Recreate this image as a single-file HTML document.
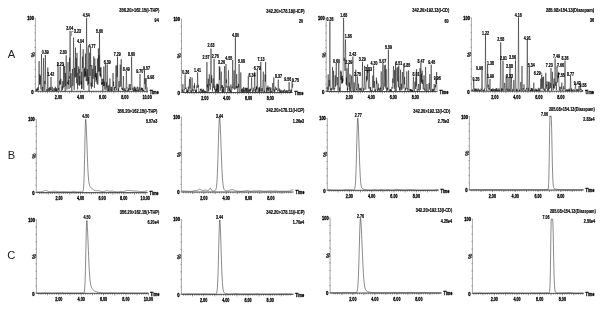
<!DOCTYPE html>
<html><head><meta charset="utf-8"><style>
html,body{margin:0;padding:0;background:#fff;}
body{width:604px;height:310px;overflow:hidden;position:relative;font-family:"Liberation Sans", sans-serif;}
</style></head><body>
<svg width="604" height="310" viewBox="0 0 604 310" style="position:absolute;left:0;top:0;will-change:transform" font-family='"Liberation Sans", sans-serif'>
<rect width="604" height="310" fill="#fff"/>
<line x1="35.40" y1="18.30" x2="35.40" y2="91.30" stroke="#888" stroke-width="0.75"/>
<line x1="34.40" y1="91.30" x2="35.70" y2="91.30" stroke="#777" stroke-width="0.6"/>
<line x1="34.40" y1="84.00" x2="35.70" y2="84.00" stroke="#777" stroke-width="0.6"/>
<line x1="34.40" y1="76.70" x2="35.70" y2="76.70" stroke="#777" stroke-width="0.6"/>
<line x1="34.40" y1="69.40" x2="35.70" y2="69.40" stroke="#777" stroke-width="0.6"/>
<line x1="34.40" y1="62.10" x2="35.70" y2="62.10" stroke="#777" stroke-width="0.6"/>
<line x1="34.40" y1="54.80" x2="35.70" y2="54.80" stroke="#777" stroke-width="0.6"/>
<line x1="34.40" y1="47.50" x2="35.70" y2="47.50" stroke="#777" stroke-width="0.6"/>
<line x1="34.40" y1="40.20" x2="35.70" y2="40.20" stroke="#777" stroke-width="0.6"/>
<line x1="34.40" y1="32.90" x2="35.70" y2="32.90" stroke="#777" stroke-width="0.6"/>
<line x1="34.40" y1="25.60" x2="35.70" y2="25.60" stroke="#777" stroke-width="0.6"/>
<line x1="34.40" y1="18.30" x2="35.70" y2="18.30" stroke="#777" stroke-width="0.6"/>
<line x1="35.40" y1="91.30" x2="147.90" y2="91.30" stroke="#111" stroke-width="0.75"/>
<line x1="38.47" y1="91.30" x2="38.47" y2="92.70" stroke="#333" stroke-width="0.55"/>
<line x1="40.68" y1="91.30" x2="40.68" y2="92.70" stroke="#333" stroke-width="0.55"/>
<line x1="42.90" y1="91.30" x2="42.90" y2="92.70" stroke="#333" stroke-width="0.55"/>
<line x1="45.11" y1="91.30" x2="45.11" y2="92.70" stroke="#333" stroke-width="0.55"/>
<line x1="47.33" y1="91.30" x2="47.33" y2="93.30" stroke="#333" stroke-width="0.6"/>
<line x1="49.55" y1="91.30" x2="49.55" y2="92.70" stroke="#333" stroke-width="0.55"/>
<line x1="51.76" y1="91.30" x2="51.76" y2="92.70" stroke="#333" stroke-width="0.55"/>
<line x1="53.98" y1="91.30" x2="53.98" y2="92.70" stroke="#333" stroke-width="0.55"/>
<line x1="56.19" y1="91.30" x2="56.19" y2="92.70" stroke="#333" stroke-width="0.55"/>
<line x1="58.41" y1="91.30" x2="58.41" y2="93.30" stroke="#333" stroke-width="0.6"/>
<line x1="60.63" y1="91.30" x2="60.63" y2="92.70" stroke="#333" stroke-width="0.55"/>
<line x1="62.84" y1="91.30" x2="62.84" y2="92.70" stroke="#333" stroke-width="0.55"/>
<line x1="65.06" y1="91.30" x2="65.06" y2="92.70" stroke="#333" stroke-width="0.55"/>
<line x1="67.27" y1="91.30" x2="67.27" y2="92.70" stroke="#333" stroke-width="0.55"/>
<line x1="69.49" y1="91.30" x2="69.49" y2="93.30" stroke="#333" stroke-width="0.6"/>
<line x1="71.71" y1="91.30" x2="71.71" y2="92.70" stroke="#333" stroke-width="0.55"/>
<line x1="73.92" y1="91.30" x2="73.92" y2="92.70" stroke="#333" stroke-width="0.55"/>
<line x1="76.14" y1="91.30" x2="76.14" y2="92.70" stroke="#333" stroke-width="0.55"/>
<line x1="78.35" y1="91.30" x2="78.35" y2="92.70" stroke="#333" stroke-width="0.55"/>
<line x1="80.57" y1="91.30" x2="80.57" y2="93.30" stroke="#333" stroke-width="0.6"/>
<line x1="82.79" y1="91.30" x2="82.79" y2="92.70" stroke="#333" stroke-width="0.55"/>
<line x1="85.00" y1="91.30" x2="85.00" y2="92.70" stroke="#333" stroke-width="0.55"/>
<line x1="87.22" y1="91.30" x2="87.22" y2="92.70" stroke="#333" stroke-width="0.55"/>
<line x1="89.43" y1="91.30" x2="89.43" y2="92.70" stroke="#333" stroke-width="0.55"/>
<line x1="91.65" y1="91.30" x2="91.65" y2="93.30" stroke="#333" stroke-width="0.6"/>
<line x1="93.87" y1="91.30" x2="93.87" y2="92.70" stroke="#333" stroke-width="0.55"/>
<line x1="96.08" y1="91.30" x2="96.08" y2="92.70" stroke="#333" stroke-width="0.55"/>
<line x1="98.30" y1="91.30" x2="98.30" y2="92.70" stroke="#333" stroke-width="0.55"/>
<line x1="100.51" y1="91.30" x2="100.51" y2="92.70" stroke="#333" stroke-width="0.55"/>
<line x1="102.73" y1="91.30" x2="102.73" y2="93.30" stroke="#333" stroke-width="0.6"/>
<line x1="104.95" y1="91.30" x2="104.95" y2="92.70" stroke="#333" stroke-width="0.55"/>
<line x1="107.16" y1="91.30" x2="107.16" y2="92.70" stroke="#333" stroke-width="0.55"/>
<line x1="109.38" y1="91.30" x2="109.38" y2="92.70" stroke="#333" stroke-width="0.55"/>
<line x1="111.59" y1="91.30" x2="111.59" y2="92.70" stroke="#333" stroke-width="0.55"/>
<line x1="113.81" y1="91.30" x2="113.81" y2="93.30" stroke="#333" stroke-width="0.6"/>
<line x1="116.03" y1="91.30" x2="116.03" y2="92.70" stroke="#333" stroke-width="0.55"/>
<line x1="118.24" y1="91.30" x2="118.24" y2="92.70" stroke="#333" stroke-width="0.55"/>
<line x1="120.46" y1="91.30" x2="120.46" y2="92.70" stroke="#333" stroke-width="0.55"/>
<line x1="122.67" y1="91.30" x2="122.67" y2="92.70" stroke="#333" stroke-width="0.55"/>
<line x1="124.89" y1="91.30" x2="124.89" y2="93.30" stroke="#333" stroke-width="0.6"/>
<line x1="127.11" y1="91.30" x2="127.11" y2="92.70" stroke="#333" stroke-width="0.55"/>
<line x1="129.32" y1="91.30" x2="129.32" y2="92.70" stroke="#333" stroke-width="0.55"/>
<line x1="131.54" y1="91.30" x2="131.54" y2="92.70" stroke="#333" stroke-width="0.55"/>
<line x1="133.75" y1="91.30" x2="133.75" y2="92.70" stroke="#333" stroke-width="0.55"/>
<line x1="135.97" y1="91.30" x2="135.97" y2="93.30" stroke="#333" stroke-width="0.6"/>
<line x1="138.19" y1="91.30" x2="138.19" y2="92.70" stroke="#333" stroke-width="0.55"/>
<line x1="140.40" y1="91.30" x2="140.40" y2="92.70" stroke="#333" stroke-width="0.55"/>
<line x1="142.62" y1="91.30" x2="142.62" y2="92.70" stroke="#333" stroke-width="0.55"/>
<line x1="144.83" y1="91.30" x2="144.83" y2="92.70" stroke="#333" stroke-width="0.55"/>
<line x1="147.05" y1="91.30" x2="147.05" y2="93.30" stroke="#333" stroke-width="0.6"/>
<text x="58.41" y="98.86" font-size="6.0" text-anchor="middle" font-weight="bold" fill="#000" stroke="#000" stroke-width="0.32" textLength="7.25" lengthAdjust="spacingAndGlyphs">2.00</text>
<text x="80.57" y="98.86" font-size="6.0" text-anchor="middle" font-weight="bold" fill="#000" stroke="#000" stroke-width="0.32" textLength="7.25" lengthAdjust="spacingAndGlyphs">4.00</text>
<text x="102.73" y="98.86" font-size="6.0" text-anchor="middle" font-weight="bold" fill="#000" stroke="#000" stroke-width="0.32" textLength="7.25" lengthAdjust="spacingAndGlyphs">6.00</text>
<text x="124.89" y="98.86" font-size="6.0" text-anchor="middle" font-weight="bold" fill="#000" stroke="#000" stroke-width="0.32" textLength="7.25" lengthAdjust="spacingAndGlyphs">8.00</text>
<text x="147.05" y="98.86" font-size="6.0" text-anchor="middle" font-weight="bold" fill="#000" stroke="#000" stroke-width="0.32" textLength="9.35" lengthAdjust="spacingAndGlyphs">10.00</text>
<text x="149.70" y="93.73" font-size="6.2" text-anchor="start" font-weight="bold" fill="#000" stroke="#000" stroke-width="0.3" textLength="9.00" lengthAdjust="spacingAndGlyphs">Time</text>
<text x="30.60" y="20.33" font-size="6.2" text-anchor="middle" font-weight="bold" fill="#000" stroke="#000" stroke-width="0.4" textLength="6.60" lengthAdjust="spacingAndGlyphs">100</text>
<text x="32.50" y="93.63" font-size="6.2" text-anchor="middle" font-weight="bold" fill="#000" stroke="#000" stroke-width="0.4" textLength="2.40" lengthAdjust="spacingAndGlyphs">0</text>
<text x="0" y="0" font-size="5.6" font-weight="bold" fill="#111" stroke="#111" stroke-width="0.2" text-anchor="middle" transform="translate(34.80,54.80) rotate(-90)">%</text>
<text x="119.30" y="12.16" font-size="6.0" text-anchor="start" font-weight="bold" fill="#000" stroke="#000" stroke-width="0.2" textLength="40.00" lengthAdjust="spacingAndGlyphs">356.20&gt;162.15(I-THP)</text>
<text x="158.80" y="22.06" font-size="6.0" text-anchor="end" font-weight="bold" fill="#000" stroke="#000" stroke-width="0.22" textLength="4.20" lengthAdjust="spacingAndGlyphs">94</text>
<line x1="181.50" y1="19.00" x2="181.50" y2="92.50" stroke="#888" stroke-width="0.75"/>
<line x1="180.50" y1="92.50" x2="181.80" y2="92.50" stroke="#777" stroke-width="0.6"/>
<line x1="180.50" y1="85.15" x2="181.80" y2="85.15" stroke="#777" stroke-width="0.6"/>
<line x1="180.50" y1="77.80" x2="181.80" y2="77.80" stroke="#777" stroke-width="0.6"/>
<line x1="180.50" y1="70.45" x2="181.80" y2="70.45" stroke="#777" stroke-width="0.6"/>
<line x1="180.50" y1="63.10" x2="181.80" y2="63.10" stroke="#777" stroke-width="0.6"/>
<line x1="180.50" y1="55.75" x2="181.80" y2="55.75" stroke="#777" stroke-width="0.6"/>
<line x1="180.50" y1="48.40" x2="181.80" y2="48.40" stroke="#777" stroke-width="0.6"/>
<line x1="180.50" y1="41.05" x2="181.80" y2="41.05" stroke="#777" stroke-width="0.6"/>
<line x1="180.50" y1="33.70" x2="181.80" y2="33.70" stroke="#777" stroke-width="0.6"/>
<line x1="180.50" y1="26.35" x2="181.80" y2="26.35" stroke="#777" stroke-width="0.6"/>
<line x1="180.50" y1="19.00" x2="181.80" y2="19.00" stroke="#777" stroke-width="0.6"/>
<line x1="181.50" y1="92.50" x2="292.60" y2="92.50" stroke="#111" stroke-width="0.75"/>
<line x1="185.28" y1="92.50" x2="185.28" y2="93.90" stroke="#333" stroke-width="0.55"/>
<line x1="187.46" y1="92.50" x2="187.46" y2="93.90" stroke="#333" stroke-width="0.55"/>
<line x1="189.64" y1="92.50" x2="189.64" y2="93.90" stroke="#333" stroke-width="0.55"/>
<line x1="191.82" y1="92.50" x2="191.82" y2="93.90" stroke="#333" stroke-width="0.55"/>
<line x1="194.00" y1="92.50" x2="194.00" y2="94.50" stroke="#333" stroke-width="0.6"/>
<line x1="196.18" y1="92.50" x2="196.18" y2="93.90" stroke="#333" stroke-width="0.55"/>
<line x1="198.36" y1="92.50" x2="198.36" y2="93.90" stroke="#333" stroke-width="0.55"/>
<line x1="200.54" y1="92.50" x2="200.54" y2="93.90" stroke="#333" stroke-width="0.55"/>
<line x1="202.72" y1="92.50" x2="202.72" y2="93.90" stroke="#333" stroke-width="0.55"/>
<line x1="204.90" y1="92.50" x2="204.90" y2="94.50" stroke="#333" stroke-width="0.6"/>
<line x1="207.08" y1="92.50" x2="207.08" y2="93.90" stroke="#333" stroke-width="0.55"/>
<line x1="209.26" y1="92.50" x2="209.26" y2="93.90" stroke="#333" stroke-width="0.55"/>
<line x1="211.44" y1="92.50" x2="211.44" y2="93.90" stroke="#333" stroke-width="0.55"/>
<line x1="213.62" y1="92.50" x2="213.62" y2="93.90" stroke="#333" stroke-width="0.55"/>
<line x1="215.80" y1="92.50" x2="215.80" y2="94.50" stroke="#333" stroke-width="0.6"/>
<line x1="217.98" y1="92.50" x2="217.98" y2="93.90" stroke="#333" stroke-width="0.55"/>
<line x1="220.16" y1="92.50" x2="220.16" y2="93.90" stroke="#333" stroke-width="0.55"/>
<line x1="222.34" y1="92.50" x2="222.34" y2="93.90" stroke="#333" stroke-width="0.55"/>
<line x1="224.52" y1="92.50" x2="224.52" y2="93.90" stroke="#333" stroke-width="0.55"/>
<line x1="226.70" y1="92.50" x2="226.70" y2="94.50" stroke="#333" stroke-width="0.6"/>
<line x1="228.88" y1="92.50" x2="228.88" y2="93.90" stroke="#333" stroke-width="0.55"/>
<line x1="231.06" y1="92.50" x2="231.06" y2="93.90" stroke="#333" stroke-width="0.55"/>
<line x1="233.24" y1="92.50" x2="233.24" y2="93.90" stroke="#333" stroke-width="0.55"/>
<line x1="235.42" y1="92.50" x2="235.42" y2="93.90" stroke="#333" stroke-width="0.55"/>
<line x1="237.60" y1="92.50" x2="237.60" y2="94.50" stroke="#333" stroke-width="0.6"/>
<line x1="239.78" y1="92.50" x2="239.78" y2="93.90" stroke="#333" stroke-width="0.55"/>
<line x1="241.96" y1="92.50" x2="241.96" y2="93.90" stroke="#333" stroke-width="0.55"/>
<line x1="244.14" y1="92.50" x2="244.14" y2="93.90" stroke="#333" stroke-width="0.55"/>
<line x1="246.32" y1="92.50" x2="246.32" y2="93.90" stroke="#333" stroke-width="0.55"/>
<line x1="248.50" y1="92.50" x2="248.50" y2="94.50" stroke="#333" stroke-width="0.6"/>
<line x1="250.68" y1="92.50" x2="250.68" y2="93.90" stroke="#333" stroke-width="0.55"/>
<line x1="252.86" y1="92.50" x2="252.86" y2="93.90" stroke="#333" stroke-width="0.55"/>
<line x1="255.04" y1="92.50" x2="255.04" y2="93.90" stroke="#333" stroke-width="0.55"/>
<line x1="257.22" y1="92.50" x2="257.22" y2="93.90" stroke="#333" stroke-width="0.55"/>
<line x1="259.40" y1="92.50" x2="259.40" y2="94.50" stroke="#333" stroke-width="0.6"/>
<line x1="261.58" y1="92.50" x2="261.58" y2="93.90" stroke="#333" stroke-width="0.55"/>
<line x1="263.76" y1="92.50" x2="263.76" y2="93.90" stroke="#333" stroke-width="0.55"/>
<line x1="265.94" y1="92.50" x2="265.94" y2="93.90" stroke="#333" stroke-width="0.55"/>
<line x1="268.12" y1="92.50" x2="268.12" y2="93.90" stroke="#333" stroke-width="0.55"/>
<line x1="270.30" y1="92.50" x2="270.30" y2="94.50" stroke="#333" stroke-width="0.6"/>
<line x1="272.48" y1="92.50" x2="272.48" y2="93.90" stroke="#333" stroke-width="0.55"/>
<line x1="274.66" y1="92.50" x2="274.66" y2="93.90" stroke="#333" stroke-width="0.55"/>
<line x1="276.84" y1="92.50" x2="276.84" y2="93.90" stroke="#333" stroke-width="0.55"/>
<line x1="279.02" y1="92.50" x2="279.02" y2="93.90" stroke="#333" stroke-width="0.55"/>
<line x1="281.20" y1="92.50" x2="281.20" y2="94.50" stroke="#333" stroke-width="0.6"/>
<line x1="283.38" y1="92.50" x2="283.38" y2="93.90" stroke="#333" stroke-width="0.55"/>
<line x1="285.56" y1="92.50" x2="285.56" y2="93.90" stroke="#333" stroke-width="0.55"/>
<line x1="287.74" y1="92.50" x2="287.74" y2="93.90" stroke="#333" stroke-width="0.55"/>
<line x1="289.92" y1="92.50" x2="289.92" y2="93.90" stroke="#333" stroke-width="0.55"/>
<text x="204.90" y="100.06" font-size="6.0" text-anchor="middle" font-weight="bold" fill="#000" stroke="#000" stroke-width="0.32" textLength="7.25" lengthAdjust="spacingAndGlyphs">2.00</text>
<text x="226.70" y="100.06" font-size="6.0" text-anchor="middle" font-weight="bold" fill="#000" stroke="#000" stroke-width="0.32" textLength="7.25" lengthAdjust="spacingAndGlyphs">4.00</text>
<text x="248.50" y="100.06" font-size="6.0" text-anchor="middle" font-weight="bold" fill="#000" stroke="#000" stroke-width="0.32" textLength="7.25" lengthAdjust="spacingAndGlyphs">6.00</text>
<text x="270.30" y="100.06" font-size="6.0" text-anchor="middle" font-weight="bold" fill="#000" stroke="#000" stroke-width="0.32" textLength="7.25" lengthAdjust="spacingAndGlyphs">8.00</text>
<text x="294.40" y="94.93" font-size="6.2" text-anchor="start" font-weight="bold" fill="#000" stroke="#000" stroke-width="0.3" textLength="9.00" lengthAdjust="spacingAndGlyphs">Time</text>
<text x="176.70" y="21.03" font-size="6.2" text-anchor="middle" font-weight="bold" fill="#000" stroke="#000" stroke-width="0.4" textLength="6.60" lengthAdjust="spacingAndGlyphs">100</text>
<text x="178.60" y="94.83" font-size="6.2" text-anchor="middle" font-weight="bold" fill="#000" stroke="#000" stroke-width="0.4" textLength="2.40" lengthAdjust="spacingAndGlyphs">0</text>
<text x="0" y="0" font-size="5.6" font-weight="bold" fill="#111" stroke="#111" stroke-width="0.2" text-anchor="middle" transform="translate(180.90,55.75) rotate(-90)">%</text>
<text x="266.30" y="13.16" font-size="6.0" text-anchor="start" font-weight="bold" fill="#000" stroke="#000" stroke-width="0.2" textLength="38.40" lengthAdjust="spacingAndGlyphs">342.20&gt;178.18(I-ICP)</text>
<text x="303.20" y="23.06" font-size="6.0" text-anchor="end" font-weight="bold" fill="#000" stroke="#000" stroke-width="0.22" textLength="4.20" lengthAdjust="spacingAndGlyphs">20</text>
<line x1="326.20" y1="18.40" x2="326.20" y2="91.50" stroke="#888" stroke-width="0.75"/>
<line x1="325.20" y1="91.50" x2="326.50" y2="91.50" stroke="#777" stroke-width="0.6"/>
<line x1="325.20" y1="84.19" x2="326.50" y2="84.19" stroke="#777" stroke-width="0.6"/>
<line x1="325.20" y1="76.88" x2="326.50" y2="76.88" stroke="#777" stroke-width="0.6"/>
<line x1="325.20" y1="69.57" x2="326.50" y2="69.57" stroke="#777" stroke-width="0.6"/>
<line x1="325.20" y1="62.26" x2="326.50" y2="62.26" stroke="#777" stroke-width="0.6"/>
<line x1="325.20" y1="54.95" x2="326.50" y2="54.95" stroke="#777" stroke-width="0.6"/>
<line x1="325.20" y1="47.64" x2="326.50" y2="47.64" stroke="#777" stroke-width="0.6"/>
<line x1="325.20" y1="40.33" x2="326.50" y2="40.33" stroke="#777" stroke-width="0.6"/>
<line x1="325.20" y1="33.02" x2="326.50" y2="33.02" stroke="#777" stroke-width="0.6"/>
<line x1="325.20" y1="25.71" x2="326.50" y2="25.71" stroke="#777" stroke-width="0.6"/>
<line x1="325.20" y1="18.40" x2="326.50" y2="18.40" stroke="#777" stroke-width="0.6"/>
<line x1="326.20" y1="91.50" x2="437.60" y2="91.50" stroke="#111" stroke-width="0.75"/>
<line x1="329.50" y1="91.50" x2="329.50" y2="92.90" stroke="#333" stroke-width="0.55"/>
<line x1="331.70" y1="91.50" x2="331.70" y2="92.90" stroke="#333" stroke-width="0.55"/>
<line x1="333.90" y1="91.50" x2="333.90" y2="92.90" stroke="#333" stroke-width="0.55"/>
<line x1="336.10" y1="91.50" x2="336.10" y2="92.90" stroke="#333" stroke-width="0.55"/>
<line x1="338.30" y1="91.50" x2="338.30" y2="93.50" stroke="#333" stroke-width="0.6"/>
<line x1="340.50" y1="91.50" x2="340.50" y2="92.90" stroke="#333" stroke-width="0.55"/>
<line x1="342.70" y1="91.50" x2="342.70" y2="92.90" stroke="#333" stroke-width="0.55"/>
<line x1="344.90" y1="91.50" x2="344.90" y2="92.90" stroke="#333" stroke-width="0.55"/>
<line x1="347.10" y1="91.50" x2="347.10" y2="92.90" stroke="#333" stroke-width="0.55"/>
<line x1="349.30" y1="91.50" x2="349.30" y2="93.50" stroke="#333" stroke-width="0.6"/>
<line x1="351.50" y1="91.50" x2="351.50" y2="92.90" stroke="#333" stroke-width="0.55"/>
<line x1="353.70" y1="91.50" x2="353.70" y2="92.90" stroke="#333" stroke-width="0.55"/>
<line x1="355.90" y1="91.50" x2="355.90" y2="92.90" stroke="#333" stroke-width="0.55"/>
<line x1="358.10" y1="91.50" x2="358.10" y2="92.90" stroke="#333" stroke-width="0.55"/>
<line x1="360.30" y1="91.50" x2="360.30" y2="93.50" stroke="#333" stroke-width="0.6"/>
<line x1="362.50" y1="91.50" x2="362.50" y2="92.90" stroke="#333" stroke-width="0.55"/>
<line x1="364.70" y1="91.50" x2="364.70" y2="92.90" stroke="#333" stroke-width="0.55"/>
<line x1="366.90" y1="91.50" x2="366.90" y2="92.90" stroke="#333" stroke-width="0.55"/>
<line x1="369.10" y1="91.50" x2="369.10" y2="92.90" stroke="#333" stroke-width="0.55"/>
<line x1="371.30" y1="91.50" x2="371.30" y2="93.50" stroke="#333" stroke-width="0.6"/>
<line x1="373.50" y1="91.50" x2="373.50" y2="92.90" stroke="#333" stroke-width="0.55"/>
<line x1="375.70" y1="91.50" x2="375.70" y2="92.90" stroke="#333" stroke-width="0.55"/>
<line x1="377.90" y1="91.50" x2="377.90" y2="92.90" stroke="#333" stroke-width="0.55"/>
<line x1="380.10" y1="91.50" x2="380.10" y2="92.90" stroke="#333" stroke-width="0.55"/>
<line x1="382.30" y1="91.50" x2="382.30" y2="93.50" stroke="#333" stroke-width="0.6"/>
<line x1="384.50" y1="91.50" x2="384.50" y2="92.90" stroke="#333" stroke-width="0.55"/>
<line x1="386.70" y1="91.50" x2="386.70" y2="92.90" stroke="#333" stroke-width="0.55"/>
<line x1="388.90" y1="91.50" x2="388.90" y2="92.90" stroke="#333" stroke-width="0.55"/>
<line x1="391.10" y1="91.50" x2="391.10" y2="92.90" stroke="#333" stroke-width="0.55"/>
<line x1="393.30" y1="91.50" x2="393.30" y2="93.50" stroke="#333" stroke-width="0.6"/>
<line x1="395.50" y1="91.50" x2="395.50" y2="92.90" stroke="#333" stroke-width="0.55"/>
<line x1="397.70" y1="91.50" x2="397.70" y2="92.90" stroke="#333" stroke-width="0.55"/>
<line x1="399.90" y1="91.50" x2="399.90" y2="92.90" stroke="#333" stroke-width="0.55"/>
<line x1="402.10" y1="91.50" x2="402.10" y2="92.90" stroke="#333" stroke-width="0.55"/>
<line x1="404.30" y1="91.50" x2="404.30" y2="93.50" stroke="#333" stroke-width="0.6"/>
<line x1="406.50" y1="91.50" x2="406.50" y2="92.90" stroke="#333" stroke-width="0.55"/>
<line x1="408.70" y1="91.50" x2="408.70" y2="92.90" stroke="#333" stroke-width="0.55"/>
<line x1="410.90" y1="91.50" x2="410.90" y2="92.90" stroke="#333" stroke-width="0.55"/>
<line x1="413.10" y1="91.50" x2="413.10" y2="92.90" stroke="#333" stroke-width="0.55"/>
<line x1="415.30" y1="91.50" x2="415.30" y2="93.50" stroke="#333" stroke-width="0.6"/>
<line x1="417.50" y1="91.50" x2="417.50" y2="92.90" stroke="#333" stroke-width="0.55"/>
<line x1="419.70" y1="91.50" x2="419.70" y2="92.90" stroke="#333" stroke-width="0.55"/>
<line x1="421.90" y1="91.50" x2="421.90" y2="92.90" stroke="#333" stroke-width="0.55"/>
<line x1="424.10" y1="91.50" x2="424.10" y2="92.90" stroke="#333" stroke-width="0.55"/>
<line x1="426.30" y1="91.50" x2="426.30" y2="93.50" stroke="#333" stroke-width="0.6"/>
<line x1="428.50" y1="91.50" x2="428.50" y2="92.90" stroke="#333" stroke-width="0.55"/>
<line x1="430.70" y1="91.50" x2="430.70" y2="92.90" stroke="#333" stroke-width="0.55"/>
<line x1="432.90" y1="91.50" x2="432.90" y2="92.90" stroke="#333" stroke-width="0.55"/>
<line x1="435.10" y1="91.50" x2="435.10" y2="92.90" stroke="#333" stroke-width="0.55"/>
<text x="349.30" y="99.06" font-size="6.0" text-anchor="middle" font-weight="bold" fill="#000" stroke="#000" stroke-width="0.32" textLength="7.25" lengthAdjust="spacingAndGlyphs">2.00</text>
<text x="371.30" y="99.06" font-size="6.0" text-anchor="middle" font-weight="bold" fill="#000" stroke="#000" stroke-width="0.32" textLength="7.25" lengthAdjust="spacingAndGlyphs">4.00</text>
<text x="393.30" y="99.06" font-size="6.0" text-anchor="middle" font-weight="bold" fill="#000" stroke="#000" stroke-width="0.32" textLength="7.25" lengthAdjust="spacingAndGlyphs">6.00</text>
<text x="415.30" y="99.06" font-size="6.0" text-anchor="middle" font-weight="bold" fill="#000" stroke="#000" stroke-width="0.32" textLength="7.25" lengthAdjust="spacingAndGlyphs">8.00</text>
<text x="439.40" y="93.93" font-size="6.2" text-anchor="start" font-weight="bold" fill="#000" stroke="#000" stroke-width="0.3" textLength="9.00" lengthAdjust="spacingAndGlyphs">Time</text>
<text x="321.40" y="20.43" font-size="6.2" text-anchor="middle" font-weight="bold" fill="#000" stroke="#000" stroke-width="0.4" textLength="6.60" lengthAdjust="spacingAndGlyphs">100</text>
<text x="323.30" y="93.83" font-size="6.2" text-anchor="middle" font-weight="bold" fill="#000" stroke="#000" stroke-width="0.4" textLength="2.40" lengthAdjust="spacingAndGlyphs">0</text>
<text x="0" y="0" font-size="5.6" font-weight="bold" fill="#111" stroke="#111" stroke-width="0.2" text-anchor="middle" transform="translate(325.60,54.95) rotate(-90)">%</text>
<text x="412.30" y="12.16" font-size="6.0" text-anchor="start" font-weight="bold" fill="#000" stroke="#000" stroke-width="0.2" textLength="36.90" lengthAdjust="spacingAndGlyphs">342.20&gt;192.13(I-CD)</text>
<text x="448.70" y="22.56" font-size="6.0" text-anchor="end" font-weight="bold" fill="#000" stroke="#000" stroke-width="0.22" textLength="4.20" lengthAdjust="spacingAndGlyphs">60</text>
<line x1="471.40" y1="17.70" x2="471.40" y2="91.20" stroke="#888" stroke-width="0.75"/>
<line x1="470.40" y1="91.20" x2="471.70" y2="91.20" stroke="#777" stroke-width="0.6"/>
<line x1="470.40" y1="83.85" x2="471.70" y2="83.85" stroke="#777" stroke-width="0.6"/>
<line x1="470.40" y1="76.50" x2="471.70" y2="76.50" stroke="#777" stroke-width="0.6"/>
<line x1="470.40" y1="69.15" x2="471.70" y2="69.15" stroke="#777" stroke-width="0.6"/>
<line x1="470.40" y1="61.80" x2="471.70" y2="61.80" stroke="#777" stroke-width="0.6"/>
<line x1="470.40" y1="54.45" x2="471.70" y2="54.45" stroke="#777" stroke-width="0.6"/>
<line x1="470.40" y1="47.10" x2="471.70" y2="47.10" stroke="#777" stroke-width="0.6"/>
<line x1="470.40" y1="39.75" x2="471.70" y2="39.75" stroke="#777" stroke-width="0.6"/>
<line x1="470.40" y1="32.40" x2="471.70" y2="32.40" stroke="#777" stroke-width="0.6"/>
<line x1="470.40" y1="25.05" x2="471.70" y2="25.05" stroke="#777" stroke-width="0.6"/>
<line x1="470.40" y1="17.70" x2="471.70" y2="17.70" stroke="#777" stroke-width="0.6"/>
<line x1="471.40" y1="91.20" x2="583.20" y2="91.20" stroke="#111" stroke-width="0.75"/>
<line x1="475.10" y1="91.20" x2="475.10" y2="92.60" stroke="#333" stroke-width="0.55"/>
<line x1="477.30" y1="91.20" x2="477.30" y2="92.60" stroke="#333" stroke-width="0.55"/>
<line x1="479.50" y1="91.20" x2="479.50" y2="92.60" stroke="#333" stroke-width="0.55"/>
<line x1="481.70" y1="91.20" x2="481.70" y2="92.60" stroke="#333" stroke-width="0.55"/>
<line x1="483.90" y1="91.20" x2="483.90" y2="93.20" stroke="#333" stroke-width="0.6"/>
<line x1="486.10" y1="91.20" x2="486.10" y2="92.60" stroke="#333" stroke-width="0.55"/>
<line x1="488.30" y1="91.20" x2="488.30" y2="92.60" stroke="#333" stroke-width="0.55"/>
<line x1="490.50" y1="91.20" x2="490.50" y2="92.60" stroke="#333" stroke-width="0.55"/>
<line x1="492.70" y1="91.20" x2="492.70" y2="92.60" stroke="#333" stroke-width="0.55"/>
<line x1="494.90" y1="91.20" x2="494.90" y2="93.20" stroke="#333" stroke-width="0.6"/>
<line x1="497.10" y1="91.20" x2="497.10" y2="92.60" stroke="#333" stroke-width="0.55"/>
<line x1="499.30" y1="91.20" x2="499.30" y2="92.60" stroke="#333" stroke-width="0.55"/>
<line x1="501.50" y1="91.20" x2="501.50" y2="92.60" stroke="#333" stroke-width="0.55"/>
<line x1="503.70" y1="91.20" x2="503.70" y2="92.60" stroke="#333" stroke-width="0.55"/>
<line x1="505.90" y1="91.20" x2="505.90" y2="93.20" stroke="#333" stroke-width="0.6"/>
<line x1="508.10" y1="91.20" x2="508.10" y2="92.60" stroke="#333" stroke-width="0.55"/>
<line x1="510.30" y1="91.20" x2="510.30" y2="92.60" stroke="#333" stroke-width="0.55"/>
<line x1="512.50" y1="91.20" x2="512.50" y2="92.60" stroke="#333" stroke-width="0.55"/>
<line x1="514.70" y1="91.20" x2="514.70" y2="92.60" stroke="#333" stroke-width="0.55"/>
<line x1="516.90" y1="91.20" x2="516.90" y2="93.20" stroke="#333" stroke-width="0.6"/>
<line x1="519.10" y1="91.20" x2="519.10" y2="92.60" stroke="#333" stroke-width="0.55"/>
<line x1="521.30" y1="91.20" x2="521.30" y2="92.60" stroke="#333" stroke-width="0.55"/>
<line x1="523.50" y1="91.20" x2="523.50" y2="92.60" stroke="#333" stroke-width="0.55"/>
<line x1="525.70" y1="91.20" x2="525.70" y2="92.60" stroke="#333" stroke-width="0.55"/>
<line x1="527.90" y1="91.20" x2="527.90" y2="93.20" stroke="#333" stroke-width="0.6"/>
<line x1="530.10" y1="91.20" x2="530.10" y2="92.60" stroke="#333" stroke-width="0.55"/>
<line x1="532.30" y1="91.20" x2="532.30" y2="92.60" stroke="#333" stroke-width="0.55"/>
<line x1="534.50" y1="91.20" x2="534.50" y2="92.60" stroke="#333" stroke-width="0.55"/>
<line x1="536.70" y1="91.20" x2="536.70" y2="92.60" stroke="#333" stroke-width="0.55"/>
<line x1="538.90" y1="91.20" x2="538.90" y2="93.20" stroke="#333" stroke-width="0.6"/>
<line x1="541.10" y1="91.20" x2="541.10" y2="92.60" stroke="#333" stroke-width="0.55"/>
<line x1="543.30" y1="91.20" x2="543.30" y2="92.60" stroke="#333" stroke-width="0.55"/>
<line x1="545.50" y1="91.20" x2="545.50" y2="92.60" stroke="#333" stroke-width="0.55"/>
<line x1="547.70" y1="91.20" x2="547.70" y2="92.60" stroke="#333" stroke-width="0.55"/>
<line x1="549.90" y1="91.20" x2="549.90" y2="93.20" stroke="#333" stroke-width="0.6"/>
<line x1="552.10" y1="91.20" x2="552.10" y2="92.60" stroke="#333" stroke-width="0.55"/>
<line x1="554.30" y1="91.20" x2="554.30" y2="92.60" stroke="#333" stroke-width="0.55"/>
<line x1="556.50" y1="91.20" x2="556.50" y2="92.60" stroke="#333" stroke-width="0.55"/>
<line x1="558.70" y1="91.20" x2="558.70" y2="92.60" stroke="#333" stroke-width="0.55"/>
<line x1="560.90" y1="91.20" x2="560.90" y2="93.20" stroke="#333" stroke-width="0.6"/>
<line x1="563.10" y1="91.20" x2="563.10" y2="92.60" stroke="#333" stroke-width="0.55"/>
<line x1="565.30" y1="91.20" x2="565.30" y2="92.60" stroke="#333" stroke-width="0.55"/>
<line x1="567.50" y1="91.20" x2="567.50" y2="92.60" stroke="#333" stroke-width="0.55"/>
<line x1="569.70" y1="91.20" x2="569.70" y2="92.60" stroke="#333" stroke-width="0.55"/>
<line x1="571.90" y1="91.20" x2="571.90" y2="93.20" stroke="#333" stroke-width="0.6"/>
<line x1="574.10" y1="91.20" x2="574.10" y2="92.60" stroke="#333" stroke-width="0.55"/>
<line x1="576.30" y1="91.20" x2="576.30" y2="92.60" stroke="#333" stroke-width="0.55"/>
<line x1="578.50" y1="91.20" x2="578.50" y2="92.60" stroke="#333" stroke-width="0.55"/>
<line x1="580.70" y1="91.20" x2="580.70" y2="92.60" stroke="#333" stroke-width="0.55"/>
<text x="494.90" y="98.76" font-size="6.0" text-anchor="middle" font-weight="bold" fill="#000" stroke="#000" stroke-width="0.32" textLength="7.25" lengthAdjust="spacingAndGlyphs">2.00</text>
<text x="516.90" y="98.76" font-size="6.0" text-anchor="middle" font-weight="bold" fill="#000" stroke="#000" stroke-width="0.32" textLength="7.25" lengthAdjust="spacingAndGlyphs">4.00</text>
<text x="538.90" y="98.76" font-size="6.0" text-anchor="middle" font-weight="bold" fill="#000" stroke="#000" stroke-width="0.32" textLength="7.25" lengthAdjust="spacingAndGlyphs">6.00</text>
<text x="560.90" y="98.76" font-size="6.0" text-anchor="middle" font-weight="bold" fill="#000" stroke="#000" stroke-width="0.32" textLength="7.25" lengthAdjust="spacingAndGlyphs">8.00</text>
<text x="585.00" y="93.63" font-size="6.2" text-anchor="start" font-weight="bold" fill="#000" stroke="#000" stroke-width="0.3" textLength="9.00" lengthAdjust="spacingAndGlyphs">Time</text>
<text x="466.60" y="19.73" font-size="6.2" text-anchor="middle" font-weight="bold" fill="#000" stroke="#000" stroke-width="0.4" textLength="6.60" lengthAdjust="spacingAndGlyphs">100</text>
<text x="468.50" y="93.53" font-size="6.2" text-anchor="middle" font-weight="bold" fill="#000" stroke="#000" stroke-width="0.4" textLength="2.40" lengthAdjust="spacingAndGlyphs">0</text>
<text x="0" y="0" font-size="5.6" font-weight="bold" fill="#111" stroke="#111" stroke-width="0.2" text-anchor="middle" transform="translate(470.80,54.45) rotate(-90)">%</text>
<text x="545.90" y="11.66" font-size="6.0" text-anchor="start" font-weight="bold" fill="#000" stroke="#000" stroke-width="0.2" textLength="48.30" lengthAdjust="spacingAndGlyphs">285.08&gt;154.13(Diazepam)</text>
<text x="594.20" y="21.56" font-size="6.0" text-anchor="end" font-weight="bold" fill="#000" stroke="#000" stroke-width="0.22" textLength="4.20" lengthAdjust="spacingAndGlyphs">36</text>
<line x1="36.30" y1="119.30" x2="36.30" y2="192.60" stroke="#888" stroke-width="0.75"/>
<line x1="35.30" y1="192.60" x2="36.60" y2="192.60" stroke="#777" stroke-width="0.6"/>
<line x1="35.30" y1="185.27" x2="36.60" y2="185.27" stroke="#777" stroke-width="0.6"/>
<line x1="35.30" y1="177.94" x2="36.60" y2="177.94" stroke="#777" stroke-width="0.6"/>
<line x1="35.30" y1="170.61" x2="36.60" y2="170.61" stroke="#777" stroke-width="0.6"/>
<line x1="35.30" y1="163.28" x2="36.60" y2="163.28" stroke="#777" stroke-width="0.6"/>
<line x1="35.30" y1="155.95" x2="36.60" y2="155.95" stroke="#777" stroke-width="0.6"/>
<line x1="35.30" y1="148.62" x2="36.60" y2="148.62" stroke="#777" stroke-width="0.6"/>
<line x1="35.30" y1="141.29" x2="36.60" y2="141.29" stroke="#777" stroke-width="0.6"/>
<line x1="35.30" y1="133.96" x2="36.60" y2="133.96" stroke="#777" stroke-width="0.6"/>
<line x1="35.30" y1="126.63" x2="36.60" y2="126.63" stroke="#777" stroke-width="0.6"/>
<line x1="35.30" y1="119.30" x2="36.60" y2="119.30" stroke="#777" stroke-width="0.6"/>
<line x1="36.30" y1="192.60" x2="147.70" y2="192.60" stroke="#111" stroke-width="0.75"/>
<line x1="39.61" y1="192.60" x2="39.61" y2="194.00" stroke="#333" stroke-width="0.55"/>
<line x1="41.76" y1="192.60" x2="41.76" y2="194.00" stroke="#333" stroke-width="0.55"/>
<line x1="43.92" y1="192.60" x2="43.92" y2="194.00" stroke="#333" stroke-width="0.55"/>
<line x1="46.07" y1="192.60" x2="46.07" y2="194.00" stroke="#333" stroke-width="0.55"/>
<line x1="48.23" y1="192.60" x2="48.23" y2="194.60" stroke="#333" stroke-width="0.6"/>
<line x1="50.39" y1="192.60" x2="50.39" y2="194.00" stroke="#333" stroke-width="0.55"/>
<line x1="52.54" y1="192.60" x2="52.54" y2="194.00" stroke="#333" stroke-width="0.55"/>
<line x1="54.70" y1="192.60" x2="54.70" y2="194.00" stroke="#333" stroke-width="0.55"/>
<line x1="56.85" y1="192.60" x2="56.85" y2="194.00" stroke="#333" stroke-width="0.55"/>
<line x1="59.01" y1="192.60" x2="59.01" y2="194.60" stroke="#333" stroke-width="0.6"/>
<line x1="61.17" y1="192.60" x2="61.17" y2="194.00" stroke="#333" stroke-width="0.55"/>
<line x1="63.32" y1="192.60" x2="63.32" y2="194.00" stroke="#333" stroke-width="0.55"/>
<line x1="65.48" y1="192.60" x2="65.48" y2="194.00" stroke="#333" stroke-width="0.55"/>
<line x1="67.63" y1="192.60" x2="67.63" y2="194.00" stroke="#333" stroke-width="0.55"/>
<line x1="69.79" y1="192.60" x2="69.79" y2="194.60" stroke="#333" stroke-width="0.6"/>
<line x1="71.95" y1="192.60" x2="71.95" y2="194.00" stroke="#333" stroke-width="0.55"/>
<line x1="74.10" y1="192.60" x2="74.10" y2="194.00" stroke="#333" stroke-width="0.55"/>
<line x1="76.26" y1="192.60" x2="76.26" y2="194.00" stroke="#333" stroke-width="0.55"/>
<line x1="78.41" y1="192.60" x2="78.41" y2="194.00" stroke="#333" stroke-width="0.55"/>
<line x1="80.57" y1="192.60" x2="80.57" y2="194.60" stroke="#333" stroke-width="0.6"/>
<line x1="82.73" y1="192.60" x2="82.73" y2="194.00" stroke="#333" stroke-width="0.55"/>
<line x1="84.88" y1="192.60" x2="84.88" y2="194.00" stroke="#333" stroke-width="0.55"/>
<line x1="87.04" y1="192.60" x2="87.04" y2="194.00" stroke="#333" stroke-width="0.55"/>
<line x1="89.19" y1="192.60" x2="89.19" y2="194.00" stroke="#333" stroke-width="0.55"/>
<line x1="91.35" y1="192.60" x2="91.35" y2="194.60" stroke="#333" stroke-width="0.6"/>
<line x1="93.51" y1="192.60" x2="93.51" y2="194.00" stroke="#333" stroke-width="0.55"/>
<line x1="95.66" y1="192.60" x2="95.66" y2="194.00" stroke="#333" stroke-width="0.55"/>
<line x1="97.82" y1="192.60" x2="97.82" y2="194.00" stroke="#333" stroke-width="0.55"/>
<line x1="99.97" y1="192.60" x2="99.97" y2="194.00" stroke="#333" stroke-width="0.55"/>
<line x1="102.13" y1="192.60" x2="102.13" y2="194.60" stroke="#333" stroke-width="0.6"/>
<line x1="104.29" y1="192.60" x2="104.29" y2="194.00" stroke="#333" stroke-width="0.55"/>
<line x1="106.44" y1="192.60" x2="106.44" y2="194.00" stroke="#333" stroke-width="0.55"/>
<line x1="108.60" y1="192.60" x2="108.60" y2="194.00" stroke="#333" stroke-width="0.55"/>
<line x1="110.75" y1="192.60" x2="110.75" y2="194.00" stroke="#333" stroke-width="0.55"/>
<line x1="112.91" y1="192.60" x2="112.91" y2="194.60" stroke="#333" stroke-width="0.6"/>
<line x1="115.07" y1="192.60" x2="115.07" y2="194.00" stroke="#333" stroke-width="0.55"/>
<line x1="117.22" y1="192.60" x2="117.22" y2="194.00" stroke="#333" stroke-width="0.55"/>
<line x1="119.38" y1="192.60" x2="119.38" y2="194.00" stroke="#333" stroke-width="0.55"/>
<line x1="121.53" y1="192.60" x2="121.53" y2="194.00" stroke="#333" stroke-width="0.55"/>
<line x1="123.69" y1="192.60" x2="123.69" y2="194.60" stroke="#333" stroke-width="0.6"/>
<line x1="125.85" y1="192.60" x2="125.85" y2="194.00" stroke="#333" stroke-width="0.55"/>
<line x1="128.00" y1="192.60" x2="128.00" y2="194.00" stroke="#333" stroke-width="0.55"/>
<line x1="130.16" y1="192.60" x2="130.16" y2="194.00" stroke="#333" stroke-width="0.55"/>
<line x1="132.31" y1="192.60" x2="132.31" y2="194.00" stroke="#333" stroke-width="0.55"/>
<line x1="134.47" y1="192.60" x2="134.47" y2="194.60" stroke="#333" stroke-width="0.6"/>
<line x1="136.63" y1="192.60" x2="136.63" y2="194.00" stroke="#333" stroke-width="0.55"/>
<line x1="138.78" y1="192.60" x2="138.78" y2="194.00" stroke="#333" stroke-width="0.55"/>
<line x1="140.94" y1="192.60" x2="140.94" y2="194.00" stroke="#333" stroke-width="0.55"/>
<line x1="143.09" y1="192.60" x2="143.09" y2="194.00" stroke="#333" stroke-width="0.55"/>
<line x1="145.25" y1="192.60" x2="145.25" y2="194.60" stroke="#333" stroke-width="0.6"/>
<text x="59.01" y="200.16" font-size="6.0" text-anchor="middle" font-weight="bold" fill="#000" stroke="#000" stroke-width="0.32" textLength="7.25" lengthAdjust="spacingAndGlyphs">2.00</text>
<text x="80.57" y="200.16" font-size="6.0" text-anchor="middle" font-weight="bold" fill="#000" stroke="#000" stroke-width="0.32" textLength="7.25" lengthAdjust="spacingAndGlyphs">4.00</text>
<text x="102.13" y="200.16" font-size="6.0" text-anchor="middle" font-weight="bold" fill="#000" stroke="#000" stroke-width="0.32" textLength="7.25" lengthAdjust="spacingAndGlyphs">6.00</text>
<text x="123.69" y="200.16" font-size="6.0" text-anchor="middle" font-weight="bold" fill="#000" stroke="#000" stroke-width="0.32" textLength="7.25" lengthAdjust="spacingAndGlyphs">8.00</text>
<text x="145.25" y="200.16" font-size="6.0" text-anchor="middle" font-weight="bold" fill="#000" stroke="#000" stroke-width="0.32" textLength="9.35" lengthAdjust="spacingAndGlyphs">10.00</text>
<text x="149.50" y="195.03" font-size="6.2" text-anchor="start" font-weight="bold" fill="#000" stroke="#000" stroke-width="0.3" textLength="9.00" lengthAdjust="spacingAndGlyphs">Time</text>
<text x="31.50" y="121.33" font-size="6.2" text-anchor="middle" font-weight="bold" fill="#000" stroke="#000" stroke-width="0.4" textLength="6.60" lengthAdjust="spacingAndGlyphs">100</text>
<text x="33.40" y="194.93" font-size="6.2" text-anchor="middle" font-weight="bold" fill="#000" stroke="#000" stroke-width="0.4" textLength="2.40" lengthAdjust="spacingAndGlyphs">0</text>
<text x="0" y="0" font-size="5.6" font-weight="bold" fill="#111" stroke="#111" stroke-width="0.2" text-anchor="middle" transform="translate(35.70,155.95) rotate(-90)">%</text>
<text x="117.40" y="113.16" font-size="6.0" text-anchor="start" font-weight="bold" fill="#000" stroke="#000" stroke-width="0.2" textLength="39.90" lengthAdjust="spacingAndGlyphs">356.20&gt;162.15(I-THP)</text>
<text x="157.30" y="123.06" font-size="6.0" text-anchor="end" font-weight="bold" fill="#000" stroke="#000" stroke-width="0.22" textLength="11.40" lengthAdjust="spacingAndGlyphs">5.57e3</text>
<line x1="181.40" y1="117.20" x2="181.40" y2="192.00" stroke="#888" stroke-width="0.75"/>
<line x1="180.40" y1="192.00" x2="181.70" y2="192.00" stroke="#777" stroke-width="0.6"/>
<line x1="180.40" y1="184.52" x2="181.70" y2="184.52" stroke="#777" stroke-width="0.6"/>
<line x1="180.40" y1="177.04" x2="181.70" y2="177.04" stroke="#777" stroke-width="0.6"/>
<line x1="180.40" y1="169.56" x2="181.70" y2="169.56" stroke="#777" stroke-width="0.6"/>
<line x1="180.40" y1="162.08" x2="181.70" y2="162.08" stroke="#777" stroke-width="0.6"/>
<line x1="180.40" y1="154.60" x2="181.70" y2="154.60" stroke="#777" stroke-width="0.6"/>
<line x1="180.40" y1="147.12" x2="181.70" y2="147.12" stroke="#777" stroke-width="0.6"/>
<line x1="180.40" y1="139.64" x2="181.70" y2="139.64" stroke="#777" stroke-width="0.6"/>
<line x1="180.40" y1="132.16" x2="181.70" y2="132.16" stroke="#777" stroke-width="0.6"/>
<line x1="180.40" y1="124.68" x2="181.70" y2="124.68" stroke="#777" stroke-width="0.6"/>
<line x1="180.40" y1="117.20" x2="181.70" y2="117.20" stroke="#777" stroke-width="0.6"/>
<line x1="181.40" y1="192.00" x2="293.60" y2="192.00" stroke="#111" stroke-width="0.75"/>
<line x1="183.73" y1="192.00" x2="183.73" y2="193.40" stroke="#333" stroke-width="0.55"/>
<line x1="185.97" y1="192.00" x2="185.97" y2="193.40" stroke="#333" stroke-width="0.55"/>
<line x1="188.20" y1="192.00" x2="188.20" y2="193.40" stroke="#333" stroke-width="0.55"/>
<line x1="190.44" y1="192.00" x2="190.44" y2="193.40" stroke="#333" stroke-width="0.55"/>
<line x1="192.67" y1="192.00" x2="192.67" y2="194.00" stroke="#333" stroke-width="0.6"/>
<line x1="194.90" y1="192.00" x2="194.90" y2="193.40" stroke="#333" stroke-width="0.55"/>
<line x1="197.14" y1="192.00" x2="197.14" y2="193.40" stroke="#333" stroke-width="0.55"/>
<line x1="199.37" y1="192.00" x2="199.37" y2="193.40" stroke="#333" stroke-width="0.55"/>
<line x1="201.61" y1="192.00" x2="201.61" y2="193.40" stroke="#333" stroke-width="0.55"/>
<line x1="203.84" y1="192.00" x2="203.84" y2="194.00" stroke="#333" stroke-width="0.6"/>
<line x1="206.07" y1="192.00" x2="206.07" y2="193.40" stroke="#333" stroke-width="0.55"/>
<line x1="208.31" y1="192.00" x2="208.31" y2="193.40" stroke="#333" stroke-width="0.55"/>
<line x1="210.54" y1="192.00" x2="210.54" y2="193.40" stroke="#333" stroke-width="0.55"/>
<line x1="212.78" y1="192.00" x2="212.78" y2="193.40" stroke="#333" stroke-width="0.55"/>
<line x1="215.01" y1="192.00" x2="215.01" y2="194.00" stroke="#333" stroke-width="0.6"/>
<line x1="217.24" y1="192.00" x2="217.24" y2="193.40" stroke="#333" stroke-width="0.55"/>
<line x1="219.48" y1="192.00" x2="219.48" y2="193.40" stroke="#333" stroke-width="0.55"/>
<line x1="221.71" y1="192.00" x2="221.71" y2="193.40" stroke="#333" stroke-width="0.55"/>
<line x1="223.95" y1="192.00" x2="223.95" y2="193.40" stroke="#333" stroke-width="0.55"/>
<line x1="226.18" y1="192.00" x2="226.18" y2="194.00" stroke="#333" stroke-width="0.6"/>
<line x1="228.41" y1="192.00" x2="228.41" y2="193.40" stroke="#333" stroke-width="0.55"/>
<line x1="230.65" y1="192.00" x2="230.65" y2="193.40" stroke="#333" stroke-width="0.55"/>
<line x1="232.88" y1="192.00" x2="232.88" y2="193.40" stroke="#333" stroke-width="0.55"/>
<line x1="235.12" y1="192.00" x2="235.12" y2="193.40" stroke="#333" stroke-width="0.55"/>
<line x1="237.35" y1="192.00" x2="237.35" y2="194.00" stroke="#333" stroke-width="0.6"/>
<line x1="239.58" y1="192.00" x2="239.58" y2="193.40" stroke="#333" stroke-width="0.55"/>
<line x1="241.82" y1="192.00" x2="241.82" y2="193.40" stroke="#333" stroke-width="0.55"/>
<line x1="244.05" y1="192.00" x2="244.05" y2="193.40" stroke="#333" stroke-width="0.55"/>
<line x1="246.29" y1="192.00" x2="246.29" y2="193.40" stroke="#333" stroke-width="0.55"/>
<line x1="248.52" y1="192.00" x2="248.52" y2="194.00" stroke="#333" stroke-width="0.6"/>
<line x1="250.75" y1="192.00" x2="250.75" y2="193.40" stroke="#333" stroke-width="0.55"/>
<line x1="252.99" y1="192.00" x2="252.99" y2="193.40" stroke="#333" stroke-width="0.55"/>
<line x1="255.22" y1="192.00" x2="255.22" y2="193.40" stroke="#333" stroke-width="0.55"/>
<line x1="257.46" y1="192.00" x2="257.46" y2="193.40" stroke="#333" stroke-width="0.55"/>
<line x1="259.69" y1="192.00" x2="259.69" y2="194.00" stroke="#333" stroke-width="0.6"/>
<line x1="261.92" y1="192.00" x2="261.92" y2="193.40" stroke="#333" stroke-width="0.55"/>
<line x1="264.16" y1="192.00" x2="264.16" y2="193.40" stroke="#333" stroke-width="0.55"/>
<line x1="266.39" y1="192.00" x2="266.39" y2="193.40" stroke="#333" stroke-width="0.55"/>
<line x1="268.63" y1="192.00" x2="268.63" y2="193.40" stroke="#333" stroke-width="0.55"/>
<line x1="270.86" y1="192.00" x2="270.86" y2="194.00" stroke="#333" stroke-width="0.6"/>
<line x1="273.09" y1="192.00" x2="273.09" y2="193.40" stroke="#333" stroke-width="0.55"/>
<line x1="275.33" y1="192.00" x2="275.33" y2="193.40" stroke="#333" stroke-width="0.55"/>
<line x1="277.56" y1="192.00" x2="277.56" y2="193.40" stroke="#333" stroke-width="0.55"/>
<line x1="279.80" y1="192.00" x2="279.80" y2="193.40" stroke="#333" stroke-width="0.55"/>
<line x1="282.03" y1="192.00" x2="282.03" y2="194.00" stroke="#333" stroke-width="0.6"/>
<line x1="284.26" y1="192.00" x2="284.26" y2="193.40" stroke="#333" stroke-width="0.55"/>
<line x1="286.50" y1="192.00" x2="286.50" y2="193.40" stroke="#333" stroke-width="0.55"/>
<line x1="288.73" y1="192.00" x2="288.73" y2="193.40" stroke="#333" stroke-width="0.55"/>
<line x1="290.97" y1="192.00" x2="290.97" y2="193.40" stroke="#333" stroke-width="0.55"/>
<text x="203.84" y="199.56" font-size="6.0" text-anchor="middle" font-weight="bold" fill="#000" stroke="#000" stroke-width="0.32" textLength="7.25" lengthAdjust="spacingAndGlyphs">2.00</text>
<text x="226.18" y="199.56" font-size="6.0" text-anchor="middle" font-weight="bold" fill="#000" stroke="#000" stroke-width="0.32" textLength="7.25" lengthAdjust="spacingAndGlyphs">4.00</text>
<text x="248.52" y="199.56" font-size="6.0" text-anchor="middle" font-weight="bold" fill="#000" stroke="#000" stroke-width="0.32" textLength="7.25" lengthAdjust="spacingAndGlyphs">6.00</text>
<text x="270.86" y="199.56" font-size="6.0" text-anchor="middle" font-weight="bold" fill="#000" stroke="#000" stroke-width="0.32" textLength="7.25" lengthAdjust="spacingAndGlyphs">8.00</text>
<text x="295.40" y="194.43" font-size="6.2" text-anchor="start" font-weight="bold" fill="#000" stroke="#000" stroke-width="0.3" textLength="9.00" lengthAdjust="spacingAndGlyphs">Time</text>
<text x="176.60" y="119.23" font-size="6.2" text-anchor="middle" font-weight="bold" fill="#000" stroke="#000" stroke-width="0.4" textLength="6.60" lengthAdjust="spacingAndGlyphs">100</text>
<text x="178.50" y="194.33" font-size="6.2" text-anchor="middle" font-weight="bold" fill="#000" stroke="#000" stroke-width="0.4" textLength="2.40" lengthAdjust="spacingAndGlyphs">0</text>
<text x="0" y="0" font-size="5.6" font-weight="bold" fill="#111" stroke="#111" stroke-width="0.2" text-anchor="middle" transform="translate(180.80,154.60) rotate(-90)">%</text>
<text x="266.30" y="112.16" font-size="6.0" text-anchor="start" font-weight="bold" fill="#000" stroke="#000" stroke-width="0.2" textLength="37.90" lengthAdjust="spacingAndGlyphs">342.20&gt;178.11(I-ICP)</text>
<text x="304.20" y="122.56" font-size="6.0" text-anchor="end" font-weight="bold" fill="#000" stroke="#000" stroke-width="0.22" textLength="11.40" lengthAdjust="spacingAndGlyphs">1.26e3</text>
<line x1="327.30" y1="118.30" x2="327.30" y2="190.30" stroke="#888" stroke-width="0.75"/>
<line x1="326.30" y1="190.30" x2="327.60" y2="190.30" stroke="#777" stroke-width="0.6"/>
<line x1="326.30" y1="183.10" x2="327.60" y2="183.10" stroke="#777" stroke-width="0.6"/>
<line x1="326.30" y1="175.90" x2="327.60" y2="175.90" stroke="#777" stroke-width="0.6"/>
<line x1="326.30" y1="168.70" x2="327.60" y2="168.70" stroke="#777" stroke-width="0.6"/>
<line x1="326.30" y1="161.50" x2="327.60" y2="161.50" stroke="#777" stroke-width="0.6"/>
<line x1="326.30" y1="154.30" x2="327.60" y2="154.30" stroke="#777" stroke-width="0.6"/>
<line x1="326.30" y1="147.10" x2="327.60" y2="147.10" stroke="#777" stroke-width="0.6"/>
<line x1="326.30" y1="139.90" x2="327.60" y2="139.90" stroke="#777" stroke-width="0.6"/>
<line x1="326.30" y1="132.70" x2="327.60" y2="132.70" stroke="#777" stroke-width="0.6"/>
<line x1="326.30" y1="125.50" x2="327.60" y2="125.50" stroke="#777" stroke-width="0.6"/>
<line x1="326.30" y1="118.30" x2="327.60" y2="118.30" stroke="#777" stroke-width="0.6"/>
<line x1="327.30" y1="190.30" x2="438.60" y2="190.30" stroke="#111" stroke-width="0.75"/>
<line x1="329.14" y1="190.30" x2="329.14" y2="191.70" stroke="#333" stroke-width="0.55"/>
<line x1="331.37" y1="190.30" x2="331.37" y2="191.70" stroke="#333" stroke-width="0.55"/>
<line x1="333.61" y1="190.30" x2="333.61" y2="191.70" stroke="#333" stroke-width="0.55"/>
<line x1="335.84" y1="190.30" x2="335.84" y2="191.70" stroke="#333" stroke-width="0.55"/>
<line x1="338.08" y1="190.30" x2="338.08" y2="192.30" stroke="#333" stroke-width="0.6"/>
<line x1="340.32" y1="190.30" x2="340.32" y2="191.70" stroke="#333" stroke-width="0.55"/>
<line x1="342.55" y1="190.30" x2="342.55" y2="191.70" stroke="#333" stroke-width="0.55"/>
<line x1="344.79" y1="190.30" x2="344.79" y2="191.70" stroke="#333" stroke-width="0.55"/>
<line x1="347.02" y1="190.30" x2="347.02" y2="191.70" stroke="#333" stroke-width="0.55"/>
<line x1="349.26" y1="190.30" x2="349.26" y2="192.30" stroke="#333" stroke-width="0.6"/>
<line x1="351.50" y1="190.30" x2="351.50" y2="191.70" stroke="#333" stroke-width="0.55"/>
<line x1="353.73" y1="190.30" x2="353.73" y2="191.70" stroke="#333" stroke-width="0.55"/>
<line x1="355.97" y1="190.30" x2="355.97" y2="191.70" stroke="#333" stroke-width="0.55"/>
<line x1="358.20" y1="190.30" x2="358.20" y2="191.70" stroke="#333" stroke-width="0.55"/>
<line x1="360.44" y1="190.30" x2="360.44" y2="192.30" stroke="#333" stroke-width="0.6"/>
<line x1="362.68" y1="190.30" x2="362.68" y2="191.70" stroke="#333" stroke-width="0.55"/>
<line x1="364.91" y1="190.30" x2="364.91" y2="191.70" stroke="#333" stroke-width="0.55"/>
<line x1="367.15" y1="190.30" x2="367.15" y2="191.70" stroke="#333" stroke-width="0.55"/>
<line x1="369.38" y1="190.30" x2="369.38" y2="191.70" stroke="#333" stroke-width="0.55"/>
<line x1="371.62" y1="190.30" x2="371.62" y2="192.30" stroke="#333" stroke-width="0.6"/>
<line x1="373.86" y1="190.30" x2="373.86" y2="191.70" stroke="#333" stroke-width="0.55"/>
<line x1="376.09" y1="190.30" x2="376.09" y2="191.70" stroke="#333" stroke-width="0.55"/>
<line x1="378.33" y1="190.30" x2="378.33" y2="191.70" stroke="#333" stroke-width="0.55"/>
<line x1="380.56" y1="190.30" x2="380.56" y2="191.70" stroke="#333" stroke-width="0.55"/>
<line x1="382.80" y1="190.30" x2="382.80" y2="192.30" stroke="#333" stroke-width="0.6"/>
<line x1="385.04" y1="190.30" x2="385.04" y2="191.70" stroke="#333" stroke-width="0.55"/>
<line x1="387.27" y1="190.30" x2="387.27" y2="191.70" stroke="#333" stroke-width="0.55"/>
<line x1="389.51" y1="190.30" x2="389.51" y2="191.70" stroke="#333" stroke-width="0.55"/>
<line x1="391.74" y1="190.30" x2="391.74" y2="191.70" stroke="#333" stroke-width="0.55"/>
<line x1="393.98" y1="190.30" x2="393.98" y2="192.30" stroke="#333" stroke-width="0.6"/>
<line x1="396.22" y1="190.30" x2="396.22" y2="191.70" stroke="#333" stroke-width="0.55"/>
<line x1="398.45" y1="190.30" x2="398.45" y2="191.70" stroke="#333" stroke-width="0.55"/>
<line x1="400.69" y1="190.30" x2="400.69" y2="191.70" stroke="#333" stroke-width="0.55"/>
<line x1="402.92" y1="190.30" x2="402.92" y2="191.70" stroke="#333" stroke-width="0.55"/>
<line x1="405.16" y1="190.30" x2="405.16" y2="192.30" stroke="#333" stroke-width="0.6"/>
<line x1="407.40" y1="190.30" x2="407.40" y2="191.70" stroke="#333" stroke-width="0.55"/>
<line x1="409.63" y1="190.30" x2="409.63" y2="191.70" stroke="#333" stroke-width="0.55"/>
<line x1="411.87" y1="190.30" x2="411.87" y2="191.70" stroke="#333" stroke-width="0.55"/>
<line x1="414.10" y1="190.30" x2="414.10" y2="191.70" stroke="#333" stroke-width="0.55"/>
<line x1="416.34" y1="190.30" x2="416.34" y2="192.30" stroke="#333" stroke-width="0.6"/>
<line x1="418.58" y1="190.30" x2="418.58" y2="191.70" stroke="#333" stroke-width="0.55"/>
<line x1="420.81" y1="190.30" x2="420.81" y2="191.70" stroke="#333" stroke-width="0.55"/>
<line x1="423.05" y1="190.30" x2="423.05" y2="191.70" stroke="#333" stroke-width="0.55"/>
<line x1="425.28" y1="190.30" x2="425.28" y2="191.70" stroke="#333" stroke-width="0.55"/>
<line x1="427.52" y1="190.30" x2="427.52" y2="192.30" stroke="#333" stroke-width="0.6"/>
<line x1="429.76" y1="190.30" x2="429.76" y2="191.70" stroke="#333" stroke-width="0.55"/>
<line x1="431.99" y1="190.30" x2="431.99" y2="191.70" stroke="#333" stroke-width="0.55"/>
<line x1="434.23" y1="190.30" x2="434.23" y2="191.70" stroke="#333" stroke-width="0.55"/>
<line x1="436.46" y1="190.30" x2="436.46" y2="191.70" stroke="#333" stroke-width="0.55"/>
<text x="349.26" y="197.86" font-size="6.0" text-anchor="middle" font-weight="bold" fill="#000" stroke="#000" stroke-width="0.32" textLength="7.25" lengthAdjust="spacingAndGlyphs">2.00</text>
<text x="371.62" y="197.86" font-size="6.0" text-anchor="middle" font-weight="bold" fill="#000" stroke="#000" stroke-width="0.32" textLength="7.25" lengthAdjust="spacingAndGlyphs">4.00</text>
<text x="393.98" y="197.86" font-size="6.0" text-anchor="middle" font-weight="bold" fill="#000" stroke="#000" stroke-width="0.32" textLength="7.25" lengthAdjust="spacingAndGlyphs">6.00</text>
<text x="416.34" y="197.86" font-size="6.0" text-anchor="middle" font-weight="bold" fill="#000" stroke="#000" stroke-width="0.32" textLength="7.25" lengthAdjust="spacingAndGlyphs">8.00</text>
<text x="440.40" y="192.73" font-size="6.2" text-anchor="start" font-weight="bold" fill="#000" stroke="#000" stroke-width="0.3" textLength="9.00" lengthAdjust="spacingAndGlyphs">Time</text>
<text x="322.50" y="120.33" font-size="6.2" text-anchor="middle" font-weight="bold" fill="#000" stroke="#000" stroke-width="0.4" textLength="6.60" lengthAdjust="spacingAndGlyphs">100</text>
<text x="324.40" y="192.63" font-size="6.2" text-anchor="middle" font-weight="bold" fill="#000" stroke="#000" stroke-width="0.4" textLength="2.40" lengthAdjust="spacingAndGlyphs">0</text>
<text x="0" y="0" font-size="5.6" font-weight="bold" fill="#111" stroke="#111" stroke-width="0.2" text-anchor="middle" transform="translate(326.70,154.30) rotate(-90)">%</text>
<text x="413.30" y="112.66" font-size="6.0" text-anchor="start" font-weight="bold" fill="#000" stroke="#000" stroke-width="0.2" textLength="36.90" lengthAdjust="spacingAndGlyphs">342.20&gt;192.13(I-CD)</text>
<text x="449.20" y="122.56" font-size="6.0" text-anchor="end" font-weight="bold" fill="#000" stroke="#000" stroke-width="0.22" textLength="11.40" lengthAdjust="spacingAndGlyphs">2.75e3</text>
<line x1="469.40" y1="116.50" x2="469.40" y2="190.00" stroke="#888" stroke-width="0.75"/>
<line x1="468.40" y1="190.00" x2="469.70" y2="190.00" stroke="#777" stroke-width="0.6"/>
<line x1="468.40" y1="182.65" x2="469.70" y2="182.65" stroke="#777" stroke-width="0.6"/>
<line x1="468.40" y1="175.30" x2="469.70" y2="175.30" stroke="#777" stroke-width="0.6"/>
<line x1="468.40" y1="167.95" x2="469.70" y2="167.95" stroke="#777" stroke-width="0.6"/>
<line x1="468.40" y1="160.60" x2="469.70" y2="160.60" stroke="#777" stroke-width="0.6"/>
<line x1="468.40" y1="153.25" x2="469.70" y2="153.25" stroke="#777" stroke-width="0.6"/>
<line x1="468.40" y1="145.90" x2="469.70" y2="145.90" stroke="#777" stroke-width="0.6"/>
<line x1="468.40" y1="138.55" x2="469.70" y2="138.55" stroke="#777" stroke-width="0.6"/>
<line x1="468.40" y1="131.20" x2="469.70" y2="131.20" stroke="#777" stroke-width="0.6"/>
<line x1="468.40" y1="123.85" x2="469.70" y2="123.85" stroke="#777" stroke-width="0.6"/>
<line x1="468.40" y1="116.50" x2="469.70" y2="116.50" stroke="#777" stroke-width="0.6"/>
<line x1="469.40" y1="190.00" x2="583.60" y2="190.00" stroke="#111" stroke-width="0.75"/>
<line x1="471.88" y1="190.00" x2="471.88" y2="191.40" stroke="#333" stroke-width="0.55"/>
<line x1="474.16" y1="190.00" x2="474.16" y2="191.40" stroke="#333" stroke-width="0.55"/>
<line x1="476.44" y1="190.00" x2="476.44" y2="191.40" stroke="#333" stroke-width="0.55"/>
<line x1="478.72" y1="190.00" x2="478.72" y2="191.40" stroke="#333" stroke-width="0.55"/>
<line x1="481.00" y1="190.00" x2="481.00" y2="192.00" stroke="#333" stroke-width="0.6"/>
<line x1="483.28" y1="190.00" x2="483.28" y2="191.40" stroke="#333" stroke-width="0.55"/>
<line x1="485.56" y1="190.00" x2="485.56" y2="191.40" stroke="#333" stroke-width="0.55"/>
<line x1="487.84" y1="190.00" x2="487.84" y2="191.40" stroke="#333" stroke-width="0.55"/>
<line x1="490.12" y1="190.00" x2="490.12" y2="191.40" stroke="#333" stroke-width="0.55"/>
<line x1="492.40" y1="190.00" x2="492.40" y2="192.00" stroke="#333" stroke-width="0.6"/>
<line x1="494.68" y1="190.00" x2="494.68" y2="191.40" stroke="#333" stroke-width="0.55"/>
<line x1="496.96" y1="190.00" x2="496.96" y2="191.40" stroke="#333" stroke-width="0.55"/>
<line x1="499.24" y1="190.00" x2="499.24" y2="191.40" stroke="#333" stroke-width="0.55"/>
<line x1="501.52" y1="190.00" x2="501.52" y2="191.40" stroke="#333" stroke-width="0.55"/>
<line x1="503.80" y1="190.00" x2="503.80" y2="192.00" stroke="#333" stroke-width="0.6"/>
<line x1="506.08" y1="190.00" x2="506.08" y2="191.40" stroke="#333" stroke-width="0.55"/>
<line x1="508.36" y1="190.00" x2="508.36" y2="191.40" stroke="#333" stroke-width="0.55"/>
<line x1="510.64" y1="190.00" x2="510.64" y2="191.40" stroke="#333" stroke-width="0.55"/>
<line x1="512.92" y1="190.00" x2="512.92" y2="191.40" stroke="#333" stroke-width="0.55"/>
<line x1="515.20" y1="190.00" x2="515.20" y2="192.00" stroke="#333" stroke-width="0.6"/>
<line x1="517.48" y1="190.00" x2="517.48" y2="191.40" stroke="#333" stroke-width="0.55"/>
<line x1="519.76" y1="190.00" x2="519.76" y2="191.40" stroke="#333" stroke-width="0.55"/>
<line x1="522.04" y1="190.00" x2="522.04" y2="191.40" stroke="#333" stroke-width="0.55"/>
<line x1="524.32" y1="190.00" x2="524.32" y2="191.40" stroke="#333" stroke-width="0.55"/>
<line x1="526.60" y1="190.00" x2="526.60" y2="192.00" stroke="#333" stroke-width="0.6"/>
<line x1="528.88" y1="190.00" x2="528.88" y2="191.40" stroke="#333" stroke-width="0.55"/>
<line x1="531.16" y1="190.00" x2="531.16" y2="191.40" stroke="#333" stroke-width="0.55"/>
<line x1="533.44" y1="190.00" x2="533.44" y2="191.40" stroke="#333" stroke-width="0.55"/>
<line x1="535.72" y1="190.00" x2="535.72" y2="191.40" stroke="#333" stroke-width="0.55"/>
<line x1="538.00" y1="190.00" x2="538.00" y2="192.00" stroke="#333" stroke-width="0.6"/>
<line x1="540.28" y1="190.00" x2="540.28" y2="191.40" stroke="#333" stroke-width="0.55"/>
<line x1="542.56" y1="190.00" x2="542.56" y2="191.40" stroke="#333" stroke-width="0.55"/>
<line x1="544.84" y1="190.00" x2="544.84" y2="191.40" stroke="#333" stroke-width="0.55"/>
<line x1="547.12" y1="190.00" x2="547.12" y2="191.40" stroke="#333" stroke-width="0.55"/>
<line x1="549.40" y1="190.00" x2="549.40" y2="192.00" stroke="#333" stroke-width="0.6"/>
<line x1="551.68" y1="190.00" x2="551.68" y2="191.40" stroke="#333" stroke-width="0.55"/>
<line x1="553.96" y1="190.00" x2="553.96" y2="191.40" stroke="#333" stroke-width="0.55"/>
<line x1="556.24" y1="190.00" x2="556.24" y2="191.40" stroke="#333" stroke-width="0.55"/>
<line x1="558.52" y1="190.00" x2="558.52" y2="191.40" stroke="#333" stroke-width="0.55"/>
<line x1="560.80" y1="190.00" x2="560.80" y2="192.00" stroke="#333" stroke-width="0.6"/>
<line x1="563.08" y1="190.00" x2="563.08" y2="191.40" stroke="#333" stroke-width="0.55"/>
<line x1="565.36" y1="190.00" x2="565.36" y2="191.40" stroke="#333" stroke-width="0.55"/>
<line x1="567.64" y1="190.00" x2="567.64" y2="191.40" stroke="#333" stroke-width="0.55"/>
<line x1="569.92" y1="190.00" x2="569.92" y2="191.40" stroke="#333" stroke-width="0.55"/>
<line x1="572.20" y1="190.00" x2="572.20" y2="192.00" stroke="#333" stroke-width="0.6"/>
<line x1="574.48" y1="190.00" x2="574.48" y2="191.40" stroke="#333" stroke-width="0.55"/>
<line x1="576.76" y1="190.00" x2="576.76" y2="191.40" stroke="#333" stroke-width="0.55"/>
<line x1="579.04" y1="190.00" x2="579.04" y2="191.40" stroke="#333" stroke-width="0.55"/>
<line x1="581.32" y1="190.00" x2="581.32" y2="191.40" stroke="#333" stroke-width="0.55"/>
<text x="492.40" y="197.56" font-size="6.0" text-anchor="middle" font-weight="bold" fill="#000" stroke="#000" stroke-width="0.32" textLength="7.25" lengthAdjust="spacingAndGlyphs">2.00</text>
<text x="515.20" y="197.56" font-size="6.0" text-anchor="middle" font-weight="bold" fill="#000" stroke="#000" stroke-width="0.32" textLength="7.25" lengthAdjust="spacingAndGlyphs">4.00</text>
<text x="538.00" y="197.56" font-size="6.0" text-anchor="middle" font-weight="bold" fill="#000" stroke="#000" stroke-width="0.32" textLength="7.25" lengthAdjust="spacingAndGlyphs">6.00</text>
<text x="560.80" y="197.56" font-size="6.0" text-anchor="middle" font-weight="bold" fill="#000" stroke="#000" stroke-width="0.32" textLength="7.25" lengthAdjust="spacingAndGlyphs">8.00</text>
<text x="585.40" y="192.43" font-size="6.2" text-anchor="start" font-weight="bold" fill="#000" stroke="#000" stroke-width="0.3" textLength="9.00" lengthAdjust="spacingAndGlyphs">Time</text>
<text x="464.60" y="118.53" font-size="6.2" text-anchor="middle" font-weight="bold" fill="#000" stroke="#000" stroke-width="0.4" textLength="6.60" lengthAdjust="spacingAndGlyphs">100</text>
<text x="466.50" y="192.33" font-size="6.2" text-anchor="middle" font-weight="bold" fill="#000" stroke="#000" stroke-width="0.4" textLength="2.40" lengthAdjust="spacingAndGlyphs">0</text>
<text x="0" y="0" font-size="5.6" font-weight="bold" fill="#111" stroke="#111" stroke-width="0.2" text-anchor="middle" transform="translate(468.80,153.25) rotate(-90)">%</text>
<text x="548.90" y="110.96" font-size="6.0" text-anchor="start" font-weight="bold" fill="#000" stroke="#000" stroke-width="0.2" textLength="45.80" lengthAdjust="spacingAndGlyphs">285.08&gt;154.13(Diazepam)</text>
<text x="594.70" y="120.56" font-size="6.0" text-anchor="end" font-weight="bold" fill="#000" stroke="#000" stroke-width="0.22" textLength="11.40" lengthAdjust="spacingAndGlyphs">2.83e4</text>
<line x1="36.40" y1="219.70" x2="36.40" y2="293.30" stroke="#888" stroke-width="0.75"/>
<line x1="35.40" y1="293.30" x2="36.70" y2="293.30" stroke="#777" stroke-width="0.6"/>
<line x1="35.40" y1="285.94" x2="36.70" y2="285.94" stroke="#777" stroke-width="0.6"/>
<line x1="35.40" y1="278.58" x2="36.70" y2="278.58" stroke="#777" stroke-width="0.6"/>
<line x1="35.40" y1="271.22" x2="36.70" y2="271.22" stroke="#777" stroke-width="0.6"/>
<line x1="35.40" y1="263.86" x2="36.70" y2="263.86" stroke="#777" stroke-width="0.6"/>
<line x1="35.40" y1="256.50" x2="36.70" y2="256.50" stroke="#777" stroke-width="0.6"/>
<line x1="35.40" y1="249.14" x2="36.70" y2="249.14" stroke="#777" stroke-width="0.6"/>
<line x1="35.40" y1="241.78" x2="36.70" y2="241.78" stroke="#777" stroke-width="0.6"/>
<line x1="35.40" y1="234.42" x2="36.70" y2="234.42" stroke="#777" stroke-width="0.6"/>
<line x1="35.40" y1="227.06" x2="36.70" y2="227.06" stroke="#777" stroke-width="0.6"/>
<line x1="35.40" y1="219.70" x2="36.70" y2="219.70" stroke="#777" stroke-width="0.6"/>
<line x1="36.40" y1="293.30" x2="148.50" y2="293.30" stroke="#111" stroke-width="0.75"/>
<line x1="38.64" y1="293.30" x2="38.64" y2="294.70" stroke="#333" stroke-width="0.55"/>
<line x1="40.88" y1="293.30" x2="40.88" y2="294.70" stroke="#333" stroke-width="0.55"/>
<line x1="43.11" y1="293.30" x2="43.11" y2="294.70" stroke="#333" stroke-width="0.55"/>
<line x1="45.35" y1="293.30" x2="45.35" y2="294.70" stroke="#333" stroke-width="0.55"/>
<line x1="47.59" y1="293.30" x2="47.59" y2="295.30" stroke="#333" stroke-width="0.6"/>
<line x1="49.83" y1="293.30" x2="49.83" y2="294.70" stroke="#333" stroke-width="0.55"/>
<line x1="52.07" y1="293.30" x2="52.07" y2="294.70" stroke="#333" stroke-width="0.55"/>
<line x1="54.30" y1="293.30" x2="54.30" y2="294.70" stroke="#333" stroke-width="0.55"/>
<line x1="56.54" y1="293.30" x2="56.54" y2="294.70" stroke="#333" stroke-width="0.55"/>
<line x1="58.78" y1="293.30" x2="58.78" y2="295.30" stroke="#333" stroke-width="0.6"/>
<line x1="61.02" y1="293.30" x2="61.02" y2="294.70" stroke="#333" stroke-width="0.55"/>
<line x1="63.26" y1="293.30" x2="63.26" y2="294.70" stroke="#333" stroke-width="0.55"/>
<line x1="65.49" y1="293.30" x2="65.49" y2="294.70" stroke="#333" stroke-width="0.55"/>
<line x1="67.73" y1="293.30" x2="67.73" y2="294.70" stroke="#333" stroke-width="0.55"/>
<line x1="69.97" y1="293.30" x2="69.97" y2="295.30" stroke="#333" stroke-width="0.6"/>
<line x1="72.21" y1="293.30" x2="72.21" y2="294.70" stroke="#333" stroke-width="0.55"/>
<line x1="74.45" y1="293.30" x2="74.45" y2="294.70" stroke="#333" stroke-width="0.55"/>
<line x1="76.68" y1="293.30" x2="76.68" y2="294.70" stroke="#333" stroke-width="0.55"/>
<line x1="78.92" y1="293.30" x2="78.92" y2="294.70" stroke="#333" stroke-width="0.55"/>
<line x1="81.16" y1="293.30" x2="81.16" y2="295.30" stroke="#333" stroke-width="0.6"/>
<line x1="83.40" y1="293.30" x2="83.40" y2="294.70" stroke="#333" stroke-width="0.55"/>
<line x1="85.64" y1="293.30" x2="85.64" y2="294.70" stroke="#333" stroke-width="0.55"/>
<line x1="87.87" y1="293.30" x2="87.87" y2="294.70" stroke="#333" stroke-width="0.55"/>
<line x1="90.11" y1="293.30" x2="90.11" y2="294.70" stroke="#333" stroke-width="0.55"/>
<line x1="92.35" y1="293.30" x2="92.35" y2="295.30" stroke="#333" stroke-width="0.6"/>
<line x1="94.59" y1="293.30" x2="94.59" y2="294.70" stroke="#333" stroke-width="0.55"/>
<line x1="96.83" y1="293.30" x2="96.83" y2="294.70" stroke="#333" stroke-width="0.55"/>
<line x1="99.06" y1="293.30" x2="99.06" y2="294.70" stroke="#333" stroke-width="0.55"/>
<line x1="101.30" y1="293.30" x2="101.30" y2="294.70" stroke="#333" stroke-width="0.55"/>
<line x1="103.54" y1="293.30" x2="103.54" y2="295.30" stroke="#333" stroke-width="0.6"/>
<line x1="105.78" y1="293.30" x2="105.78" y2="294.70" stroke="#333" stroke-width="0.55"/>
<line x1="108.02" y1="293.30" x2="108.02" y2="294.70" stroke="#333" stroke-width="0.55"/>
<line x1="110.25" y1="293.30" x2="110.25" y2="294.70" stroke="#333" stroke-width="0.55"/>
<line x1="112.49" y1="293.30" x2="112.49" y2="294.70" stroke="#333" stroke-width="0.55"/>
<line x1="114.73" y1="293.30" x2="114.73" y2="295.30" stroke="#333" stroke-width="0.6"/>
<line x1="116.97" y1="293.30" x2="116.97" y2="294.70" stroke="#333" stroke-width="0.55"/>
<line x1="119.21" y1="293.30" x2="119.21" y2="294.70" stroke="#333" stroke-width="0.55"/>
<line x1="121.44" y1="293.30" x2="121.44" y2="294.70" stroke="#333" stroke-width="0.55"/>
<line x1="123.68" y1="293.30" x2="123.68" y2="294.70" stroke="#333" stroke-width="0.55"/>
<line x1="125.92" y1="293.30" x2="125.92" y2="295.30" stroke="#333" stroke-width="0.6"/>
<line x1="128.16" y1="293.30" x2="128.16" y2="294.70" stroke="#333" stroke-width="0.55"/>
<line x1="130.40" y1="293.30" x2="130.40" y2="294.70" stroke="#333" stroke-width="0.55"/>
<line x1="132.63" y1="293.30" x2="132.63" y2="294.70" stroke="#333" stroke-width="0.55"/>
<line x1="134.87" y1="293.30" x2="134.87" y2="294.70" stroke="#333" stroke-width="0.55"/>
<line x1="137.11" y1="293.30" x2="137.11" y2="295.30" stroke="#333" stroke-width="0.6"/>
<line x1="139.35" y1="293.30" x2="139.35" y2="294.70" stroke="#333" stroke-width="0.55"/>
<line x1="141.59" y1="293.30" x2="141.59" y2="294.70" stroke="#333" stroke-width="0.55"/>
<line x1="143.82" y1="293.30" x2="143.82" y2="294.70" stroke="#333" stroke-width="0.55"/>
<line x1="146.06" y1="293.30" x2="146.06" y2="294.70" stroke="#333" stroke-width="0.55"/>
<line x1="148.30" y1="293.30" x2="148.30" y2="295.30" stroke="#333" stroke-width="0.6"/>
<text x="58.78" y="300.86" font-size="6.0" text-anchor="middle" font-weight="bold" fill="#000" stroke="#000" stroke-width="0.32" textLength="7.25" lengthAdjust="spacingAndGlyphs">2.00</text>
<text x="81.16" y="300.86" font-size="6.0" text-anchor="middle" font-weight="bold" fill="#000" stroke="#000" stroke-width="0.32" textLength="7.25" lengthAdjust="spacingAndGlyphs">4.00</text>
<text x="103.54" y="300.86" font-size="6.0" text-anchor="middle" font-weight="bold" fill="#000" stroke="#000" stroke-width="0.32" textLength="7.25" lengthAdjust="spacingAndGlyphs">6.00</text>
<text x="125.92" y="300.86" font-size="6.0" text-anchor="middle" font-weight="bold" fill="#000" stroke="#000" stroke-width="0.32" textLength="7.25" lengthAdjust="spacingAndGlyphs">8.00</text>
<text x="148.30" y="300.86" font-size="6.0" text-anchor="middle" font-weight="bold" fill="#000" stroke="#000" stroke-width="0.32" textLength="9.35" lengthAdjust="spacingAndGlyphs">10.00</text>
<text x="150.30" y="295.73" font-size="6.2" text-anchor="start" font-weight="bold" fill="#000" stroke="#000" stroke-width="0.3" textLength="9.00" lengthAdjust="spacingAndGlyphs">Time</text>
<text x="31.60" y="221.73" font-size="6.2" text-anchor="middle" font-weight="bold" fill="#000" stroke="#000" stroke-width="0.4" textLength="6.60" lengthAdjust="spacingAndGlyphs">100</text>
<text x="33.50" y="295.63" font-size="6.2" text-anchor="middle" font-weight="bold" fill="#000" stroke="#000" stroke-width="0.4" textLength="2.40" lengthAdjust="spacingAndGlyphs">0</text>
<text x="0" y="0" font-size="5.6" font-weight="bold" fill="#111" stroke="#111" stroke-width="0.2" text-anchor="middle" transform="translate(35.80,256.50) rotate(-90)">%</text>
<text x="119.80" y="213.66" font-size="6.0" text-anchor="start" font-weight="bold" fill="#000" stroke="#000" stroke-width="0.2" textLength="39.50" lengthAdjust="spacingAndGlyphs">356.20&gt;162.15(I-THP)</text>
<text x="158.80" y="224.06" font-size="6.0" text-anchor="end" font-weight="bold" fill="#000" stroke="#000" stroke-width="0.22" textLength="11.40" lengthAdjust="spacingAndGlyphs">6.20e4</text>
<line x1="181.40" y1="219.40" x2="181.40" y2="294.30" stroke="#888" stroke-width="0.75"/>
<line x1="180.40" y1="294.30" x2="181.70" y2="294.30" stroke="#777" stroke-width="0.6"/>
<line x1="180.40" y1="286.81" x2="181.70" y2="286.81" stroke="#777" stroke-width="0.6"/>
<line x1="180.40" y1="279.32" x2="181.70" y2="279.32" stroke="#777" stroke-width="0.6"/>
<line x1="180.40" y1="271.83" x2="181.70" y2="271.83" stroke="#777" stroke-width="0.6"/>
<line x1="180.40" y1="264.34" x2="181.70" y2="264.34" stroke="#777" stroke-width="0.6"/>
<line x1="180.40" y1="256.85" x2="181.70" y2="256.85" stroke="#777" stroke-width="0.6"/>
<line x1="180.40" y1="249.36" x2="181.70" y2="249.36" stroke="#777" stroke-width="0.6"/>
<line x1="180.40" y1="241.87" x2="181.70" y2="241.87" stroke="#777" stroke-width="0.6"/>
<line x1="180.40" y1="234.38" x2="181.70" y2="234.38" stroke="#777" stroke-width="0.6"/>
<line x1="180.40" y1="226.89" x2="181.70" y2="226.89" stroke="#777" stroke-width="0.6"/>
<line x1="180.40" y1="219.40" x2="181.70" y2="219.40" stroke="#777" stroke-width="0.6"/>
<line x1="181.40" y1="294.30" x2="293.40" y2="294.30" stroke="#111" stroke-width="0.75"/>
<line x1="183.62" y1="294.30" x2="183.62" y2="295.70" stroke="#333" stroke-width="0.55"/>
<line x1="185.84" y1="294.30" x2="185.84" y2="295.70" stroke="#333" stroke-width="0.55"/>
<line x1="188.06" y1="294.30" x2="188.06" y2="295.70" stroke="#333" stroke-width="0.55"/>
<line x1="190.28" y1="294.30" x2="190.28" y2="295.70" stroke="#333" stroke-width="0.55"/>
<line x1="192.50" y1="294.30" x2="192.50" y2="296.30" stroke="#333" stroke-width="0.6"/>
<line x1="194.72" y1="294.30" x2="194.72" y2="295.70" stroke="#333" stroke-width="0.55"/>
<line x1="196.94" y1="294.30" x2="196.94" y2="295.70" stroke="#333" stroke-width="0.55"/>
<line x1="199.16" y1="294.30" x2="199.16" y2="295.70" stroke="#333" stroke-width="0.55"/>
<line x1="201.38" y1="294.30" x2="201.38" y2="295.70" stroke="#333" stroke-width="0.55"/>
<line x1="203.60" y1="294.30" x2="203.60" y2="296.30" stroke="#333" stroke-width="0.6"/>
<line x1="205.82" y1="294.30" x2="205.82" y2="295.70" stroke="#333" stroke-width="0.55"/>
<line x1="208.04" y1="294.30" x2="208.04" y2="295.70" stroke="#333" stroke-width="0.55"/>
<line x1="210.26" y1="294.30" x2="210.26" y2="295.70" stroke="#333" stroke-width="0.55"/>
<line x1="212.48" y1="294.30" x2="212.48" y2="295.70" stroke="#333" stroke-width="0.55"/>
<line x1="214.70" y1="294.30" x2="214.70" y2="296.30" stroke="#333" stroke-width="0.6"/>
<line x1="216.92" y1="294.30" x2="216.92" y2="295.70" stroke="#333" stroke-width="0.55"/>
<line x1="219.14" y1="294.30" x2="219.14" y2="295.70" stroke="#333" stroke-width="0.55"/>
<line x1="221.36" y1="294.30" x2="221.36" y2="295.70" stroke="#333" stroke-width="0.55"/>
<line x1="223.58" y1="294.30" x2="223.58" y2="295.70" stroke="#333" stroke-width="0.55"/>
<line x1="225.80" y1="294.30" x2="225.80" y2="296.30" stroke="#333" stroke-width="0.6"/>
<line x1="228.02" y1="294.30" x2="228.02" y2="295.70" stroke="#333" stroke-width="0.55"/>
<line x1="230.24" y1="294.30" x2="230.24" y2="295.70" stroke="#333" stroke-width="0.55"/>
<line x1="232.46" y1="294.30" x2="232.46" y2="295.70" stroke="#333" stroke-width="0.55"/>
<line x1="234.68" y1="294.30" x2="234.68" y2="295.70" stroke="#333" stroke-width="0.55"/>
<line x1="236.90" y1="294.30" x2="236.90" y2="296.30" stroke="#333" stroke-width="0.6"/>
<line x1="239.12" y1="294.30" x2="239.12" y2="295.70" stroke="#333" stroke-width="0.55"/>
<line x1="241.34" y1="294.30" x2="241.34" y2="295.70" stroke="#333" stroke-width="0.55"/>
<line x1="243.56" y1="294.30" x2="243.56" y2="295.70" stroke="#333" stroke-width="0.55"/>
<line x1="245.78" y1="294.30" x2="245.78" y2="295.70" stroke="#333" stroke-width="0.55"/>
<line x1="248.00" y1="294.30" x2="248.00" y2="296.30" stroke="#333" stroke-width="0.6"/>
<line x1="250.22" y1="294.30" x2="250.22" y2="295.70" stroke="#333" stroke-width="0.55"/>
<line x1="252.44" y1="294.30" x2="252.44" y2="295.70" stroke="#333" stroke-width="0.55"/>
<line x1="254.66" y1="294.30" x2="254.66" y2="295.70" stroke="#333" stroke-width="0.55"/>
<line x1="256.88" y1="294.30" x2="256.88" y2="295.70" stroke="#333" stroke-width="0.55"/>
<line x1="259.10" y1="294.30" x2="259.10" y2="296.30" stroke="#333" stroke-width="0.6"/>
<line x1="261.32" y1="294.30" x2="261.32" y2="295.70" stroke="#333" stroke-width="0.55"/>
<line x1="263.54" y1="294.30" x2="263.54" y2="295.70" stroke="#333" stroke-width="0.55"/>
<line x1="265.76" y1="294.30" x2="265.76" y2="295.70" stroke="#333" stroke-width="0.55"/>
<line x1="267.98" y1="294.30" x2="267.98" y2="295.70" stroke="#333" stroke-width="0.55"/>
<line x1="270.20" y1="294.30" x2="270.20" y2="296.30" stroke="#333" stroke-width="0.6"/>
<line x1="272.42" y1="294.30" x2="272.42" y2="295.70" stroke="#333" stroke-width="0.55"/>
<line x1="274.64" y1="294.30" x2="274.64" y2="295.70" stroke="#333" stroke-width="0.55"/>
<line x1="276.86" y1="294.30" x2="276.86" y2="295.70" stroke="#333" stroke-width="0.55"/>
<line x1="279.08" y1="294.30" x2="279.08" y2="295.70" stroke="#333" stroke-width="0.55"/>
<line x1="281.30" y1="294.30" x2="281.30" y2="296.30" stroke="#333" stroke-width="0.6"/>
<line x1="283.52" y1="294.30" x2="283.52" y2="295.70" stroke="#333" stroke-width="0.55"/>
<line x1="285.74" y1="294.30" x2="285.74" y2="295.70" stroke="#333" stroke-width="0.55"/>
<line x1="287.96" y1="294.30" x2="287.96" y2="295.70" stroke="#333" stroke-width="0.55"/>
<line x1="290.18" y1="294.30" x2="290.18" y2="295.70" stroke="#333" stroke-width="0.55"/>
<text x="203.60" y="301.86" font-size="6.0" text-anchor="middle" font-weight="bold" fill="#000" stroke="#000" stroke-width="0.32" textLength="7.25" lengthAdjust="spacingAndGlyphs">2.00</text>
<text x="225.80" y="301.86" font-size="6.0" text-anchor="middle" font-weight="bold" fill="#000" stroke="#000" stroke-width="0.32" textLength="7.25" lengthAdjust="spacingAndGlyphs">4.00</text>
<text x="248.00" y="301.86" font-size="6.0" text-anchor="middle" font-weight="bold" fill="#000" stroke="#000" stroke-width="0.32" textLength="7.25" lengthAdjust="spacingAndGlyphs">6.00</text>
<text x="270.20" y="301.86" font-size="6.0" text-anchor="middle" font-weight="bold" fill="#000" stroke="#000" stroke-width="0.32" textLength="7.25" lengthAdjust="spacingAndGlyphs">8.00</text>
<text x="295.20" y="296.73" font-size="6.2" text-anchor="start" font-weight="bold" fill="#000" stroke="#000" stroke-width="0.3" textLength="9.00" lengthAdjust="spacingAndGlyphs">Time</text>
<text x="176.60" y="221.43" font-size="6.2" text-anchor="middle" font-weight="bold" fill="#000" stroke="#000" stroke-width="0.4" textLength="6.60" lengthAdjust="spacingAndGlyphs">100</text>
<text x="178.50" y="296.63" font-size="6.2" text-anchor="middle" font-weight="bold" fill="#000" stroke="#000" stroke-width="0.4" textLength="2.40" lengthAdjust="spacingAndGlyphs">0</text>
<text x="0" y="0" font-size="5.6" font-weight="bold" fill="#111" stroke="#111" stroke-width="0.2" text-anchor="middle" transform="translate(180.80,256.85) rotate(-90)">%</text>
<text x="266.30" y="213.66" font-size="6.0" text-anchor="start" font-weight="bold" fill="#000" stroke="#000" stroke-width="0.2" textLength="38.40" lengthAdjust="spacingAndGlyphs">342.20&gt;178.11(I-ICP)</text>
<text x="304.20" y="223.56" font-size="6.0" text-anchor="end" font-weight="bold" fill="#000" stroke="#000" stroke-width="0.22" textLength="11.40" lengthAdjust="spacingAndGlyphs">1.70e4</text>
<line x1="330.10" y1="218.00" x2="330.10" y2="293.00" stroke="#888" stroke-width="0.75"/>
<line x1="329.10" y1="293.00" x2="330.40" y2="293.00" stroke="#777" stroke-width="0.6"/>
<line x1="329.10" y1="285.50" x2="330.40" y2="285.50" stroke="#777" stroke-width="0.6"/>
<line x1="329.10" y1="278.00" x2="330.40" y2="278.00" stroke="#777" stroke-width="0.6"/>
<line x1="329.10" y1="270.50" x2="330.40" y2="270.50" stroke="#777" stroke-width="0.6"/>
<line x1="329.10" y1="263.00" x2="330.40" y2="263.00" stroke="#777" stroke-width="0.6"/>
<line x1="329.10" y1="255.50" x2="330.40" y2="255.50" stroke="#777" stroke-width="0.6"/>
<line x1="329.10" y1="248.00" x2="330.40" y2="248.00" stroke="#777" stroke-width="0.6"/>
<line x1="329.10" y1="240.50" x2="330.40" y2="240.50" stroke="#777" stroke-width="0.6"/>
<line x1="329.10" y1="233.00" x2="330.40" y2="233.00" stroke="#777" stroke-width="0.6"/>
<line x1="329.10" y1="225.50" x2="330.40" y2="225.50" stroke="#777" stroke-width="0.6"/>
<line x1="329.10" y1="218.00" x2="330.40" y2="218.00" stroke="#777" stroke-width="0.6"/>
<line x1="330.10" y1="293.00" x2="441.60" y2="293.00" stroke="#111" stroke-width="0.75"/>
<line x1="333.10" y1="293.00" x2="333.10" y2="294.40" stroke="#333" stroke-width="0.55"/>
<line x1="335.30" y1="293.00" x2="335.30" y2="294.40" stroke="#333" stroke-width="0.55"/>
<line x1="337.50" y1="293.00" x2="337.50" y2="294.40" stroke="#333" stroke-width="0.55"/>
<line x1="339.70" y1="293.00" x2="339.70" y2="294.40" stroke="#333" stroke-width="0.55"/>
<line x1="341.90" y1="293.00" x2="341.90" y2="295.00" stroke="#333" stroke-width="0.6"/>
<line x1="344.10" y1="293.00" x2="344.10" y2="294.40" stroke="#333" stroke-width="0.55"/>
<line x1="346.30" y1="293.00" x2="346.30" y2="294.40" stroke="#333" stroke-width="0.55"/>
<line x1="348.50" y1="293.00" x2="348.50" y2="294.40" stroke="#333" stroke-width="0.55"/>
<line x1="350.70" y1="293.00" x2="350.70" y2="294.40" stroke="#333" stroke-width="0.55"/>
<line x1="352.90" y1="293.00" x2="352.90" y2="295.00" stroke="#333" stroke-width="0.6"/>
<line x1="355.10" y1="293.00" x2="355.10" y2="294.40" stroke="#333" stroke-width="0.55"/>
<line x1="357.30" y1="293.00" x2="357.30" y2="294.40" stroke="#333" stroke-width="0.55"/>
<line x1="359.50" y1="293.00" x2="359.50" y2="294.40" stroke="#333" stroke-width="0.55"/>
<line x1="361.70" y1="293.00" x2="361.70" y2="294.40" stroke="#333" stroke-width="0.55"/>
<line x1="363.90" y1="293.00" x2="363.90" y2="295.00" stroke="#333" stroke-width="0.6"/>
<line x1="366.10" y1="293.00" x2="366.10" y2="294.40" stroke="#333" stroke-width="0.55"/>
<line x1="368.30" y1="293.00" x2="368.30" y2="294.40" stroke="#333" stroke-width="0.55"/>
<line x1="370.50" y1="293.00" x2="370.50" y2="294.40" stroke="#333" stroke-width="0.55"/>
<line x1="372.70" y1="293.00" x2="372.70" y2="294.40" stroke="#333" stroke-width="0.55"/>
<line x1="374.90" y1="293.00" x2="374.90" y2="295.00" stroke="#333" stroke-width="0.6"/>
<line x1="377.10" y1="293.00" x2="377.10" y2="294.40" stroke="#333" stroke-width="0.55"/>
<line x1="379.30" y1="293.00" x2="379.30" y2="294.40" stroke="#333" stroke-width="0.55"/>
<line x1="381.50" y1="293.00" x2="381.50" y2="294.40" stroke="#333" stroke-width="0.55"/>
<line x1="383.70" y1="293.00" x2="383.70" y2="294.40" stroke="#333" stroke-width="0.55"/>
<line x1="385.90" y1="293.00" x2="385.90" y2="295.00" stroke="#333" stroke-width="0.6"/>
<line x1="388.10" y1="293.00" x2="388.10" y2="294.40" stroke="#333" stroke-width="0.55"/>
<line x1="390.30" y1="293.00" x2="390.30" y2="294.40" stroke="#333" stroke-width="0.55"/>
<line x1="392.50" y1="293.00" x2="392.50" y2="294.40" stroke="#333" stroke-width="0.55"/>
<line x1="394.70" y1="293.00" x2="394.70" y2="294.40" stroke="#333" stroke-width="0.55"/>
<line x1="396.90" y1="293.00" x2="396.90" y2="295.00" stroke="#333" stroke-width="0.6"/>
<line x1="399.10" y1="293.00" x2="399.10" y2="294.40" stroke="#333" stroke-width="0.55"/>
<line x1="401.30" y1="293.00" x2="401.30" y2="294.40" stroke="#333" stroke-width="0.55"/>
<line x1="403.50" y1="293.00" x2="403.50" y2="294.40" stroke="#333" stroke-width="0.55"/>
<line x1="405.70" y1="293.00" x2="405.70" y2="294.40" stroke="#333" stroke-width="0.55"/>
<line x1="407.90" y1="293.00" x2="407.90" y2="295.00" stroke="#333" stroke-width="0.6"/>
<line x1="410.10" y1="293.00" x2="410.10" y2="294.40" stroke="#333" stroke-width="0.55"/>
<line x1="412.30" y1="293.00" x2="412.30" y2="294.40" stroke="#333" stroke-width="0.55"/>
<line x1="414.50" y1="293.00" x2="414.50" y2="294.40" stroke="#333" stroke-width="0.55"/>
<line x1="416.70" y1="293.00" x2="416.70" y2="294.40" stroke="#333" stroke-width="0.55"/>
<line x1="418.90" y1="293.00" x2="418.90" y2="295.00" stroke="#333" stroke-width="0.6"/>
<line x1="421.10" y1="293.00" x2="421.10" y2="294.40" stroke="#333" stroke-width="0.55"/>
<line x1="423.30" y1="293.00" x2="423.30" y2="294.40" stroke="#333" stroke-width="0.55"/>
<line x1="425.50" y1="293.00" x2="425.50" y2="294.40" stroke="#333" stroke-width="0.55"/>
<line x1="427.70" y1="293.00" x2="427.70" y2="294.40" stroke="#333" stroke-width="0.55"/>
<line x1="429.90" y1="293.00" x2="429.90" y2="295.00" stroke="#333" stroke-width="0.6"/>
<line x1="432.10" y1="293.00" x2="432.10" y2="294.40" stroke="#333" stroke-width="0.55"/>
<line x1="434.30" y1="293.00" x2="434.30" y2="294.40" stroke="#333" stroke-width="0.55"/>
<line x1="436.50" y1="293.00" x2="436.50" y2="294.40" stroke="#333" stroke-width="0.55"/>
<line x1="438.70" y1="293.00" x2="438.70" y2="294.40" stroke="#333" stroke-width="0.55"/>
<text x="352.90" y="300.56" font-size="6.0" text-anchor="middle" font-weight="bold" fill="#000" stroke="#000" stroke-width="0.32" textLength="7.25" lengthAdjust="spacingAndGlyphs">2.00</text>
<text x="374.90" y="300.56" font-size="6.0" text-anchor="middle" font-weight="bold" fill="#000" stroke="#000" stroke-width="0.32" textLength="7.25" lengthAdjust="spacingAndGlyphs">4.00</text>
<text x="396.90" y="300.56" font-size="6.0" text-anchor="middle" font-weight="bold" fill="#000" stroke="#000" stroke-width="0.32" textLength="7.25" lengthAdjust="spacingAndGlyphs">6.00</text>
<text x="418.90" y="300.56" font-size="6.0" text-anchor="middle" font-weight="bold" fill="#000" stroke="#000" stroke-width="0.32" textLength="7.25" lengthAdjust="spacingAndGlyphs">8.00</text>
<text x="443.40" y="295.43" font-size="6.2" text-anchor="start" font-weight="bold" fill="#000" stroke="#000" stroke-width="0.3" textLength="9.00" lengthAdjust="spacingAndGlyphs">Time</text>
<text x="325.30" y="220.03" font-size="6.2" text-anchor="middle" font-weight="bold" fill="#000" stroke="#000" stroke-width="0.4" textLength="6.60" lengthAdjust="spacingAndGlyphs">100</text>
<text x="327.20" y="295.33" font-size="6.2" text-anchor="middle" font-weight="bold" fill="#000" stroke="#000" stroke-width="0.4" textLength="2.40" lengthAdjust="spacingAndGlyphs">0</text>
<text x="0" y="0" font-size="5.6" font-weight="bold" fill="#111" stroke="#111" stroke-width="0.2" text-anchor="middle" transform="translate(329.50,255.50) rotate(-90)">%</text>
<text x="415.80" y="212.16" font-size="6.0" text-anchor="start" font-weight="bold" fill="#000" stroke="#000" stroke-width="0.2" textLength="36.40" lengthAdjust="spacingAndGlyphs">342.20&gt;192.13(I-CD)</text>
<text x="452.20" y="222.56" font-size="6.0" text-anchor="end" font-weight="bold" fill="#000" stroke="#000" stroke-width="0.22" textLength="11.40" lengthAdjust="spacingAndGlyphs">4.25e4</text>
<line x1="472.40" y1="219.20" x2="472.40" y2="293.30" stroke="#888" stroke-width="0.75"/>
<line x1="471.40" y1="293.30" x2="472.70" y2="293.30" stroke="#777" stroke-width="0.6"/>
<line x1="471.40" y1="285.89" x2="472.70" y2="285.89" stroke="#777" stroke-width="0.6"/>
<line x1="471.40" y1="278.48" x2="472.70" y2="278.48" stroke="#777" stroke-width="0.6"/>
<line x1="471.40" y1="271.07" x2="472.70" y2="271.07" stroke="#777" stroke-width="0.6"/>
<line x1="471.40" y1="263.66" x2="472.70" y2="263.66" stroke="#777" stroke-width="0.6"/>
<line x1="471.40" y1="256.25" x2="472.70" y2="256.25" stroke="#777" stroke-width="0.6"/>
<line x1="471.40" y1="248.84" x2="472.70" y2="248.84" stroke="#777" stroke-width="0.6"/>
<line x1="471.40" y1="241.43" x2="472.70" y2="241.43" stroke="#777" stroke-width="0.6"/>
<line x1="471.40" y1="234.02" x2="472.70" y2="234.02" stroke="#777" stroke-width="0.6"/>
<line x1="471.40" y1="226.61" x2="472.70" y2="226.61" stroke="#777" stroke-width="0.6"/>
<line x1="471.40" y1="219.20" x2="472.70" y2="219.20" stroke="#777" stroke-width="0.6"/>
<line x1="472.40" y1="293.30" x2="583.60" y2="293.30" stroke="#111" stroke-width="0.75"/>
<line x1="473.87" y1="293.30" x2="473.87" y2="294.70" stroke="#333" stroke-width="0.55"/>
<line x1="476.14" y1="293.30" x2="476.14" y2="294.70" stroke="#333" stroke-width="0.55"/>
<line x1="478.41" y1="293.30" x2="478.41" y2="294.70" stroke="#333" stroke-width="0.55"/>
<line x1="480.68" y1="293.30" x2="480.68" y2="294.70" stroke="#333" stroke-width="0.55"/>
<line x1="482.95" y1="293.30" x2="482.95" y2="295.30" stroke="#333" stroke-width="0.6"/>
<line x1="485.22" y1="293.30" x2="485.22" y2="294.70" stroke="#333" stroke-width="0.55"/>
<line x1="487.49" y1="293.30" x2="487.49" y2="294.70" stroke="#333" stroke-width="0.55"/>
<line x1="489.76" y1="293.30" x2="489.76" y2="294.70" stroke="#333" stroke-width="0.55"/>
<line x1="492.03" y1="293.30" x2="492.03" y2="294.70" stroke="#333" stroke-width="0.55"/>
<line x1="494.30" y1="293.30" x2="494.30" y2="295.30" stroke="#333" stroke-width="0.6"/>
<line x1="496.57" y1="293.30" x2="496.57" y2="294.70" stroke="#333" stroke-width="0.55"/>
<line x1="498.84" y1="293.30" x2="498.84" y2="294.70" stroke="#333" stroke-width="0.55"/>
<line x1="501.11" y1="293.30" x2="501.11" y2="294.70" stroke="#333" stroke-width="0.55"/>
<line x1="503.38" y1="293.30" x2="503.38" y2="294.70" stroke="#333" stroke-width="0.55"/>
<line x1="505.65" y1="293.30" x2="505.65" y2="295.30" stroke="#333" stroke-width="0.6"/>
<line x1="507.92" y1="293.30" x2="507.92" y2="294.70" stroke="#333" stroke-width="0.55"/>
<line x1="510.19" y1="293.30" x2="510.19" y2="294.70" stroke="#333" stroke-width="0.55"/>
<line x1="512.46" y1="293.30" x2="512.46" y2="294.70" stroke="#333" stroke-width="0.55"/>
<line x1="514.73" y1="293.30" x2="514.73" y2="294.70" stroke="#333" stroke-width="0.55"/>
<line x1="517.00" y1="293.30" x2="517.00" y2="295.30" stroke="#333" stroke-width="0.6"/>
<line x1="519.27" y1="293.30" x2="519.27" y2="294.70" stroke="#333" stroke-width="0.55"/>
<line x1="521.54" y1="293.30" x2="521.54" y2="294.70" stroke="#333" stroke-width="0.55"/>
<line x1="523.81" y1="293.30" x2="523.81" y2="294.70" stroke="#333" stroke-width="0.55"/>
<line x1="526.08" y1="293.30" x2="526.08" y2="294.70" stroke="#333" stroke-width="0.55"/>
<line x1="528.35" y1="293.30" x2="528.35" y2="295.30" stroke="#333" stroke-width="0.6"/>
<line x1="530.62" y1="293.30" x2="530.62" y2="294.70" stroke="#333" stroke-width="0.55"/>
<line x1="532.89" y1="293.30" x2="532.89" y2="294.70" stroke="#333" stroke-width="0.55"/>
<line x1="535.16" y1="293.30" x2="535.16" y2="294.70" stroke="#333" stroke-width="0.55"/>
<line x1="537.43" y1="293.30" x2="537.43" y2="294.70" stroke="#333" stroke-width="0.55"/>
<line x1="539.70" y1="293.30" x2="539.70" y2="295.30" stroke="#333" stroke-width="0.6"/>
<line x1="541.97" y1="293.30" x2="541.97" y2="294.70" stroke="#333" stroke-width="0.55"/>
<line x1="544.24" y1="293.30" x2="544.24" y2="294.70" stroke="#333" stroke-width="0.55"/>
<line x1="546.51" y1="293.30" x2="546.51" y2="294.70" stroke="#333" stroke-width="0.55"/>
<line x1="548.78" y1="293.30" x2="548.78" y2="294.70" stroke="#333" stroke-width="0.55"/>
<line x1="551.05" y1="293.30" x2="551.05" y2="295.30" stroke="#333" stroke-width="0.6"/>
<line x1="553.32" y1="293.30" x2="553.32" y2="294.70" stroke="#333" stroke-width="0.55"/>
<line x1="555.59" y1="293.30" x2="555.59" y2="294.70" stroke="#333" stroke-width="0.55"/>
<line x1="557.86" y1="293.30" x2="557.86" y2="294.70" stroke="#333" stroke-width="0.55"/>
<line x1="560.13" y1="293.30" x2="560.13" y2="294.70" stroke="#333" stroke-width="0.55"/>
<line x1="562.40" y1="293.30" x2="562.40" y2="295.30" stroke="#333" stroke-width="0.6"/>
<line x1="564.67" y1="293.30" x2="564.67" y2="294.70" stroke="#333" stroke-width="0.55"/>
<line x1="566.94" y1="293.30" x2="566.94" y2="294.70" stroke="#333" stroke-width="0.55"/>
<line x1="569.21" y1="293.30" x2="569.21" y2="294.70" stroke="#333" stroke-width="0.55"/>
<line x1="571.48" y1="293.30" x2="571.48" y2="294.70" stroke="#333" stroke-width="0.55"/>
<line x1="573.75" y1="293.30" x2="573.75" y2="295.30" stroke="#333" stroke-width="0.6"/>
<line x1="576.02" y1="293.30" x2="576.02" y2="294.70" stroke="#333" stroke-width="0.55"/>
<line x1="578.29" y1="293.30" x2="578.29" y2="294.70" stroke="#333" stroke-width="0.55"/>
<line x1="580.56" y1="293.30" x2="580.56" y2="294.70" stroke="#333" stroke-width="0.55"/>
<line x1="582.83" y1="293.30" x2="582.83" y2="294.70" stroke="#333" stroke-width="0.55"/>
<text x="494.30" y="300.86" font-size="6.0" text-anchor="middle" font-weight="bold" fill="#000" stroke="#000" stroke-width="0.32" textLength="7.25" lengthAdjust="spacingAndGlyphs">2.00</text>
<text x="517.00" y="300.86" font-size="6.0" text-anchor="middle" font-weight="bold" fill="#000" stroke="#000" stroke-width="0.32" textLength="7.25" lengthAdjust="spacingAndGlyphs">4.00</text>
<text x="539.70" y="300.86" font-size="6.0" text-anchor="middle" font-weight="bold" fill="#000" stroke="#000" stroke-width="0.32" textLength="7.25" lengthAdjust="spacingAndGlyphs">6.00</text>
<text x="562.40" y="300.86" font-size="6.0" text-anchor="middle" font-weight="bold" fill="#000" stroke="#000" stroke-width="0.32" textLength="7.25" lengthAdjust="spacingAndGlyphs">8.00</text>
<text x="585.40" y="295.73" font-size="6.2" text-anchor="start" font-weight="bold" fill="#000" stroke="#000" stroke-width="0.3" textLength="9.00" lengthAdjust="spacingAndGlyphs">Time</text>
<text x="467.60" y="221.23" font-size="6.2" text-anchor="middle" font-weight="bold" fill="#000" stroke="#000" stroke-width="0.4" textLength="6.60" lengthAdjust="spacingAndGlyphs">100</text>
<text x="469.50" y="295.63" font-size="6.2" text-anchor="middle" font-weight="bold" fill="#000" stroke="#000" stroke-width="0.4" textLength="2.40" lengthAdjust="spacingAndGlyphs">0</text>
<text x="0" y="0" font-size="5.6" font-weight="bold" fill="#111" stroke="#111" stroke-width="0.2" text-anchor="middle" transform="translate(471.80,256.25) rotate(-90)">%</text>
<text x="549.90" y="212.66" font-size="6.0" text-anchor="start" font-weight="bold" fill="#000" stroke="#000" stroke-width="0.2" textLength="45.80" lengthAdjust="spacingAndGlyphs">285.08&gt;154.13(Diazepam)</text>
<text x="595.20" y="222.56" font-size="6.0" text-anchor="end" font-weight="bold" fill="#000" stroke="#000" stroke-width="0.22" textLength="11.40" lengthAdjust="spacingAndGlyphs">2.50e4</text>
<text x="11.40" y="58.23" font-size="11.2" text-anchor="middle" font-weight="normal" fill="#222">A</text>
<text x="11.40" y="158.63" font-size="11.2" text-anchor="middle" font-weight="normal" fill="#222">B</text>
<text x="11.40" y="259.33" font-size="11.2" text-anchor="middle" font-weight="normal" fill="#222">C</text>
<polyline points="36.80,191.90 37.05,191.90 37.30,191.90 37.55,191.90 37.80,191.90 38.05,191.90 38.30,191.90 38.55,191.90 38.80,191.90 39.05,191.89 39.30,191.89 39.55,191.88 39.80,191.86 40.05,191.84 40.30,191.81 40.55,191.77 40.80,191.73 41.05,191.68 41.30,191.64 41.55,191.60 41.80,191.57 42.05,191.55 42.30,191.52 42.55,191.48 42.80,191.43 43.05,191.36 43.30,191.26 43.55,191.15 43.80,191.02 44.05,190.89 44.30,190.75 44.55,190.63 44.80,190.53 45.05,190.45 45.30,190.41 45.55,190.40 45.80,190.42 46.05,190.48 46.30,190.56 46.55,190.67 46.80,190.79 47.05,190.92 47.30,191.06 47.55,191.19 47.80,191.31 48.05,191.42 48.30,191.51 48.55,191.59 48.80,191.64 49.05,191.69 49.30,191.72 49.55,191.73 49.80,191.73 50.05,191.73 50.30,191.72 50.55,191.70 50.80,191.67 51.05,191.64 51.30,191.61 51.55,191.58 51.80,191.54 52.05,191.50 52.30,191.46 52.55,191.43 52.80,191.39 53.05,191.36 53.30,191.33 53.55,191.30 53.80,191.28 54.05,191.26 54.30,191.25 54.55,191.24 54.80,191.25 55.05,191.25 55.30,191.27 55.55,191.29 55.80,191.31 56.05,191.34 56.30,191.37 56.55,191.40 56.80,191.44 57.05,191.48 57.30,191.51 57.55,191.55 57.80,191.58 58.05,191.62 58.30,191.65 58.55,191.67 58.80,191.69 59.05,191.71 59.30,191.72 59.55,191.73 59.80,191.74 60.05,191.74 60.30,191.74 60.55,191.73 60.80,191.73 61.05,191.72 61.30,191.71 61.55,191.69 61.80,191.68 62.05,191.67 62.30,191.66 62.55,191.65 62.80,191.65 63.05,191.64 63.30,191.64 63.55,191.64 63.80,191.64 64.05,191.64 64.30,191.65 64.55,191.66 64.80,191.67 65.05,191.68 65.30,191.70 65.55,191.71 65.80,191.73 66.05,191.75 66.30,191.76 66.55,191.78 66.80,191.79 67.05,191.81 67.30,191.82 67.55,191.83 67.80,191.84 68.05,191.85 68.30,191.86 68.55,191.87 68.80,191.87 69.05,191.88 69.30,191.88 69.55,191.89 69.80,191.89 70.05,191.89 70.30,191.88 70.55,191.88 70.80,191.87 71.05,191.85 71.30,191.82 71.55,191.78 71.80,191.73 72.05,191.67 72.30,191.60 72.55,191.53 72.80,191.46 73.05,191.39 73.30,191.35 73.55,191.32 73.80,191.32 74.05,191.34 74.30,191.38 74.55,191.44 74.80,191.51 75.05,191.59 75.30,191.66 75.55,191.72 75.80,191.77 76.05,191.81 76.30,191.84 76.55,191.86 76.80,191.87 77.05,191.87 77.30,191.88 77.55,191.88 77.80,191.88 78.05,191.89 78.30,191.89 78.55,191.89 78.80,191.90 79.05,191.90 79.30,191.90 79.55,191.90 79.80,191.90 80.05,191.90 80.30,191.90 80.55,191.90 80.80,191.90 81.05,191.90 81.30,191.90 81.55,191.90 81.80,191.89 82.05,191.88 82.30,191.84 82.55,191.74 82.80,191.49 83.05,190.94 83.30,189.80 83.55,187.67 83.80,184.00 84.05,178.23 84.30,170.02 84.55,159.47 84.80,147.40 85.05,135.37 85.30,125.41 85.55,119.49 85.80,119.24 86.05,122.49 86.30,127.40 86.55,133.60 86.80,140.63 87.05,147.95 87.30,155.09 87.55,161.67 87.80,167.42 88.05,172.24 88.30,176.12 88.55,179.13 88.80,181.41 89.05,183.10 89.30,184.34 89.55,185.26 89.80,185.95 90.05,186.47 90.30,186.89 90.55,187.23 90.80,187.52 91.05,187.78 91.30,188.00 91.55,188.21 91.80,188.41 92.05,188.61 92.30,188.81 92.55,189.00 92.80,189.20 93.05,189.39 93.30,189.59 93.55,189.77 93.80,189.95 94.05,190.11 94.30,190.26 94.55,190.38 94.80,190.49 95.05,190.58 95.30,190.64 95.55,190.69 95.80,190.71 96.05,190.73 96.30,190.72 96.55,190.71 96.80,190.70 97.05,190.68 97.30,190.67 97.55,190.66 97.80,190.65 98.05,190.66 98.30,190.68 98.55,190.71 98.80,190.76 99.05,190.81 99.30,190.87 99.55,190.95 99.80,191.02 100.05,191.10 100.30,191.18 100.55,191.26 100.80,191.34 101.05,191.40 101.30,191.47 101.55,191.52 101.80,191.56 102.05,191.59 102.30,191.61 102.55,191.63 102.80,191.63 103.05,191.62 103.30,191.60 103.55,191.57 103.80,191.53 104.05,191.49 104.30,191.44 104.55,191.39 104.80,191.33 105.05,191.26 105.30,191.18 105.55,191.09 105.80,191.00 106.05,190.90 106.30,190.80 106.55,190.72 106.80,190.67 107.05,190.65 107.30,190.66 107.55,190.71 107.80,190.79 108.05,190.89 108.30,190.99 108.55,191.07 108.80,191.15 109.05,191.20 109.30,191.24 109.55,191.25 109.80,191.25 110.05,191.24 110.30,191.23 110.55,191.21 110.80,191.19 111.05,191.17 111.30,191.15 111.55,191.14 111.80,191.13 112.05,191.14 112.30,191.16 112.55,191.18 112.80,191.21 113.05,191.25 113.30,191.30 113.55,191.35 113.80,191.41 114.05,191.46 114.30,191.52 114.55,191.57 114.80,191.62 115.05,191.67 115.30,191.71 115.55,191.75 115.80,191.78 116.05,191.81 116.30,191.83 116.55,191.84 116.80,191.86 117.05,191.87 117.30,191.88 117.55,191.88 117.80,191.88 118.05,191.88 118.30,191.87 118.55,191.86 118.80,191.84 119.05,191.80 119.30,191.76 119.55,191.70 119.80,191.64 120.05,191.57 120.30,191.51 120.55,191.45 120.80,191.42 121.05,191.40 121.30,191.41 121.55,191.44 121.80,191.48 122.05,191.52 122.30,191.56 122.55,191.59 122.80,191.60 123.05,191.60 123.30,191.58 123.55,191.54 123.80,191.49 124.05,191.43 124.30,191.36 124.55,191.29 124.80,191.21 125.05,191.12 125.30,191.03 125.55,190.95 125.80,190.86 126.05,190.78 126.30,190.71 126.55,190.65 126.80,190.59 127.05,190.55 127.30,190.51 127.55,190.49 127.80,190.48 128.05,190.48 128.30,190.49 128.55,190.51 128.80,190.54 129.05,190.56 129.30,190.59 129.55,190.61 129.80,190.63 130.05,190.64 130.30,190.64 130.55,190.64 130.80,190.63 131.05,190.63 131.30,190.64 131.55,190.67 131.80,190.71 132.05,190.76 132.30,190.82 132.55,190.88 132.80,190.94 133.05,190.99 133.30,191.02 133.55,191.04 133.80,191.05 134.05,191.04 134.30,191.03 134.55,191.02 134.80,191.00 135.05,190.99 135.30,190.97 135.55,190.97 135.80,190.97 136.05,190.98 136.30,191.00 136.55,191.02 136.80,191.05 137.05,191.09 137.30,191.13 137.55,191.18 137.80,191.23 138.05,191.28 138.30,191.33 138.55,191.38 138.80,191.42 139.05,191.46 139.30,191.50 139.55,191.53 139.80,191.56 140.05,191.58 140.30,191.60 140.55,191.61 140.80,191.62 141.05,191.63 141.30,191.63 141.55,191.63 141.80,191.63 142.05,191.62 142.30,191.62 142.55,191.61 142.80,191.60 143.05,191.58 143.30,191.57 143.55,191.55 143.80,191.52 144.05,191.50 144.30,191.46 144.55,191.42 144.80,191.37 145.05,191.32 145.30,191.25 145.55,191.19 145.80,191.11 146.05,191.04 146.30,190.97 146.55,190.91 146.80,190.85 147.05,190.81 147.30,190.79 147.55,190.78" fill="none" stroke="#3a3a3a" stroke-width="0.6" stroke-linejoin="round"/>
<text x="85.80" y="118.23" font-size="6.2" text-anchor="middle" font-weight="bold" fill="#000" stroke="#000" stroke-width="0.22" textLength="7.05" lengthAdjust="spacingAndGlyphs">4.50</text>
<polyline points="181.90,191.03 182.15,190.99 182.40,190.96 182.65,190.94 182.90,190.92 183.15,190.91 183.40,190.91 183.65,190.92 183.90,190.93 184.15,190.96 184.40,190.99 184.65,191.02 184.90,191.06 185.15,191.10 185.40,191.13 185.65,191.16 185.90,191.19 186.15,191.22 186.40,191.24 186.65,191.25 186.90,191.27 187.15,191.28 187.40,191.28 187.65,191.29 187.90,191.29 188.15,191.30 188.40,191.30 188.65,191.30 188.90,191.30 189.15,191.30 189.40,191.30 189.65,191.30 189.90,191.30 190.15,191.30 190.40,191.30 190.65,191.29 190.90,191.29 191.15,191.28 191.40,191.27 191.65,191.26 191.90,191.24 192.15,191.21 192.40,191.17 192.65,191.12 192.90,191.06 193.15,191.00 193.40,190.92 193.65,190.84 193.90,190.76 194.15,190.69 194.40,190.62 194.65,190.57 194.90,190.54 195.15,190.52 195.40,190.52 195.65,190.53 195.90,190.55 196.15,190.57 196.40,190.58 196.65,190.58 196.90,190.55 197.15,190.49 197.40,190.40 197.65,190.28 197.90,190.13 198.15,189.97 198.40,189.79 198.65,189.62 198.90,189.47 199.15,189.35 199.40,189.27 199.65,189.23 199.90,189.24 200.15,189.30 200.40,189.41 200.65,189.54 200.90,189.70 201.15,189.86 201.40,190.01 201.65,190.16 201.90,190.27 202.15,190.37 202.40,190.43 202.65,190.46 202.90,190.47 203.15,190.45 203.40,190.42 203.65,190.38 203.90,190.33 204.15,190.28 204.40,190.23 204.65,190.19 204.90,190.16 205.15,190.14 205.40,190.13 205.65,190.13 205.90,190.15 206.15,190.17 206.40,190.21 206.65,190.26 206.90,190.32 207.15,190.38 207.40,190.44 207.65,190.49 207.90,190.52 208.15,190.50 208.40,190.42 208.65,190.25 208.90,189.98 209.15,189.60 209.40,189.16 209.65,188.71 209.90,188.34 210.15,188.14 210.40,188.14 210.65,188.37 210.90,188.77 211.15,189.27 211.40,189.78 211.65,190.24 211.90,190.60 212.15,190.86 212.40,191.02 212.65,191.10 212.90,191.12 213.15,191.11 213.40,191.07 213.65,191.00 213.90,190.92 214.15,190.84 214.40,190.75 214.65,190.66 214.90,190.57 215.15,190.46 215.40,190.29 215.65,190.01 215.90,189.51 216.15,188.68 216.40,187.36 216.65,185.35 216.90,182.46 217.15,178.50 217.40,173.34 217.65,166.95 217.90,159.44 218.15,151.11 218.40,142.42 218.65,134.01 218.90,126.58 219.15,120.84 219.40,117.37 219.65,116.80 219.90,119.31 220.15,123.32 220.40,128.62 220.65,134.88 220.90,141.75 221.15,148.83 221.40,155.77 221.65,162.26 221.90,168.10 222.15,173.15 222.40,177.38 222.65,180.79 222.90,183.47 223.15,185.51 223.40,187.04 223.65,188.14 223.90,188.93 224.15,189.49 224.40,189.88 224.65,190.16 224.90,190.35 225.15,190.50 225.40,190.60 225.65,190.68 225.90,190.73 226.15,190.78 226.40,190.80 226.65,190.82 226.90,190.82 227.15,190.81 227.40,190.79 227.65,190.76 227.90,190.72 228.15,190.67 228.40,190.61 228.65,190.54 228.90,190.47 229.15,190.38 229.40,190.30 229.65,190.21 229.90,190.12 230.15,190.03 230.40,189.95 230.65,189.87 230.90,189.81 231.15,189.75 231.40,189.70 231.65,189.67 231.90,189.66 232.15,189.66 232.40,189.67 232.65,189.70 232.90,189.75 233.15,189.80 233.40,189.87 233.65,189.95 233.90,190.04 234.15,190.13 234.40,190.23 234.65,190.33 234.90,190.43 235.15,190.52 235.40,190.62 235.65,190.70 235.90,190.79 236.15,190.86 236.40,190.93 236.65,190.99 236.90,191.05 237.15,191.09 237.40,191.13 237.65,191.17 237.90,191.19 238.15,191.22 238.40,191.24 238.65,191.25 238.90,191.26 239.15,191.27 239.40,191.28 239.65,191.29 239.90,191.29 240.15,191.29 240.40,191.30 240.65,191.30 240.90,191.30 241.15,191.29 241.40,191.29 241.65,191.29 241.90,191.29 242.15,191.28 242.40,191.27 242.65,191.26 242.90,191.24 243.15,191.22 243.40,191.19 243.65,191.15 243.90,191.11 244.15,191.06 244.40,191.01 244.65,190.95 244.90,190.89 245.15,190.83 245.40,190.78 245.65,190.72 245.90,190.68 246.15,190.65 246.40,190.63 246.65,190.62 246.90,190.63 247.15,190.65 247.40,190.68 247.65,190.73 247.90,190.78 248.15,190.83 248.40,190.89 248.65,190.95 248.90,191.00 249.15,191.05 249.40,191.10 249.65,191.13 249.90,191.17 250.15,191.19 250.40,191.21 250.65,191.23 250.90,191.24 251.15,191.24 251.40,191.24 251.65,191.23 251.90,191.22 252.15,191.19 252.40,191.15 252.65,191.10 252.90,191.05 253.15,190.99 253.40,190.94 253.65,190.90 253.90,190.87 254.15,190.87 254.40,190.88 254.65,190.91 254.90,190.95 255.15,190.99 255.40,191.02 255.65,191.05 255.90,191.06 256.15,191.06 256.40,191.05 256.65,191.04 256.90,191.01 257.15,190.99 257.40,190.96 257.65,190.93 257.90,190.90 258.15,190.88 258.40,190.85 258.65,190.83 258.90,190.82 259.15,190.81 259.40,190.80 259.65,190.80 259.90,190.81 260.15,190.82 260.40,190.83 260.65,190.85 260.90,190.87 261.15,190.90 261.40,190.92 261.65,190.95 261.90,190.98 262.15,191.01 262.40,191.04 262.65,191.07 262.90,191.10 263.15,191.13 263.40,191.15 263.65,191.18 263.90,191.19 264.15,191.21 264.40,191.23 264.65,191.24 264.90,191.25 265.15,191.25 265.40,191.26 265.65,191.25 265.90,191.24 266.15,191.22 266.40,191.19 266.65,191.15 266.90,191.11 267.15,191.05 267.40,191.00 267.65,190.96 267.90,190.92 268.15,190.90 268.40,190.90 268.65,190.91 268.90,190.94 269.15,190.98 269.40,191.01 269.65,191.03 269.90,191.02 270.15,190.99 270.40,190.95 270.65,190.90 270.90,190.87 271.15,190.86 271.40,190.88 271.65,190.92 271.90,190.98 272.15,191.04 272.40,191.09 272.65,191.12 272.90,191.13 273.15,191.13 273.40,191.12 273.65,191.10 273.90,191.08 274.15,191.06 274.40,191.04 274.65,191.03 274.90,191.02 275.15,191.01 275.40,191.01 275.65,191.01 275.90,191.01 276.15,191.02 276.40,191.03 276.65,191.05 276.90,191.07 277.15,191.09 277.40,191.11 277.65,191.13 277.90,191.16 278.15,191.18 278.40,191.20 278.65,191.21 278.90,191.23 279.15,191.24 279.40,191.25 279.65,191.26 279.90,191.27 280.15,191.28 280.40,191.28 280.65,191.29 280.90,191.29 281.15,191.29 281.40,191.29 281.65,191.28 281.90,191.27 282.15,191.25 282.40,191.22 282.65,191.19 282.90,191.15 283.15,191.12 283.40,191.10 283.65,191.10 283.90,191.11 284.15,191.14 284.40,191.17 284.65,191.21 284.90,191.24 285.15,191.26 285.40,191.28 285.65,191.28 285.90,191.29 286.15,191.29 286.40,191.29 286.65,191.28 286.90,191.28 287.15,191.27 287.40,191.27 287.65,191.26 287.90,191.24 288.15,191.23 288.40,191.21 288.65,191.18 288.90,191.15 289.15,191.11 289.40,191.07 289.65,191.01 289.90,190.94 290.15,190.85 290.40,190.75 290.65,190.64 290.90,190.51 291.15,190.38 291.40,190.23 291.65,190.09 291.90,189.94 292.15,189.81 292.40,189.69 292.65,189.60 292.90,189.54 293.15,189.51 293.40,189.51" fill="none" stroke="#3a3a3a" stroke-width="0.6" stroke-linejoin="round"/>
<text x="219.60" y="117.83" font-size="6.2" text-anchor="middle" font-weight="bold" fill="#000" stroke="#000" stroke-width="0.22" textLength="7.05" lengthAdjust="spacingAndGlyphs">3.44</text>
<polyline points="327.80,189.36 328.05,189.44 328.30,189.52 328.55,189.60 328.80,189.66 329.05,189.72 329.30,189.77 329.55,189.82 329.80,189.86 330.05,189.90 330.30,189.94 330.55,189.97 330.80,190.00 331.05,190.03 331.30,190.05 331.55,190.07 331.80,190.09 332.05,190.10 332.30,190.11 332.55,190.12 332.80,190.13 333.05,190.14 333.30,190.14 333.55,190.14 333.80,190.14 334.05,190.15 334.30,190.15 334.55,190.15 334.80,190.15 335.05,190.15 335.30,190.15 335.55,190.15 335.80,190.15 336.05,190.15 336.30,190.15 336.55,190.15 336.80,190.15 337.05,190.15 337.30,190.15 337.55,190.15 337.80,190.15 338.05,190.15 338.30,190.15 338.55,190.15 338.80,190.15 339.05,190.15 339.30,190.15 339.55,190.15 339.80,190.15 340.05,190.15 340.30,190.15 340.55,190.15 340.80,190.15 341.05,190.15 341.30,190.15 341.55,190.15 341.80,190.14 342.05,190.14 342.30,190.14 342.55,190.14 342.80,190.13 343.05,190.12 343.30,190.11 343.55,190.09 343.80,190.07 344.05,190.05 344.30,190.02 344.55,189.99 344.80,189.95 345.05,189.90 345.30,189.86 345.55,189.81 345.80,189.77 346.05,189.73 346.30,189.69 346.55,189.67 346.80,189.65 347.05,189.65 347.30,189.65 347.55,189.66 347.80,189.68 348.05,189.70 348.30,189.73 348.55,189.75 348.80,189.78 349.05,189.81 349.30,189.83 349.55,189.85 349.80,189.88 350.05,189.90 350.30,189.92 350.55,189.94 350.80,189.96 351.05,189.98 351.30,189.99 351.55,190.01 351.80,190.03 352.05,190.04 352.30,190.06 352.55,190.07 352.80,190.08 353.05,190.09 353.30,190.09 353.55,190.07 353.80,190.02 354.05,189.91 354.30,189.67 354.55,189.22 354.80,188.38 355.05,186.96 355.30,184.68 355.55,181.22 355.80,176.30 356.05,169.76 356.30,161.63 356.55,152.28 356.80,142.40 357.05,132.96 357.30,125.10 357.55,119.88 357.80,118.06 358.05,120.47 358.30,124.84 358.55,130.86 358.80,138.02 359.05,145.76 359.30,153.53 359.55,160.83 359.80,167.33 360.05,172.83 360.30,177.28 360.55,180.71 360.80,183.27 361.05,185.10 361.30,186.38 361.55,187.24 361.80,187.83 362.05,188.22 362.30,188.49 362.55,188.69 362.80,188.84 363.05,188.96 363.30,189.06 363.55,189.16 363.80,189.25 364.05,189.33 364.30,189.41 364.55,189.48 364.80,189.55 365.05,189.61 365.30,189.67 365.55,189.72 365.80,189.76 366.05,189.79 366.30,189.82 366.55,189.84 366.80,189.86 367.05,189.88 367.30,189.89 367.55,189.90 367.80,189.92 368.05,189.93 368.30,189.95 368.55,189.97 368.80,189.99 369.05,190.01 369.30,190.03 369.55,190.05 369.80,190.07 370.05,190.08 370.30,190.09 370.55,190.10 370.80,190.11 371.05,190.11 371.30,190.10 371.55,190.09 371.80,190.07 372.05,190.05 372.30,190.01 372.55,189.96 372.80,189.90 373.05,189.83 373.30,189.75 373.55,189.67 373.80,189.61 374.05,189.56 374.30,189.54 374.55,189.55 374.80,189.59 375.05,189.65 375.30,189.72 375.55,189.79 375.80,189.85 376.05,189.91 376.30,189.96 376.55,189.99 376.80,190.01 377.05,190.03 377.30,190.03 377.55,190.03 377.80,190.03 378.05,190.03 378.30,190.02 378.55,190.01 378.80,189.99 379.05,189.97 379.30,189.93 379.55,189.88 379.80,189.81 380.05,189.74 380.30,189.67 380.55,189.61 380.80,189.56 381.05,189.55 381.30,189.57 381.55,189.61 381.80,189.67 382.05,189.74 382.30,189.81 382.55,189.88 382.80,189.93 383.05,189.97 383.30,190.01 383.55,190.03 383.80,190.04 384.05,190.04 384.30,190.04 384.55,190.03 384.80,190.02 385.05,190.00 385.30,189.97 385.55,189.95 385.80,189.92 386.05,189.88 386.30,189.85 386.55,189.80 386.80,189.75 387.05,189.69 387.30,189.63 387.55,189.56 387.80,189.51 388.05,189.48 388.30,189.48 388.55,189.52 388.80,189.58 389.05,189.67 389.30,189.76 389.55,189.84 389.80,189.92 390.05,189.98 390.30,190.02 390.55,190.05 390.80,190.08 391.05,190.10 391.30,190.11 391.55,190.12 391.80,190.12 392.05,190.13 392.30,190.13 392.55,190.12 392.80,190.11 393.05,190.10 393.30,190.08 393.55,190.06 393.80,190.02 394.05,189.98 394.30,189.92 394.55,189.86 394.80,189.78 395.05,189.70 395.30,189.61 395.55,189.53 395.80,189.46 396.05,189.40 396.30,189.37 396.55,189.36 396.80,189.38 397.05,189.41 397.30,189.46 397.55,189.51 397.80,189.56 398.05,189.59 398.30,189.62 398.55,189.63 398.80,189.63 399.05,189.63 399.30,189.62 399.55,189.62 399.80,189.62 400.05,189.62 400.30,189.63 400.55,189.65 400.80,189.68 401.05,189.71 401.30,189.75 401.55,189.78 401.80,189.82 402.05,189.86 402.30,189.90 402.55,189.94 402.80,189.96 403.05,189.99 403.30,190.00 403.55,190.01 403.80,190.01 404.05,190.01 404.30,190.00 404.55,189.98 404.80,189.96 405.05,189.94 405.30,189.91 405.55,189.89 405.80,189.86 406.05,189.83 406.30,189.80 406.55,189.78 406.80,189.75 407.05,189.73 407.30,189.70 407.55,189.68 407.80,189.67 408.05,189.65 408.30,189.64 408.55,189.62 408.80,189.61 409.05,189.61 409.30,189.60 409.55,189.60 409.80,189.60 410.05,189.61 410.30,189.62 410.55,189.63 410.80,189.64 411.05,189.66 411.30,189.67 411.55,189.69 411.80,189.71 412.05,189.72 412.30,189.74 412.55,189.75 412.80,189.76 413.05,189.77 413.30,189.78 413.55,189.80 413.80,189.81 414.05,189.82 414.30,189.84 414.55,189.86 414.80,189.88 415.05,189.91 415.30,189.94 415.55,189.96 415.80,189.99 416.05,190.02 416.30,190.04 416.55,190.06 416.80,190.08 417.05,190.10 417.30,190.11 417.55,190.12 417.80,190.13 418.05,190.13 418.30,190.14 418.55,190.14 418.80,190.14 419.05,190.15 419.30,190.15 419.55,190.15 419.80,190.15 420.05,190.15 420.30,190.15 420.55,190.15 420.80,190.15 421.05,190.15 421.30,190.15 421.55,190.15 421.80,190.15 422.05,190.15 422.30,190.15 422.55,190.15 422.80,190.15 423.05,190.15 423.30,190.15 423.55,190.15 423.80,190.15 424.05,190.15 424.30,190.15 424.55,190.15 424.80,190.15 425.05,190.15 425.30,190.14 425.55,190.14 425.80,190.14 426.05,190.13 426.30,190.13 426.55,190.12 426.80,190.12 427.05,190.11 427.30,190.11 427.55,190.11 427.80,190.11 428.05,190.11 428.30,190.11 428.55,190.11 428.80,190.11 429.05,190.12 429.30,190.12 429.55,190.13 429.80,190.13 430.05,190.14 430.30,190.14 430.55,190.14 430.80,190.14 431.05,190.14 431.30,190.14 431.55,190.14 431.80,190.14 432.05,190.14 432.30,190.14 432.55,190.13 432.80,190.13 433.05,190.12 433.30,190.11 433.55,190.09 433.80,190.07 434.05,190.05 434.30,190.02 434.55,189.99 434.80,189.95 435.05,189.91 435.30,189.86 435.55,189.81 435.80,189.75 436.05,189.70 436.30,189.66 436.55,189.62 436.80,189.60 437.05,189.58 437.30,189.58 437.55,189.59 437.80,189.61 438.05,189.64 438.30,189.67 438.55,189.71" fill="none" stroke="#3a3a3a" stroke-width="0.6" stroke-linejoin="round"/>
<text x="358.20" y="117.23" font-size="6.2" text-anchor="middle" font-weight="bold" fill="#000" stroke="#000" stroke-width="0.22" textLength="7.05" lengthAdjust="spacingAndGlyphs">2.77</text>
<polyline points="469.90,189.70 470.15,189.71 470.40,189.73 470.65,189.74 470.90,189.75 471.15,189.76 471.40,189.77 471.65,189.78 471.90,189.78 472.15,189.79 472.40,189.79 472.65,189.79 472.90,189.79 473.15,189.78 473.40,189.78 473.65,189.77 473.90,189.76 474.15,189.74 474.40,189.73 474.65,189.71 474.90,189.70 475.15,189.68 475.40,189.67 475.65,189.66 475.90,189.65 476.15,189.65 476.40,189.64 476.65,189.64 476.90,189.65 477.15,189.65 477.40,189.66 477.65,189.66 477.90,189.67 478.15,189.68 478.40,189.69 478.65,189.70 478.90,189.72 479.15,189.73 479.40,189.75 479.65,189.76 479.90,189.78 480.15,189.79 480.40,189.80 480.65,189.81 480.90,189.82 481.15,189.82 481.40,189.82 481.65,189.82 481.90,189.82 482.15,189.82 482.40,189.81 482.65,189.80 482.90,189.79 483.15,189.78 483.40,189.77 483.65,189.76 483.90,189.75 484.15,189.73 484.40,189.72 484.65,189.70 484.90,189.69 485.15,189.67 485.40,189.66 485.65,189.65 485.90,189.64 486.15,189.63 486.40,189.63 486.65,189.63 486.90,189.63 487.15,189.63 487.40,189.64 487.65,189.65 487.90,189.66 488.15,189.67 488.40,189.68 488.65,189.69 488.90,189.70 489.15,189.72 489.40,189.73 489.65,189.73 489.90,189.74 490.15,189.75 490.40,189.76 490.65,189.77 490.90,189.77 491.15,189.78 491.40,189.78 491.65,189.79 491.90,189.79 492.15,189.80 492.40,189.80 492.65,189.80 492.90,189.81 493.15,189.81 493.40,189.80 493.65,189.80 493.90,189.80 494.15,189.79 494.40,189.78 494.65,189.77 494.90,189.76 495.15,189.75 495.40,189.73 495.65,189.73 495.90,189.72 496.15,189.72 496.40,189.72 496.65,189.73 496.90,189.74 497.15,189.76 497.40,189.77 497.65,189.78 497.90,189.80 498.15,189.81 498.40,189.82 498.65,189.82 498.90,189.83 499.15,189.83 499.40,189.83 499.65,189.83 499.90,189.83 500.15,189.83 500.40,189.83 500.65,189.82 500.90,189.82 501.15,189.81 501.40,189.81 501.65,189.80 501.90,189.79 502.15,189.78 502.40,189.76 502.65,189.74 502.90,189.72 503.15,189.70 503.40,189.68 503.65,189.67 503.90,189.68 504.15,189.69 504.40,189.71 504.65,189.73 504.90,189.75 505.15,189.77 505.40,189.78 505.65,189.79 505.90,189.80 506.15,189.81 506.40,189.81 506.65,189.82 506.90,189.82 507.15,189.82 507.40,189.83 507.65,189.83 507.90,189.83 508.15,189.84 508.40,189.84 508.65,189.84 508.90,189.84 509.15,189.84 509.40,189.84 509.65,189.84 509.90,189.84 510.15,189.84 510.40,189.83 510.65,189.83 510.90,189.82 511.15,189.81 511.40,189.80 511.65,189.79 511.90,189.78 512.15,189.77 512.40,189.76 512.65,189.75 512.90,189.74 513.15,189.74 513.40,189.74 513.65,189.74 513.90,189.74 514.15,189.75 514.40,189.76 514.65,189.77 514.90,189.78 515.15,189.79 515.40,189.80 515.65,189.81 515.90,189.82 516.15,189.83 516.40,189.83 516.65,189.84 516.90,189.84 517.15,189.85 517.40,189.85 517.65,189.85 517.90,189.85 518.15,189.85 518.40,189.85 518.65,189.85 518.90,189.85 519.15,189.85 519.40,189.85 519.65,189.85 519.90,189.84 520.15,189.84 520.40,189.83 520.65,189.82 520.90,189.81 521.15,189.78 521.40,189.76 521.65,189.73 521.90,189.69 522.15,189.66 522.40,189.62 522.65,189.60 522.90,189.58 523.15,189.58 523.40,189.58 523.65,189.59 523.90,189.61 524.15,189.63 524.40,189.66 524.65,189.67 524.90,189.69 525.15,189.69 525.40,189.70 525.65,189.70 525.90,189.69 526.15,189.68 526.40,189.67 526.65,189.65 526.90,189.64 527.15,189.62 527.40,189.61 527.65,189.59 527.90,189.58 528.15,189.57 528.40,189.57 528.65,189.57 528.90,189.57 529.15,189.58 529.40,189.59 529.65,189.60 529.90,189.61 530.15,189.63 530.40,189.64 530.65,189.65 530.90,189.67 531.15,189.68 531.40,189.70 531.65,189.71 531.90,189.72 532.15,189.74 532.40,189.75 532.65,189.76 532.90,189.78 533.15,189.79 533.40,189.80 533.65,189.81 533.90,189.81 534.15,189.82 534.40,189.83 534.65,189.83 534.90,189.84 535.15,189.84 535.40,189.84 535.65,189.84 535.90,189.85 536.15,189.85 536.40,189.85 536.65,189.85 536.90,189.85 537.15,189.85 537.40,189.85 537.65,189.85 537.90,189.85 538.15,189.85 538.40,189.85 538.65,189.85 538.90,189.84 539.15,189.84 539.40,189.84 539.65,189.84 539.90,189.83 540.15,189.82 540.40,189.82 540.65,189.81 540.90,189.80 541.15,189.79 541.40,189.78 541.65,189.77 541.90,189.76 542.15,189.76 542.40,189.76 542.65,189.75 542.90,189.75 543.15,189.75 543.40,189.75 543.65,189.75 543.90,189.73 544.15,189.72 544.40,189.69 544.65,189.66 544.90,189.63 545.15,189.61 545.40,189.61 545.65,189.61 545.90,189.62 546.15,189.64 546.40,189.66 546.65,189.67 546.90,189.68 547.15,189.67 547.40,189.66 547.65,189.63 547.90,189.49 548.15,189.01 548.40,187.54 548.65,183.78 548.90,175.93 549.15,162.67 549.40,145.03 549.65,127.61 549.90,117.12 550.15,116.10 550.40,116.10 550.65,116.10 550.90,116.09 551.15,116.09 551.40,119.70 551.65,128.66 551.90,140.81 552.15,153.70 552.40,165.21 552.65,174.16 552.90,180.32 553.15,184.14 553.40,186.32 553.65,187.48 553.90,188.11 554.15,188.45 554.40,188.66 554.65,188.80 554.90,188.90 555.15,188.97 555.40,189.03 555.65,189.08 555.90,189.12 556.15,189.17 556.40,189.22 556.65,189.27 556.90,189.31 557.15,189.36 557.40,189.39 557.65,189.41 557.90,189.42 558.15,189.43 558.40,189.44 558.65,189.44 558.90,189.45 559.15,189.45 559.40,189.46 559.65,189.48 559.90,189.50 560.15,189.52 560.40,189.54 560.65,189.56 560.90,189.59 561.15,189.61 561.40,189.64 561.65,189.66 561.90,189.68 562.15,189.70 562.40,189.72 562.65,189.73 562.90,189.75 563.15,189.76 563.40,189.77 563.65,189.78 563.90,189.78 564.15,189.79 564.40,189.80 564.65,189.80 564.90,189.81 565.15,189.81 565.40,189.82 565.65,189.82 565.90,189.82 566.15,189.83 566.40,189.83 566.65,189.83 566.90,189.83 567.15,189.83 567.40,189.83 567.65,189.83 567.90,189.83 568.15,189.83 568.40,189.82 568.65,189.82 568.90,189.82 569.15,189.82 569.40,189.81 569.65,189.81 569.90,189.80 570.15,189.79 570.40,189.78 570.65,189.76 570.90,189.74 571.15,189.72 571.40,189.71 571.65,189.69 571.90,189.69 572.15,189.69 572.40,189.70 572.65,189.71 572.90,189.73 573.15,189.75 573.40,189.77 573.65,189.79 573.90,189.81 574.15,189.82 574.40,189.83 574.65,189.84 574.90,189.84 575.15,189.84 575.40,189.85 575.65,189.85 575.90,189.85 576.15,189.85 576.40,189.84 576.65,189.84 576.90,189.83 577.15,189.82 577.40,189.80 577.65,189.79 577.90,189.78 578.15,189.77 578.40,189.77 578.65,189.77 578.90,189.78 579.15,189.79 579.40,189.79 579.65,189.79 579.90,189.78 580.15,189.77 580.40,189.75 580.65,189.72 580.90,189.68 581.15,189.64 581.40,189.60 581.65,189.56 581.90,189.53 582.15,189.51 582.40,189.51 582.65,189.51 582.90,189.53 583.15,189.55 583.40,189.57" fill="none" stroke="#3a3a3a" stroke-width="0.6" stroke-linejoin="round"/>
<text x="544.60" y="116.43" font-size="6.2" text-anchor="middle" font-weight="bold" fill="#000" stroke="#000" stroke-width="0.22" textLength="7.05" lengthAdjust="spacingAndGlyphs">7.06</text>
<polyline points="548.80,116.30 548.80,116.30 550.60,116.30" fill="none" stroke="#333" stroke-width="0.5"/>
<polyline points="36.90,293.04 37.15,293.03 37.40,293.03 37.65,293.03 37.90,293.03 38.15,293.04 38.40,293.05 38.65,293.06 38.90,293.07 39.15,293.08 39.40,293.09 39.65,293.10 39.90,293.10 40.15,293.10 40.40,293.10 40.65,293.09 40.90,293.09 41.15,293.08 41.40,293.07 41.65,293.06 41.90,293.04 42.15,293.03 42.40,293.02 42.65,293.00 42.90,292.99 43.15,292.98 43.40,292.96 43.65,292.95 43.90,292.94 44.15,292.93 44.40,292.92 44.65,292.91 44.90,292.91 45.15,292.91 45.40,292.91 45.65,292.91 45.90,292.91 46.15,292.92 46.40,292.93 46.65,292.94 46.90,292.95 47.15,292.96 47.40,292.97 47.65,292.98 47.90,293.00 48.15,293.01 48.40,293.02 48.65,293.02 48.90,293.02 49.15,293.02 49.40,293.01 49.65,293.00 49.90,292.99 50.15,292.98 50.40,292.98 50.65,292.98 50.90,293.00 51.15,293.02 51.40,293.04 51.65,293.07 51.90,293.09 52.15,293.11 52.40,293.12 52.65,293.13 52.90,293.14 53.15,293.14 53.40,293.14 53.65,293.13 53.90,293.13 54.15,293.12 54.40,293.11 54.65,293.10 54.90,293.09 55.15,293.08 55.40,293.06 55.65,293.04 55.90,293.02 56.15,293.00 56.40,292.99 56.65,292.97 56.90,292.95 57.15,292.94 57.40,292.93 57.65,292.93 57.90,292.93 58.15,292.94 58.40,292.95 58.65,292.96 58.90,292.98 59.15,293.00 59.40,293.01 59.65,293.03 59.90,293.04 60.15,293.03 60.40,293.02 60.65,292.99 60.90,292.95 61.15,292.90 61.40,292.85 61.65,292.80 61.90,292.77 62.15,292.76 62.40,292.78 62.65,292.82 62.90,292.87 63.15,292.93 63.40,292.99 63.65,293.04 63.90,293.07 64.15,293.10 64.40,293.11 64.65,293.12 64.90,293.11 65.15,293.11 65.40,293.11 65.65,293.10 65.90,293.10 66.15,293.09 66.40,293.09 66.65,293.09 66.90,293.08 67.15,293.08 67.40,293.08 67.65,293.09 67.90,293.09 68.15,293.09 68.40,293.10 68.65,293.10 68.90,293.11 69.15,293.11 69.40,293.12 69.65,293.12 69.90,293.13 70.15,293.13 70.40,293.14 70.65,293.14 70.90,293.14 71.15,293.14 71.40,293.15 71.65,293.15 71.90,293.15 72.15,293.15 72.40,293.15 72.65,293.15 72.90,293.15 73.15,293.15 73.40,293.15 73.65,293.15 73.90,293.15 74.15,293.15 74.40,293.15 74.65,293.15 74.90,293.15 75.15,293.15 75.40,293.15 75.65,293.15 75.90,293.15 76.15,293.15 76.40,293.15 76.65,293.15 76.90,293.15 77.15,293.15 77.40,293.15 77.65,293.15 77.90,293.14 78.15,293.14 78.40,293.14 78.65,293.14 78.90,293.13 79.15,293.13 79.40,293.12 79.65,293.12 79.90,293.11 80.15,293.10 80.40,293.10 80.65,293.09 80.90,293.09 81.15,293.08 81.40,293.08 81.65,293.08 81.90,293.07 82.15,293.07 82.40,293.08 82.65,293.08 82.90,293.08 83.15,293.07 83.40,293.04 83.65,292.94 83.90,292.70 84.15,292.15 84.40,291.02 84.65,288.88 84.90,285.20 85.15,279.42 85.40,271.18 85.65,260.60 85.90,248.50 86.15,236.43 86.40,226.46 86.65,220.55 86.90,220.32 87.15,223.19 87.40,227.25 87.65,232.30 87.90,238.06 88.15,244.24 88.40,250.50 88.65,256.58 88.90,262.24 89.15,267.31 89.40,271.72 89.65,275.43 89.90,278.47 90.15,280.92 90.40,282.84 90.65,284.35 90.90,285.51 91.15,286.42 91.40,287.15 91.65,287.73 91.90,288.21 92.15,288.62 92.40,288.98 92.65,289.30 92.90,289.59 93.15,289.85 93.40,290.09 93.65,290.31 93.90,290.50 94.15,290.68 94.40,290.84 94.65,290.99 94.90,291.13 95.15,291.25 95.40,291.36 95.65,291.46 95.90,291.56 96.15,291.64 96.40,291.73 96.65,291.81 96.90,291.89 97.15,291.96 97.40,292.03 97.65,292.10 97.90,292.17 98.15,292.24 98.40,292.30 98.65,292.36 98.90,292.42 99.15,292.48 99.40,292.53 99.65,292.58 99.90,292.62 100.15,292.67 100.40,292.71 100.65,292.75 100.90,292.79 101.15,292.82 101.40,292.85 101.65,292.88 101.90,292.91 102.15,292.94 102.40,292.96 102.65,292.98 102.90,292.99 103.15,293.00 103.40,293.02 103.65,293.02 103.90,293.03 104.15,293.03 104.40,293.03 104.65,293.03 104.90,293.02 105.15,293.02 105.40,293.01 105.65,293.00 105.90,293.00 106.15,292.99 106.40,292.99 106.65,292.99 106.90,293.00 107.15,293.00 107.40,293.00 107.65,292.99 107.90,292.99 108.15,292.98 108.40,292.97 108.65,292.96 108.90,292.94 109.15,292.93 109.40,292.91 109.65,292.90 109.90,292.89 110.15,292.88 110.40,292.87 110.65,292.87 110.90,292.87 111.15,292.88 111.40,292.89 111.65,292.90 111.90,292.91 112.15,292.92 112.40,292.94 112.65,292.95 112.90,292.95 113.15,292.96 113.40,292.96 113.65,292.95 113.90,292.95 114.15,292.94 114.40,292.94 114.65,292.93 114.90,292.93 115.15,292.94 115.40,292.95 115.65,292.97 115.90,292.99 116.15,293.01 116.40,293.03 116.65,293.06 116.90,293.08 117.15,293.09 117.40,293.11 117.65,293.12 117.90,293.13 118.15,293.13 118.40,293.13 118.65,293.12 118.90,293.11 119.15,293.10 119.40,293.08 119.65,293.05 119.90,293.02 120.15,292.99 120.40,292.96 120.65,292.94 120.90,292.92 121.15,292.92 121.40,292.92 121.65,292.93 121.90,292.94 122.15,292.95 122.40,292.97 122.65,292.97 122.90,292.98 123.15,292.98 123.40,292.98 123.65,292.98 123.90,292.97 124.15,292.97 124.40,292.97 124.65,292.96 124.90,292.97 125.15,292.97 125.40,292.97 125.65,292.98 125.90,292.99 126.15,293.00 126.40,293.01 126.65,293.02 126.90,293.03 127.15,293.04 127.40,293.05 127.65,293.06 127.90,293.07 128.15,293.08 128.40,293.09 128.65,293.10 128.90,293.11 129.15,293.11 129.40,293.12 129.65,293.12 129.90,293.12 130.15,293.13 130.40,293.13 130.65,293.13 130.90,293.13 131.15,293.13 131.40,293.13 131.65,293.13 131.90,293.13 132.15,293.14 132.40,293.14 132.65,293.14 132.90,293.15 133.15,293.15 133.40,293.15 133.65,293.15 133.90,293.15 134.15,293.15 134.40,293.15 134.65,293.15 134.90,293.15 135.15,293.15 135.40,293.15 135.65,293.15 135.90,293.15 136.15,293.15 136.40,293.15 136.65,293.15 136.90,293.15 137.15,293.15 137.40,293.15 137.65,293.15 137.90,293.15 138.15,293.15 138.40,293.15 138.65,293.15 138.90,293.14 139.15,293.14 139.40,293.14 139.65,293.14 139.90,293.14 140.15,293.14 140.40,293.14 140.65,293.14 140.90,293.14 141.15,293.14 141.40,293.14 141.65,293.14 141.90,293.14 142.15,293.13 142.40,293.13 142.65,293.12 142.90,293.12 143.15,293.11 143.40,293.10 143.65,293.09 143.90,293.07 144.15,293.06 144.40,293.05 144.65,293.03 144.90,293.01 145.15,293.00 145.40,292.98 145.65,292.97 145.90,292.96 146.15,292.95 146.40,292.95 146.65,292.94 146.90,292.94 147.15,292.95 147.40,292.95 147.65,292.96 147.90,292.98 148.15,292.99 148.40,293.01" fill="none" stroke="#3a3a3a" stroke-width="0.6" stroke-linejoin="round"/>
<text x="86.90" y="219.03" font-size="6.2" text-anchor="middle" font-weight="bold" fill="#000" stroke="#000" stroke-width="0.22" textLength="7.05" lengthAdjust="spacingAndGlyphs">4.50</text>
<polyline points="181.90,294.14 182.15,294.15 182.40,294.15 182.65,294.15 182.90,294.15 183.15,294.15 183.40,294.15 183.65,294.15 183.90,294.15 184.15,294.15 184.40,294.15 184.65,294.15 184.90,294.15 185.15,294.14 185.40,294.13 185.65,294.12 185.90,294.10 186.15,294.08 186.40,294.05 186.65,294.01 186.90,293.97 187.15,293.93 187.40,293.90 187.65,293.88 187.90,293.86 188.15,293.86 188.40,293.86 188.65,293.87 188.90,293.87 189.15,293.88 189.40,293.89 189.65,293.89 189.90,293.90 190.15,293.92 190.40,293.93 190.65,293.95 190.90,293.97 191.15,293.99 191.40,294.00 191.65,294.02 191.90,294.03 192.15,294.03 192.40,294.03 192.65,294.03 192.90,294.02 193.15,294.02 193.40,294.02 193.65,294.02 193.90,294.02 194.15,294.02 194.40,294.03 194.65,294.04 194.90,294.04 195.15,294.05 195.40,294.05 195.65,294.05 195.90,294.05 196.15,294.05 196.40,294.05 196.65,294.05 196.90,294.04 197.15,294.04 197.40,294.04 197.65,294.05 197.90,294.05 198.15,294.05 198.40,294.06 198.65,294.06 198.90,294.07 199.15,294.08 199.40,294.09 199.65,294.09 199.90,294.10 200.15,294.11 200.40,294.11 200.65,294.11 200.90,294.11 201.15,294.11 201.40,294.11 201.65,294.10 201.90,294.09 202.15,294.08 202.40,294.06 202.65,294.04 202.90,294.02 203.15,294.00 203.40,293.98 203.65,293.96 203.90,293.95 204.15,293.95 204.40,293.95 204.65,293.96 204.90,293.97 205.15,293.98 205.40,294.00 205.65,294.02 205.90,294.04 206.15,294.05 206.40,294.07 206.65,294.08 206.90,294.08 207.15,294.09 207.40,294.09 207.65,294.10 207.90,294.10 208.15,294.10 208.40,294.10 208.65,294.11 208.90,294.11 209.15,294.12 209.40,294.12 209.65,294.12 209.90,294.13 210.15,294.13 210.40,294.14 210.65,294.14 210.90,294.14 211.15,294.14 211.40,294.15 211.65,294.15 211.90,294.15 212.15,294.15 212.40,294.15 212.65,294.15 212.90,294.15 213.15,294.15 213.40,294.15 213.65,294.15 213.90,294.15 214.15,294.15 214.40,294.15 214.65,294.15 214.90,294.15 215.15,294.14 215.40,294.12 215.65,294.09 215.90,294.01 216.15,293.85 216.40,293.52 216.65,292.91 216.90,291.83 217.15,290.04 217.40,287.22 217.65,283.06 217.90,277.30 218.15,269.83 218.40,260.83 218.65,250.78 218.90,240.56 219.15,231.25 219.40,224.04 219.65,219.94 219.90,219.99 220.15,223.32 220.40,228.59 220.65,235.39 220.90,243.16 221.15,251.30 221.40,259.25 221.65,266.57 221.90,272.95 222.15,278.25 222.40,282.47 222.65,285.69 222.90,288.06 223.15,289.74 223.40,290.92 223.65,291.72 223.90,292.26 224.15,292.64 224.40,292.90 224.65,293.10 224.90,293.24 225.15,293.36 225.40,293.46 225.65,293.54 225.90,293.62 226.15,293.68 226.40,293.74 226.65,293.78 226.90,293.83 227.15,293.87 227.40,293.90 227.65,293.93 227.90,293.95 228.15,293.98 228.40,293.99 228.65,294.01 228.90,294.03 229.15,294.04 229.40,294.05 229.65,294.06 229.90,294.06 230.15,294.06 230.40,294.07 230.65,294.07 230.90,294.06 231.15,294.06 231.40,294.05 231.65,294.04 231.90,294.02 232.15,294.01 232.40,293.99 232.65,293.97 232.90,293.94 233.15,293.91 233.40,293.88 233.65,293.85 233.90,293.81 234.15,293.78 234.40,293.74 234.65,293.70 234.90,293.67 235.15,293.64 235.40,293.61 235.65,293.60 235.90,293.59 236.15,293.59 236.40,293.60 236.65,293.62 236.90,293.65 237.15,293.68 237.40,293.72 237.65,293.76 237.90,293.79 238.15,293.83 238.40,293.87 238.65,293.90 238.90,293.93 239.15,293.96 239.40,293.98 239.65,294.01 239.90,294.03 240.15,294.04 240.40,294.06 240.65,294.07 240.90,294.08 241.15,294.09 241.40,294.09 241.65,294.09 241.90,294.09 242.15,294.09 242.40,294.08 242.65,294.07 242.90,294.05 243.15,294.04 243.40,294.02 243.65,294.01 243.90,294.00 244.15,293.99 244.40,293.99 244.65,293.99 244.90,293.99 245.15,294.00 245.40,294.00 245.65,294.01 245.90,294.02 246.15,294.02 246.40,294.03 246.65,294.03 246.90,294.02 247.15,294.02 247.40,294.01 247.65,294.00 247.90,294.00 248.15,293.99 248.40,293.98 248.65,293.98 248.90,293.98 249.15,293.98 249.40,293.98 249.65,293.98 249.90,293.98 250.15,293.99 250.40,293.99 250.65,294.00 250.90,294.00 251.15,294.01 251.40,294.02 251.65,294.03 251.90,294.04 252.15,294.05 252.40,294.06 252.65,294.07 252.90,294.07 253.15,294.08 253.40,294.08 253.65,294.08 253.90,294.07 254.15,294.06 254.40,294.04 254.65,294.02 254.90,294.00 255.15,293.97 255.40,293.94 255.65,293.90 255.90,293.87 256.15,293.85 256.40,293.83 256.65,293.82 256.90,293.82 257.15,293.83 257.40,293.85 257.65,293.88 257.90,293.91 258.15,293.94 258.40,293.97 258.65,294.00 258.90,294.03 259.15,294.05 259.40,294.07 259.65,294.09 259.90,294.10 260.15,294.11 260.40,294.12 260.65,294.12 260.90,294.13 261.15,294.13 261.40,294.14 261.65,294.14 261.90,294.14 262.15,294.14 262.40,294.14 262.65,294.14 262.90,294.15 263.15,294.15 263.40,294.15 263.65,294.15 263.90,294.14 264.15,294.14 264.40,294.14 264.65,294.14 264.90,294.14 265.15,294.14 265.40,294.14 265.65,294.13 265.90,294.13 266.15,294.13 266.40,294.13 266.65,294.12 266.90,294.12 267.15,294.12 267.40,294.12 267.65,294.11 267.90,294.11 268.15,294.11 268.40,294.11 268.65,294.11 268.90,294.11 269.15,294.11 269.40,294.11 269.65,294.11 269.90,294.11 270.15,294.11 270.40,294.12 270.65,294.12 270.90,294.12 271.15,294.12 271.40,294.13 271.65,294.13 271.90,294.13 272.15,294.13 272.40,294.13 272.65,294.14 272.90,294.14 273.15,294.14 273.40,294.14 273.65,294.14 273.90,294.14 274.15,294.14 274.40,294.14 274.65,294.14 274.90,294.14 275.15,294.14 275.40,294.14 275.65,294.14 275.90,294.14 276.15,294.13 276.40,294.12 276.65,294.10 276.90,294.07 277.15,294.04 277.40,294.01 277.65,293.97 277.90,293.93 278.15,293.90 278.40,293.89 278.65,293.89 278.90,293.89 279.15,293.90 279.40,293.91 279.65,293.92 279.90,293.92 280.15,293.91 280.40,293.90 280.65,293.89 280.90,293.88 281.15,293.87 281.40,293.87 281.65,293.87 281.90,293.87 282.15,293.87 282.40,293.88 282.65,293.88 282.90,293.89 283.15,293.89 283.40,293.89 283.65,293.89 283.90,293.88 284.15,293.88 284.40,293.87 284.65,293.86 284.90,293.85 285.15,293.84 285.40,293.83 285.65,293.83 285.90,293.82 286.15,293.82 286.40,293.83 286.65,293.84 286.90,293.85 287.15,293.86 287.40,293.88 287.65,293.89 287.90,293.91 288.15,293.93 288.40,293.95 288.65,293.97 288.90,293.99 289.15,294.00 289.40,294.02 289.65,294.04 289.90,294.05 290.15,294.06 290.40,294.08 290.65,294.09 290.90,294.10 291.15,294.11 291.40,294.12 291.65,294.12 291.90,294.13 292.15,294.13 292.40,294.14 292.65,294.14 292.90,294.14 293.15,294.14 293.40,294.14" fill="none" stroke="#3a3a3a" stroke-width="0.6" stroke-linejoin="round"/>
<text x="219.60" y="218.83" font-size="6.2" text-anchor="middle" font-weight="bold" fill="#000" stroke="#000" stroke-width="0.22" textLength="7.05" lengthAdjust="spacingAndGlyphs">3.44</text>
<polyline points="330.60,292.85 330.85,292.85 331.10,292.85 331.35,292.85 331.60,292.85 331.85,292.85 332.10,292.85 332.35,292.85 332.60,292.85 332.85,292.85 333.10,292.85 333.35,292.85 333.60,292.85 333.85,292.85 334.10,292.85 334.35,292.85 334.60,292.85 334.85,292.85 335.10,292.85 335.35,292.85 335.60,292.85 335.85,292.85 336.10,292.85 336.35,292.85 336.60,292.85 336.85,292.85 337.10,292.84 337.35,292.84 337.60,292.84 337.85,292.84 338.10,292.83 338.35,292.83 338.60,292.82 338.85,292.82 339.10,292.81 339.35,292.80 339.60,292.79 339.85,292.78 340.10,292.77 340.35,292.76 340.60,292.74 340.85,292.73 341.10,292.71 341.35,292.70 341.60,292.68 341.85,292.66 342.10,292.65 342.35,292.63 342.60,292.62 342.85,292.62 343.10,292.61 343.35,292.61 343.60,292.62 343.85,292.62 344.10,292.62 344.35,292.62 344.60,292.61 344.85,292.60 345.10,292.58 345.35,292.55 345.60,292.52 345.85,292.49 346.10,292.46 346.35,292.43 346.60,292.42 346.85,292.41 347.10,292.42 347.35,292.43 347.60,292.45 347.85,292.47 348.10,292.48 348.35,292.50 348.60,292.51 348.85,292.52 349.10,292.53 349.35,292.55 349.60,292.56 349.85,292.58 350.10,292.60 350.35,292.62 350.60,292.64 350.85,292.67 351.10,292.69 351.35,292.71 351.60,292.73 351.85,292.74 352.10,292.76 352.35,292.77 352.60,292.77 352.85,292.78 353.10,292.77 353.35,292.77 353.60,292.75 353.85,292.73 354.10,292.70 354.35,292.67 354.60,292.64 354.85,292.61 355.10,292.59 355.35,292.57 355.60,292.56 355.85,292.55 356.10,292.51 356.35,292.42 356.60,292.24 356.85,291.90 357.10,291.29 357.35,290.25 357.60,288.60 357.85,286.10 358.10,282.50 358.35,277.58 358.60,271.24 358.85,263.51 359.10,254.68 359.35,245.27 359.60,236.04 359.85,227.89 360.10,221.70 360.35,218.23 360.60,218.27 360.85,220.65 361.10,224.13 361.35,228.57 361.60,233.79 361.85,239.53 362.10,245.55 362.35,251.61 362.60,257.48 362.85,262.98 363.10,267.99 363.35,272.42 363.60,276.24 363.85,279.45 364.10,282.10 364.35,284.24 364.60,285.93 364.85,287.26 365.10,288.29 365.35,289.07 365.60,289.67 365.85,290.13 366.10,290.49 366.35,290.77 366.60,290.99 366.85,291.17 367.10,291.32 367.35,291.44 367.60,291.55 367.85,291.65 368.10,291.73 368.35,291.81 368.60,291.89 368.85,291.96 369.10,292.03 369.35,292.09 369.60,292.15 369.85,292.21 370.10,292.27 370.35,292.33 370.60,292.38 370.85,292.42 371.10,292.47 371.35,292.50 371.60,292.54 371.85,292.57 372.10,292.60 372.35,292.62 372.60,292.64 372.85,292.66 373.10,292.68 373.35,292.70 373.60,292.71 373.85,292.72 374.10,292.73 374.35,292.74 374.60,292.75 374.85,292.76 375.10,292.76 375.35,292.77 375.60,292.77 375.85,292.77 376.10,292.77 376.35,292.77 376.60,292.77 376.85,292.76 377.10,292.76 377.35,292.75 377.60,292.74 377.85,292.74 378.10,292.73 378.35,292.72 378.60,292.72 378.85,292.72 379.10,292.72 379.35,292.72 379.60,292.72 379.85,292.73 380.10,292.74 380.35,292.75 380.60,292.76 380.85,292.77 381.10,292.78 381.35,292.79 381.60,292.80 381.85,292.81 382.10,292.82 382.35,292.83 382.60,292.83 382.85,292.83 383.10,292.84 383.35,292.84 383.60,292.83 383.85,292.83 384.10,292.82 384.35,292.80 384.60,292.79 384.85,292.77 385.10,292.75 385.35,292.74 385.60,292.73 385.85,292.74 386.10,292.75 386.35,292.76 386.60,292.78 386.85,292.80 387.10,292.82 387.35,292.83 387.60,292.84 387.85,292.84 388.10,292.85 388.35,292.85 388.60,292.85 388.85,292.85 389.10,292.85 389.35,292.85 389.60,292.85 389.85,292.84 390.10,292.84 390.35,292.84 390.60,292.83 390.85,292.83 391.10,292.82 391.35,292.81 391.60,292.81 391.85,292.80 392.10,292.80 392.35,292.79 392.60,292.78 392.85,292.78 393.10,292.77 393.35,292.76 393.60,292.76 393.85,292.75 394.10,292.74 394.35,292.74 394.60,292.73 394.85,292.73 395.10,292.73 395.35,292.72 395.60,292.72 395.85,292.71 396.10,292.70 396.35,292.70 396.60,292.69 396.85,292.68 397.10,292.67 397.35,292.66 397.60,292.65 397.85,292.64 398.10,292.63 398.35,292.63 398.60,292.62 398.85,292.62 399.10,292.63 399.35,292.63 399.60,292.63 399.85,292.64 400.10,292.64 400.35,292.64 400.60,292.64 400.85,292.63 401.10,292.62 401.35,292.60 401.60,292.59 401.85,292.57 402.10,292.57 402.35,292.58 402.60,292.60 402.85,292.62 403.10,292.65 403.35,292.67 403.60,292.69 403.85,292.70 404.10,292.70 404.35,292.70 404.60,292.70 404.85,292.69 405.10,292.67 405.35,292.66 405.60,292.65 405.85,292.64 406.10,292.63 406.35,292.62 406.60,292.61 406.85,292.60 407.10,292.60 407.35,292.59 407.60,292.59 407.85,292.58 408.10,292.57 408.35,292.57 408.60,292.56 408.85,292.55 409.10,292.53 409.35,292.52 409.60,292.51 409.85,292.50 410.10,292.49 410.35,292.48 410.60,292.48 410.85,292.48 411.10,292.48 411.35,292.48 411.60,292.50 411.85,292.51 412.10,292.53 412.35,292.55 412.60,292.57 412.85,292.59 413.10,292.62 413.35,292.64 413.60,292.66 413.85,292.69 414.10,292.70 414.35,292.72 414.60,292.74 414.85,292.75 415.10,292.76 415.35,292.77 415.60,292.77 415.85,292.77 416.10,292.77 416.35,292.76 416.60,292.76 416.85,292.75 417.10,292.75 417.35,292.74 417.60,292.74 417.85,292.74 418.10,292.74 418.35,292.75 418.60,292.76 418.85,292.77 419.10,292.78 419.35,292.79 419.60,292.79 419.85,292.80 420.10,292.80 420.35,292.80 420.60,292.80 420.85,292.79 421.10,292.77 421.35,292.76 421.60,292.74 421.85,292.71 422.10,292.69 422.35,292.66 422.60,292.62 422.85,292.59 423.10,292.55 423.35,292.52 423.60,292.49 423.85,292.47 424.10,292.45 424.35,292.44 424.60,292.44 424.85,292.44 425.10,292.46 425.35,292.48 425.60,292.51 425.85,292.54 426.10,292.58 426.35,292.62 426.60,292.65 426.85,292.69 427.10,292.72 427.35,292.75 427.60,292.77 427.85,292.79 428.10,292.81 428.35,292.82 428.60,292.83 428.85,292.83 429.10,292.84 429.35,292.84 429.60,292.85 429.85,292.85 430.10,292.85 430.35,292.85 430.60,292.85 430.85,292.85 431.10,292.85 431.35,292.85 431.60,292.85 431.85,292.85 432.10,292.85 432.35,292.85 432.60,292.85 432.85,292.85 433.10,292.85 433.35,292.85 433.60,292.85 433.85,292.85 434.10,292.85 434.35,292.85 434.60,292.85 434.85,292.85 435.10,292.85 435.35,292.85 435.60,292.85 435.85,292.85 436.10,292.85 436.35,292.85 436.60,292.85 436.85,292.85 437.10,292.85 437.35,292.85 437.60,292.85 437.85,292.85 438.10,292.85 438.35,292.85 438.60,292.85 438.85,292.85 439.10,292.85 439.35,292.85 439.60,292.84 439.85,292.84 440.10,292.84 440.35,292.84 440.60,292.84 440.85,292.84 441.10,292.84 441.35,292.83" fill="none" stroke="#3a3a3a" stroke-width="0.6" stroke-linejoin="round"/>
<text x="360.60" y="218.03" font-size="6.2" text-anchor="middle" font-weight="bold" fill="#000" stroke="#000" stroke-width="0.22" textLength="7.05" lengthAdjust="spacingAndGlyphs">2.76</text>
<polyline points="472.90,293.15 473.15,293.15 473.40,293.15 473.65,293.15 473.90,293.15 474.15,293.15 474.40,293.15 474.65,293.15 474.90,293.15 475.15,293.15 475.40,293.15 475.65,293.15 475.90,293.15 476.15,293.15 476.40,293.15 476.65,293.15 476.90,293.15 477.15,293.15 477.40,293.14 477.65,293.14 477.90,293.13 478.15,293.12 478.40,293.11 478.65,293.09 478.90,293.07 479.15,293.05 479.40,293.03 479.65,293.01 479.90,293.00 480.15,292.99 480.40,292.98 480.65,292.99 480.90,293.00 481.15,293.01 481.40,293.03 481.65,293.05 481.90,293.07 482.15,293.09 482.40,293.11 482.65,293.12 482.90,293.13 483.15,293.14 483.40,293.14 483.65,293.15 483.90,293.15 484.15,293.15 484.40,293.15 484.65,293.15 484.90,293.15 485.15,293.15 485.40,293.15 485.65,293.15 485.90,293.15 486.15,293.15 486.40,293.15 486.65,293.15 486.90,293.15 487.15,293.15 487.40,293.15 487.65,293.15 487.90,293.15 488.15,293.14 488.40,293.14 488.65,293.14 488.90,293.14 489.15,293.13 489.40,293.13 489.65,293.12 489.90,293.12 490.15,293.11 490.40,293.10 490.65,293.09 490.90,293.09 491.15,293.08 491.40,293.07 491.65,293.06 491.90,293.05 492.15,293.04 492.40,293.03 492.65,293.03 492.90,293.02 493.15,293.02 493.40,293.02 493.65,293.02 493.90,293.02 494.15,293.02 494.40,293.03 494.65,293.03 494.90,293.04 495.15,293.05 495.40,293.06 495.65,293.06 495.90,293.07 496.15,293.08 496.40,293.09 496.65,293.10 496.90,293.10 497.15,293.10 497.40,293.11 497.65,293.11 497.90,293.10 498.15,293.09 498.40,293.08 498.65,293.06 498.90,293.03 499.15,293.00 499.40,292.97 499.65,292.94 499.90,292.91 500.15,292.89 500.40,292.88 500.65,292.88 500.90,292.89 501.15,292.89 501.40,292.90 501.65,292.91 501.90,292.92 502.15,292.93 502.40,292.93 502.65,292.93 502.90,292.93 503.15,292.93 503.40,292.92 503.65,292.91 503.90,292.89 504.15,292.87 504.40,292.85 504.65,292.82 504.90,292.80 505.15,292.78 505.40,292.76 505.65,292.76 505.90,292.76 506.15,292.78 506.40,292.79 506.65,292.81 506.90,292.83 507.15,292.85 507.40,292.87 507.65,292.88 507.90,292.88 508.15,292.88 508.40,292.88 508.65,292.87 508.90,292.87 509.15,292.86 509.40,292.85 509.65,292.84 509.90,292.84 510.15,292.83 510.40,292.83 510.65,292.83 510.90,292.84 511.15,292.85 511.40,292.86 511.65,292.88 511.90,292.91 512.15,292.93 512.40,292.96 512.65,292.98 512.90,293.01 513.15,293.03 513.40,293.05 513.65,293.07 513.90,293.08 514.15,293.10 514.40,293.11 514.65,293.12 514.90,293.12 515.15,293.13 515.40,293.13 515.65,293.13 515.90,293.14 516.15,293.14 516.40,293.13 516.65,293.13 516.90,293.12 517.15,293.12 517.40,293.11 517.65,293.10 517.90,293.08 518.15,293.07 518.40,293.05 518.65,293.04 518.90,293.02 519.15,293.01 519.40,293.01 519.65,293.00 519.90,293.01 520.15,293.01 520.40,293.02 520.65,293.04 520.90,293.05 521.15,293.07 521.40,293.08 521.65,293.09 521.90,293.11 522.15,293.12 522.40,293.13 522.65,293.13 522.90,293.14 523.15,293.14 523.40,293.15 523.65,293.15 523.90,293.15 524.15,293.15 524.40,293.15 524.65,293.15 524.90,293.15 525.15,293.15 525.40,293.15 525.65,293.15 525.90,293.15 526.15,293.15 526.40,293.15 526.65,293.14 526.90,293.14 527.15,293.14 527.40,293.14 527.65,293.14 527.90,293.14 528.15,293.13 528.40,293.13 528.65,293.13 528.90,293.12 529.15,293.12 529.40,293.11 529.65,293.11 529.90,293.10 530.15,293.10 530.40,293.09 530.65,293.08 530.90,293.07 531.15,293.07 531.40,293.06 531.65,293.05 531.90,293.05 532.15,293.05 532.40,293.04 532.65,293.04 532.90,293.04 533.15,293.04 533.40,293.04 533.65,293.04 533.90,293.04 534.15,293.03 534.40,293.03 534.65,293.03 534.90,293.02 535.15,293.02 535.40,293.01 535.65,293.01 535.90,293.01 536.15,293.01 536.40,293.01 536.65,293.01 536.90,293.02 537.15,293.02 537.40,293.02 537.65,293.02 537.90,293.02 538.15,293.02 538.40,293.02 538.65,293.01 538.90,293.00 539.15,292.99 539.40,292.98 539.65,292.97 539.90,292.96 540.15,292.96 540.40,292.95 540.65,292.94 540.90,292.94 541.15,292.94 541.40,292.94 541.65,292.95 541.90,292.96 542.15,292.97 542.40,292.98 542.65,292.99 542.90,293.00 543.15,293.01 543.40,293.02 543.65,293.03 543.90,293.03 544.15,293.02 544.40,293.01 544.65,292.99 544.90,292.96 545.15,292.92 545.40,292.88 545.65,292.85 545.90,292.83 546.15,292.82 546.40,292.82 546.65,292.83 546.90,292.86 547.15,292.88 547.40,292.91 547.65,292.93 547.90,292.95 548.15,292.96 548.40,292.97 548.65,292.98 548.90,292.97 549.15,292.88 549.40,292.52 549.65,291.33 549.90,288.16 550.15,281.23 550.40,268.99 550.65,251.85 550.90,233.74 551.15,221.26 551.40,218.99 551.65,219.00 551.90,219.01 552.15,219.01 552.40,219.02 552.65,219.02 552.90,222.67 553.15,231.73 553.40,243.98 553.65,256.98 553.90,268.60 554.15,277.64 554.40,283.86 554.65,287.73 554.90,289.93 555.15,291.13 555.40,291.77 555.65,292.13 555.90,292.35 556.15,292.52 556.40,292.64 556.65,292.73 556.90,292.81 557.15,292.87 557.40,292.92 557.65,292.96 557.90,292.99 558.15,293.01 558.40,293.03 558.65,293.05 558.90,293.05 559.15,293.06 559.40,293.06 559.65,293.06 559.90,293.05 560.15,293.05 560.40,293.04 560.65,293.03 560.90,293.02 561.15,293.01 561.40,292.99 561.65,292.98 561.90,292.97 562.15,292.95 562.40,292.94 562.65,292.93 562.90,292.92 563.15,292.90 563.40,292.89 563.65,292.88 563.90,292.87 564.15,292.86 564.40,292.84 564.65,292.83 564.90,292.82 565.15,292.80 565.40,292.79 565.65,292.78 565.90,292.76 566.15,292.75 566.40,292.74 566.65,292.72 566.90,292.71 567.15,292.69 567.40,292.68 567.65,292.66 567.90,292.64 568.15,292.62 568.40,292.60 568.65,292.58 568.90,292.57 569.15,292.56 569.40,292.56 569.65,292.57 569.90,292.58 570.15,292.60 570.40,292.63 570.65,292.66 570.90,292.69 571.15,292.73 571.40,292.76 571.65,292.80 571.90,292.83 572.15,292.87 572.40,292.90 572.65,292.93 572.90,292.97 573.15,293.00 573.40,293.02 573.65,293.05 573.90,293.07 574.15,293.09 574.40,293.10 574.65,293.11 574.90,293.12 575.15,293.13 575.40,293.14 575.65,293.14 575.90,293.14 576.15,293.15 576.40,293.15 576.65,293.15 576.90,293.15 577.15,293.15 577.40,293.15 577.65,293.15 577.90,293.15 578.15,293.15 578.40,293.15 578.65,293.15 578.90,293.15 579.15,293.15 579.40,293.15 579.65,293.15 579.90,293.15 580.15,293.15 580.40,293.14 580.65,293.14 580.90,293.13 581.15,293.13 581.40,293.11 581.65,293.10 581.90,293.08 582.15,293.06 582.40,293.05 582.65,293.04 582.90,293.03 583.15,293.04 583.40,293.04" fill="none" stroke="#3a3a3a" stroke-width="0.6" stroke-linejoin="round"/>
<text x="546.10" y="218.83" font-size="6.2" text-anchor="middle" font-weight="bold" fill="#000" stroke="#000" stroke-width="0.22" textLength="7.05" lengthAdjust="spacingAndGlyphs">7.06</text>
<polyline points="36.00,91.04 36.20,88.80 36.40,89.41 36.60,90.90 36.80,90.94 37.00,88.67 37.20,90.05 37.40,88.67 37.60,90.53 37.80,90.70 38.00,87.02 38.20,89.27 38.40,90.17 38.60,84.24 38.80,71.03 39.00,62.41 39.20,61.00 39.40,72.72 39.60,84.51 39.80,74.24 40.00,84.51 40.20,82.58 40.40,75.73 40.60,82.58 40.80,87.12 41.00,89.46 41.20,78.99 41.50,54.00 41.80,78.99 42.00,89.46 42.20,91.02 42.40,88.83 42.60,86.81 42.80,90.59 43.00,90.73 43.20,86.59 43.40,70.90 43.60,58.00 43.80,70.90 44.00,86.59 44.20,90.73 44.40,88.83 44.60,84.11 44.80,80.93 45.00,84.11 45.20,69.08 45.40,55.00 45.60,69.08 45.80,86.19 46.00,90.70 46.20,91.07 46.40,90.99 46.60,90.95 46.80,90.92 47.00,88.99 47.20,89.70 47.40,90.94 47.60,80.53 47.80,67.49 48.00,80.53 48.20,88.72 48.40,90.76 48.60,89.93 48.80,88.29 49.00,90.23 49.20,90.87 49.40,87.73 49.60,87.50 49.80,90.69 50.00,89.94 50.20,87.12 50.40,90.22 50.60,89.16 50.80,82.43 51.00,77.00 51.20,82.43 51.40,89.16 51.60,90.03 51.80,90.08 52.00,90.85 52.20,86.81 52.40,89.36 52.60,90.91 52.80,91.10 53.00,90.26 53.20,90.60 53.40,88.44 53.60,89.02 53.80,89.64 54.00,91.03 54.20,91.03 54.40,90.74 54.60,90.87 54.80,87.88 55.00,90.08 55.20,89.48 55.40,86.79 55.60,90.86 55.80,90.00 56.00,91.03 56.20,88.63 56.40,91.10 56.60,88.26 56.80,88.07 57.00,88.25 57.20,91.08 57.40,90.85 57.60,89.00 57.80,77.74 58.00,62.96 58.20,77.74 58.40,87.14 58.60,89.75 58.80,87.98 59.00,90.78 59.20,88.50 59.40,84.86 59.60,80.59 59.80,84.86 60.00,76.06 60.20,66.50 60.40,76.06 60.60,84.27 60.80,78.81 61.00,80.43 61.20,85.47 61.40,90.27 61.60,91.07 61.80,90.42 62.00,89.28 62.20,86.19 62.40,89.96 62.60,86.13 62.80,81.13 63.00,87.41 63.20,88.24 63.40,75.55 63.60,63.75 63.80,75.55 64.00,86.75 64.20,74.90 64.40,65.99 64.60,74.90 64.80,86.27 65.00,87.95 65.20,91.10 65.40,72.90 65.60,79.46 65.80,86.23 66.00,69.26 66.20,55.30 66.40,69.26 66.60,85.53 66.80,89.56 67.00,89.03 67.20,88.21 67.40,81.82 67.60,83.93 67.80,70.65 68.00,62.11 68.20,70.65 68.40,71.12 68.60,84.71 68.80,79.99 69.00,89.10 69.20,76.20 69.40,78.51 69.60,57.62 69.80,71.49 70.10,30.90 70.40,71.49 70.60,87.68 70.80,75.80 71.00,73.15 71.20,76.78 71.40,81.27 71.60,87.92 71.80,90.87 72.00,86.80 72.20,76.36 72.40,68.86 72.60,76.36 72.80,85.92 73.00,82.41 73.20,78.48 73.40,58.47 73.60,37.50 73.80,58.47 74.00,83.82 74.20,89.76 74.40,79.73 74.60,67.92 74.80,69.14 75.00,77.61 75.20,76.91 75.50,47.60 75.80,76.91 76.00,71.36 76.20,58.06 76.40,71.36 76.60,83.32 76.80,73.01 77.00,52.95 77.20,73.01 77.40,83.43 77.60,89.38 77.80,78.49 78.00,73.02 78.20,85.07 78.40,80.09 78.60,66.54 78.80,66.62 79.00,73.24 79.20,69.12 79.40,85.82 79.60,80.27 79.80,75.86 80.00,84.66 80.20,62.23 80.40,43.70 80.60,47.74 80.80,63.28 81.00,76.32 81.20,84.36 81.40,80.87 81.60,89.14 81.80,71.85 82.00,88.69 82.20,84.31 82.40,68.11 82.60,56.59 82.80,68.11 83.00,61.61 83.20,49.13 83.40,61.61 83.60,80.87 83.80,89.89 84.00,72.74 84.20,68.86 84.40,76.57 84.60,77.26 84.80,67.68 85.00,76.29 85.20,76.31 85.40,53.49 85.60,76.31 85.80,71.36 86.00,76.05 86.20,81.17 86.40,46.58 86.60,17.90 86.80,46.58 87.00,81.17 87.20,69.11 87.40,71.38 87.60,81.68 87.80,85.19 88.00,64.59 88.20,47.60 88.40,64.59 88.60,83.96 88.80,77.10 89.00,91.10 89.20,81.85 89.40,64.15 89.60,52.61 89.80,64.15 90.00,76.08 90.20,65.01 90.40,65.99 90.60,47.80 90.80,65.99 91.00,86.20 91.20,82.57 91.40,88.82 91.60,76.96 91.80,65.14 92.00,70.45 92.20,83.74 92.40,86.75 92.60,76.34 92.80,68.92 93.00,76.34 93.20,78.80 93.40,71.36 93.60,62.52 93.80,56.36 94.00,75.36 94.20,75.07 94.40,87.93 94.60,77.31 94.80,58.44 95.00,72.92 95.20,77.19 95.40,65.94 95.60,77.19 95.80,72.96 96.00,81.90 96.20,76.17 96.40,79.93 96.60,73.15 96.80,79.71 97.00,83.81 97.20,69.47 97.40,58.54 97.60,69.47 97.80,84.77 98.00,81.85 98.20,61.99 98.40,48.44 98.60,61.99 98.80,71.51 99.00,55.30 99.20,71.51 99.50,32.90 99.80,72.14 100.00,75.85 100.20,67.67 100.40,75.85 100.60,74.21 100.80,77.23 101.00,67.17 101.20,77.23 101.40,78.01 101.60,85.08 101.80,82.60 102.00,84.04 102.20,78.72 102.40,84.04 102.60,82.23 102.80,90.95 103.00,87.50 103.20,78.77 103.40,86.08 103.60,74.57 103.80,66.52 104.00,74.57 104.20,86.08 104.40,81.76 104.60,83.64 104.80,89.60 105.00,85.84 105.20,72.97 105.40,63.71 105.60,72.97 105.80,83.02 106.00,90.35 106.20,89.00 106.40,82.93 106.60,82.31 106.80,87.46 107.00,74.78 107.20,64.40 107.40,74.78 107.60,84.78 107.80,90.80 108.00,85.99 108.20,90.36 108.40,89.74 108.60,90.96 108.80,86.14 109.00,84.84 109.20,90.92 109.40,88.97 109.60,84.09 109.80,78.67 110.00,78.40 110.20,83.25 110.40,88.58 110.60,90.70 110.80,87.06 111.00,87.36 111.20,88.68 111.40,91.04 111.60,88.81 111.80,86.69 112.00,90.25 112.20,91.08 112.40,90.91 112.60,87.94 112.80,79.37 113.00,72.94 113.20,79.37 113.40,86.08 113.60,81.63 113.80,86.08 114.00,90.35 114.20,89.07 114.40,87.26 114.60,89.53 114.80,90.90 115.00,90.74 115.20,86.86 115.40,87.97 115.60,79.75 115.80,73.67 116.00,65.49 116.20,79.84 116.40,90.28 116.60,88.79 116.80,76.96 117.00,65.26 117.20,76.96 117.50,56.60 117.80,79.83 118.00,89.58 118.20,90.79 118.40,88.43 118.60,90.87 118.80,87.28 119.00,81.12 119.20,87.28 119.40,87.22 119.60,86.31 119.80,84.93 120.00,72.72 120.20,64.66 120.40,66.83 120.60,77.75 120.80,86.76 121.00,71.63 121.20,59.20 121.40,71.63 121.60,86.76 121.80,89.15 122.00,88.25 122.20,89.96 122.40,90.01 122.60,87.74 122.80,88.99 123.00,89.94 123.20,84.71 123.40,76.00 123.60,84.71 123.80,91.01 124.00,89.48 124.20,90.90 124.40,90.30 124.60,88.36 124.80,88.25 125.00,88.22 125.20,90.90 125.40,90.10 125.60,90.93 125.80,89.65 126.00,88.35 126.20,78.79 126.40,71.00 126.60,78.79 126.80,88.35 127.00,87.55 127.20,90.99 127.40,91.02 127.60,91.10 127.80,90.08 128.00,90.34 128.20,90.31 128.40,90.85 128.60,88.20 128.80,90.71 129.00,87.27 129.20,84.31 129.40,87.78 129.60,88.27 129.80,90.00 130.00,86.68 130.20,84.07 130.40,86.68 130.60,90.00 130.80,89.45 131.00,89.96 131.20,86.40 131.40,70.05 131.60,56.60 131.80,70.05 132.00,83.76 132.20,86.23 132.40,89.67 132.60,89.03 132.80,87.99 133.00,88.35 133.20,91.09 133.40,90.44 133.60,90.59 133.80,90.94 134.00,86.75 134.20,91.10 134.40,90.14 134.60,88.56 134.80,86.61 135.00,91.03 135.20,90.28 135.40,88.68 135.60,91.10 135.80,90.90 136.00,87.53 136.20,91.04 136.40,90.51 136.60,90.78 136.80,90.40 137.00,91.08 137.20,91.10 137.40,86.56 137.60,88.57 137.80,88.78 138.00,90.92 138.20,90.88 138.40,89.87 138.60,90.90 138.80,90.27 139.00,87.20 139.20,90.61 139.40,90.68 139.60,86.74 139.80,80.61 140.00,74.00 140.20,80.61 140.40,88.76 140.60,90.91 140.80,90.67 141.00,89.07 141.20,87.83 141.40,89.68 141.60,87.65 141.80,90.27 142.00,90.52 142.20,88.01 142.40,90.56 142.60,88.49 142.80,90.95 143.00,90.66 143.20,90.99 143.40,89.90 143.60,91.02 143.80,90.97 144.00,90.16 144.20,84.18 144.50,70.00 144.80,84.18 145.00,83.62 145.20,78.41 145.40,83.62 145.60,89.44 145.80,83.64 146.00,79.00 146.20,77.95 146.40,82.44 146.60,88.63 146.80,91.00 147.00,90.87 147.20,90.54 147.40,87.41" fill="none" stroke="#000" stroke-width="0.45" stroke-linejoin="round"/>
<text x="45.30" y="53.93" font-size="6.2" text-anchor="middle" font-weight="bold" fill="#000" stroke="#000" stroke-width="0.22" textLength="7.05" lengthAdjust="spacingAndGlyphs">0.89</text>
<text x="50.80" y="75.83" font-size="6.2" text-anchor="middle" font-weight="bold" fill="#000" stroke="#000" stroke-width="0.22" textLength="7.05" lengthAdjust="spacingAndGlyphs">1.42</text>
<text x="60.20" y="65.83" font-size="6.2" text-anchor="middle" font-weight="bold" fill="#000" stroke="#000" stroke-width="0.22" textLength="7.05" lengthAdjust="spacingAndGlyphs">2.23</text>
<text x="63.30" y="54.23" font-size="6.2" text-anchor="middle" font-weight="bold" fill="#000" stroke="#000" stroke-width="0.22" textLength="7.05" lengthAdjust="spacingAndGlyphs">2.80</text>
<text x="69.70" y="30.23" font-size="6.2" text-anchor="middle" font-weight="bold" fill="#000" stroke="#000" stroke-width="0.22" textLength="7.05" lengthAdjust="spacingAndGlyphs">3.04</text>
<text x="77.40" y="33.13" font-size="6.2" text-anchor="middle" font-weight="bold" fill="#000" stroke="#000" stroke-width="0.22" textLength="7.05" lengthAdjust="spacingAndGlyphs">3.23</text>
<text x="80.50" y="43.23" font-size="6.2" text-anchor="middle" font-weight="bold" fill="#000" stroke="#000" stroke-width="0.22" textLength="7.05" lengthAdjust="spacingAndGlyphs">4.04</text>
<text x="86.30" y="17.33" font-size="6.2" text-anchor="middle" font-weight="bold" fill="#000" stroke="#000" stroke-width="0.22" textLength="7.05" lengthAdjust="spacingAndGlyphs">4.54</text>
<text x="92.10" y="47.53" font-size="6.2" text-anchor="middle" font-weight="bold" fill="#000" stroke="#000" stroke-width="0.22" textLength="7.05" lengthAdjust="spacingAndGlyphs">4.77</text>
<text x="99.40" y="32.53" font-size="6.2" text-anchor="middle" font-weight="bold" fill="#000" stroke="#000" stroke-width="0.22" textLength="7.05" lengthAdjust="spacingAndGlyphs">5.60</text>
<text x="107.30" y="64.23" font-size="6.2" text-anchor="middle" font-weight="bold" fill="#000" stroke="#000" stroke-width="0.22" textLength="7.05" lengthAdjust="spacingAndGlyphs">6.39</text>
<text x="117.30" y="55.83" font-size="6.2" text-anchor="middle" font-weight="bold" fill="#000" stroke="#000" stroke-width="0.22" textLength="7.05" lengthAdjust="spacingAndGlyphs">7.29</text>
<text x="126.20" y="70.73" font-size="6.2" text-anchor="middle" font-weight="bold" fill="#000" stroke="#000" stroke-width="0.22" textLength="7.05" lengthAdjust="spacingAndGlyphs">8.49</text>
<text x="131.60" y="55.83" font-size="6.2" text-anchor="middle" font-weight="bold" fill="#000" stroke="#000" stroke-width="0.22" textLength="7.05" lengthAdjust="spacingAndGlyphs">8.60</text>
<text x="139.70" y="73.23" font-size="6.2" text-anchor="middle" font-weight="bold" fill="#000" stroke="#000" stroke-width="0.22" textLength="7.05" lengthAdjust="spacingAndGlyphs">9.70</text>
<text x="146.50" y="69.83" font-size="6.2" text-anchor="middle" font-weight="bold" fill="#000" stroke="#000" stroke-width="0.22" textLength="7.05" lengthAdjust="spacingAndGlyphs">9.57</text>
<text x="150.80" y="78.63" font-size="6.2" text-anchor="middle" font-weight="bold" fill="#000" stroke="#000" stroke-width="0.22" textLength="7.05" lengthAdjust="spacingAndGlyphs">9.98</text>
<polyline points="182.10,91.71 182.30,89.65 182.50,91.83 182.70,88.33 182.90,84.20 183.10,88.33 183.30,90.44 183.50,92.25 183.70,92.04 183.90,92.18 184.10,91.70 184.30,89.23 184.50,89.80 184.70,86.48 184.90,77.69 185.20,74.40 185.50,86.42 185.70,89.02 185.90,87.54 186.10,89.02 186.30,88.94 186.50,92.24 186.70,92.29 186.90,92.10 187.10,89.46 187.30,92.11 187.50,90.51 187.70,92.27 187.90,90.84 188.10,88.48 188.30,86.56 188.50,88.48 188.70,89.54 188.90,91.71 189.10,88.75 189.30,83.10 189.50,79.16 189.70,83.10 189.90,88.64 190.10,82.90 190.30,77.00 190.50,82.90 190.70,89.49 190.90,92.12 191.10,90.24 191.30,91.58 191.50,92.30 191.70,90.95 191.90,84.22 192.10,77.63 192.30,84.22 192.50,90.73 192.70,89.64 192.90,89.27 193.10,91.83 193.30,90.64 193.50,90.85 193.70,90.67 193.90,88.73 194.10,85.40 194.30,88.04 194.50,83.08 194.70,88.04 194.90,90.38 195.10,89.88 195.30,92.02 195.50,92.04 195.70,90.47 195.90,92.30 196.10,89.57 196.30,92.01 196.50,91.05 196.70,87.85 196.90,85.50 197.10,87.85 197.30,85.77 197.60,72.40 197.90,85.77 198.10,87.40 198.30,84.85 198.50,87.40 198.70,90.90 198.90,92.02 199.10,91.95 199.30,92.27 199.50,91.74 199.70,92.10 199.90,92.29 200.10,92.26 200.30,89.18 200.50,90.53 200.70,88.76 200.90,89.96 201.10,90.41 201.30,92.16 201.50,92.27 201.70,88.75 201.90,90.70 202.10,90.50 202.30,92.25 202.50,90.10 202.70,91.37 202.90,92.28 203.10,92.18 203.30,88.88 203.50,91.00 203.70,92.28 203.90,92.29 204.10,90.25 204.30,91.88 204.50,91.41 204.70,92.24 204.90,92.18 205.10,91.10 205.30,91.39 205.50,92.15 205.70,92.20 205.90,91.13 206.10,92.24 206.30,91.96 206.50,87.38 206.70,73.80 206.90,62.00 207.10,73.80 207.30,87.38 207.50,84.40 207.70,92.13 207.90,90.98 208.10,85.37 208.30,78.60 208.50,85.37 208.70,91.41 208.90,83.81 209.10,80.88 209.30,74.33 209.50,80.88 209.70,85.42 209.90,84.17 210.10,87.22 210.30,89.64 210.50,84.17 210.70,78.05 211.00,48.60 211.30,78.05 211.50,82.96 211.70,75.48 211.90,82.96 212.10,84.60 212.30,87.30 212.50,91.53 212.70,88.02 212.90,85.48 213.10,78.44 213.30,85.48 213.50,87.93 213.70,87.75 213.90,71.92 214.10,58.90 214.30,71.92 214.50,87.75 214.70,89.84 214.90,85.61 215.10,90.94 215.30,91.97 215.50,89.46 215.70,91.05 215.90,90.87 216.10,92.10 216.30,88.49 216.50,91.45 216.70,83.77 216.90,90.41 217.10,88.50 217.30,84.88 217.50,83.79 217.70,92.30 217.90,84.82 218.10,92.24 218.30,84.44 218.50,87.07 218.70,91.86 218.90,88.08 219.10,76.35 219.30,66.20 219.50,76.35 219.70,79.86 219.90,67.16 220.10,79.86 220.30,90.79 220.50,89.00 220.70,88.21 220.90,85.86 221.10,78.39 221.30,71.60 221.50,78.39 221.70,88.08 221.90,85.38 222.10,92.28 222.30,85.29 222.50,92.21 222.70,91.23 222.90,89.19 223.10,92.30 223.30,90.80 223.50,86.93 223.70,91.22 223.90,92.11 224.10,86.76 224.30,74.61 224.50,66.26 224.70,74.61 224.90,86.76 225.10,91.76 225.30,89.86 225.50,88.45 225.70,83.05 226.00,64.00 226.30,83.05 226.50,79.57 226.70,87.62 226.90,87.23 227.10,86.02 227.30,87.43 227.50,89.15 227.70,90.02 227.90,92.25 228.10,89.70 228.30,79.47 228.50,70.42 228.70,79.47 228.90,89.71 229.10,91.23 229.30,86.43 229.50,90.41 229.70,88.66 229.90,92.28 230.10,91.98 230.30,91.82 230.50,90.51 230.70,92.22 230.90,84.50 231.10,91.52 231.30,92.30 231.50,91.92 231.70,90.37 231.90,89.26 232.10,86.68 232.30,87.90 232.50,72.59 232.70,60.00 232.90,72.59 233.10,87.90 233.30,88.84 233.50,83.95 233.70,84.03 233.90,78.92 234.10,70.42 234.30,78.92 234.50,89.24 234.70,89.77 234.90,84.63 235.10,74.35 235.40,37.20 235.70,74.35 235.90,89.19 236.10,86.27 236.30,88.02 236.50,79.65 236.70,74.14 236.90,79.65 237.10,88.02 237.30,88.07 237.50,86.01 237.70,92.26 237.90,91.24 238.10,91.42 238.30,87.49 238.50,83.84 238.70,87.49 238.90,75.01 239.10,64.00 239.30,75.01 239.50,88.44 239.70,91.98 239.90,91.89 240.10,92.23 240.30,88.37 240.50,85.77 240.80,72.40 241.10,85.77 241.30,91.42 241.50,89.69 241.70,92.07 241.90,88.79 242.10,89.21 242.30,89.01 242.50,90.51 242.70,92.24 242.90,88.17 243.10,92.25 243.30,90.53 243.50,86.94 243.70,91.97 243.90,91.13 244.10,89.82 244.30,90.05 244.50,91.81 244.70,91.44 244.90,87.68 245.10,89.48 245.30,92.17 245.50,89.78 245.70,88.17 245.90,90.38 246.10,87.70 246.30,91.98 246.50,91.92 246.70,88.02 246.90,92.00 247.10,92.24 247.30,92.21 247.50,87.84 247.70,88.47 247.90,92.13 248.10,85.69 248.30,76.24 248.50,85.69 248.70,92.30 248.90,90.55 249.10,89.17 249.30,90.99 249.50,90.19 249.70,92.25 249.90,91.25 250.10,88.86 250.30,91.63 250.50,89.23 250.70,90.40 250.90,88.62 251.10,89.28 251.30,87.43 251.60,77.50 251.90,87.43 252.10,89.46 252.30,91.45 252.50,90.55 252.70,91.81 252.90,91.23 253.10,91.86 253.30,87.70 253.50,90.30 253.70,90.29 253.90,90.89 254.10,91.21 254.30,88.46 254.50,78.88 254.70,71.94 254.90,78.88 255.10,88.46 255.30,92.23 255.50,90.03 255.70,88.87 255.90,91.65 256.10,92.19 256.30,86.82 256.50,89.78 256.70,86.28 256.90,89.25 257.10,78.65 257.30,70.00 257.50,78.65 257.70,89.25 257.90,91.95 258.10,91.49 258.30,92.27 258.50,92.08 258.70,90.67 258.90,87.83 259.10,91.40 259.30,86.89 259.50,92.01 259.70,92.26 259.90,88.30 260.10,91.61 260.30,90.96 260.50,82.40 260.80,62.00 261.10,82.40 261.30,90.41 261.50,89.96 261.70,90.66 261.90,92.20 262.10,88.07 262.30,91.38 262.50,90.77 262.70,85.85 262.90,80.00 263.10,80.29 263.30,71.66 263.50,80.29 263.70,89.93 263.90,92.04 264.10,92.07 264.30,90.67 264.50,91.88 264.70,87.32 264.90,81.80 265.10,74.31 265.30,81.80 265.60,62.00 265.90,82.40 266.10,86.99 266.30,92.23 266.50,89.07 266.70,87.59 266.90,91.49 267.10,91.75 267.30,92.30 267.50,87.68 267.70,89.76 267.90,85.67 268.10,89.76 268.30,90.93 268.50,89.76 268.70,87.57 268.90,89.91 269.10,92.26 269.30,87.29 269.50,87.96 269.70,88.63 269.90,87.64 270.10,88.41 270.30,89.88 270.50,89.29 270.70,92.30 270.90,87.41 271.10,92.30 271.30,91.60 271.50,91.02 271.70,91.34 271.90,91.93 272.10,91.44 272.30,91.61 272.50,87.46 272.70,83.06 272.90,87.46 273.10,91.16 273.30,91.64 273.50,87.43 273.80,77.50 274.10,87.43 274.30,90.83 274.50,91.94 274.70,89.49 274.90,91.59 275.10,90.45 275.30,88.46 275.50,86.75 275.70,88.46 275.90,89.80 276.10,89.44 276.30,89.98 276.50,89.91 276.70,87.96 276.90,89.91 277.10,90.01 277.30,90.37 277.50,91.38 277.70,91.48 277.90,89.57 278.10,83.65 278.30,79.59 278.50,83.65 278.70,89.57 278.90,91.32 279.10,90.16 279.30,88.53 279.50,90.16 279.70,91.41 279.90,92.27 280.10,89.46 280.30,92.30 280.50,91.88 280.70,90.90 280.90,91.41 281.10,91.15 281.30,89.95 281.50,92.28 281.70,91.64 281.90,92.16 282.10,91.35 282.30,91.76 282.50,91.24 282.70,90.50 282.90,91.66 283.10,91.86 283.30,91.49 283.50,92.24 283.70,89.89 283.90,91.93 284.10,91.66 284.30,90.29 284.50,90.33 284.70,89.38 284.90,90.92 285.10,91.57 285.30,91.84 285.50,90.61 285.70,91.27 285.90,92.30 286.10,91.47 286.30,91.09 286.50,91.99 286.70,90.35 286.90,90.78 287.10,90.05 287.30,92.10 287.50,91.11 287.70,91.48 287.90,92.02 288.10,92.10 288.30,92.29 288.50,90.32 288.70,90.88 288.90,85.93 289.10,82.00 289.30,85.93 289.50,90.88 289.70,90.16 289.90,92.29 290.10,92.02 290.30,90.32 290.50,90.53 290.70,92.29 290.90,91.80 291.10,89.41 291.30,89.49 291.50,92.06 291.70,90.77 291.90,87.59 292.10,81.19 292.30,87.59 293.00,84.00" fill="none" stroke="#000" stroke-width="0.45" stroke-linejoin="round"/>
<text x="185.80" y="73.83" font-size="6.2" text-anchor="middle" font-weight="bold" fill="#000" stroke="#000" stroke-width="0.22" textLength="7.05" lengthAdjust="spacingAndGlyphs">0.36</text>
<text x="197.60" y="72.03" font-size="6.2" text-anchor="middle" font-weight="bold" fill="#000" stroke="#000" stroke-width="0.22" textLength="7.05" lengthAdjust="spacingAndGlyphs">1.41</text>
<text x="206.00" y="59.03" font-size="6.2" text-anchor="middle" font-weight="bold" fill="#000" stroke="#000" stroke-width="0.22" textLength="7.05" lengthAdjust="spacingAndGlyphs">2.57</text>
<text x="211.10" y="47.23" font-size="6.2" text-anchor="middle" font-weight="bold" fill="#000" stroke="#000" stroke-width="0.22" textLength="7.05" lengthAdjust="spacingAndGlyphs">2.63</text>
<text x="215.30" y="57.53" font-size="6.2" text-anchor="middle" font-weight="bold" fill="#000" stroke="#000" stroke-width="0.22" textLength="7.05" lengthAdjust="spacingAndGlyphs">2.76</text>
<text x="221.50" y="64.03" font-size="6.2" text-anchor="middle" font-weight="bold" fill="#000" stroke="#000" stroke-width="0.22" textLength="7.05" lengthAdjust="spacingAndGlyphs">3.26</text>
<text x="228.80" y="59.53" font-size="6.2" text-anchor="middle" font-weight="bold" fill="#000" stroke="#000" stroke-width="0.22" textLength="7.05" lengthAdjust="spacingAndGlyphs">4.55</text>
<text x="235.40" y="36.63" font-size="6.2" text-anchor="middle" font-weight="bold" fill="#000" stroke="#000" stroke-width="0.22" textLength="7.05" lengthAdjust="spacingAndGlyphs">4.80</text>
<text x="241.40" y="63.23" font-size="6.2" text-anchor="middle" font-weight="bold" fill="#000" stroke="#000" stroke-width="0.22" textLength="7.05" lengthAdjust="spacingAndGlyphs">5.08</text>
<text x="251.90" y="76.73" font-size="6.2" text-anchor="middle" font-weight="bold" fill="#000" stroke="#000" stroke-width="0.22" textLength="7.05" lengthAdjust="spacingAndGlyphs">6.34</text>
<text x="257.20" y="70.33" font-size="6.2" text-anchor="middle" font-weight="bold" fill="#000" stroke="#000" stroke-width="0.22" textLength="7.05" lengthAdjust="spacingAndGlyphs">6.79</text>
<text x="261.00" y="60.73" font-size="6.2" text-anchor="middle" font-weight="bold" fill="#000" stroke="#000" stroke-width="0.22" textLength="7.05" lengthAdjust="spacingAndGlyphs">7.13</text>
<text x="278.50" y="78.33" font-size="6.2" text-anchor="middle" font-weight="bold" fill="#000" stroke="#000" stroke-width="0.22" textLength="7.05" lengthAdjust="spacingAndGlyphs">8.37</text>
<text x="287.70" y="81.13" font-size="6.2" text-anchor="middle" font-weight="bold" fill="#000" stroke="#000" stroke-width="0.22" textLength="7.05" lengthAdjust="spacingAndGlyphs">9.56</text>
<text x="295.40" y="82.23" font-size="6.2" text-anchor="middle" font-weight="bold" fill="#000" stroke="#000" stroke-width="0.22" textLength="7.05" lengthAdjust="spacingAndGlyphs">9.75</text>
<polyline points="326.80,88.91 327.00,87.28 327.20,87.24 327.40,90.91 327.60,89.49 327.80,84.55 328.00,80.83 328.20,74.35 328.40,83.44 328.60,90.51 328.80,88.73 329.00,86.35 329.20,79.88 329.40,86.35 329.60,68.54 329.90,21.40 330.20,68.54 330.40,88.22 330.60,90.47 330.80,88.16 331.00,89.09 331.20,90.57 331.40,90.82 331.60,88.82 331.80,88.33 332.00,89.86 332.20,86.67 332.40,75.27 332.60,67.06 332.80,75.27 333.00,86.67 333.20,89.35 333.40,79.91 333.60,70.79 333.80,79.91 334.00,89.35 334.20,90.64 334.40,88.57 334.60,88.18 334.80,88.91 335.00,83.72 335.20,75.29 335.40,83.72 335.60,86.61 335.80,77.45 336.00,71.43 336.30,63.00 336.60,82.05 336.80,82.26 337.00,85.31 337.20,81.63 337.40,77.03 337.60,81.63 337.80,88.29 338.00,90.63 338.20,90.12 338.40,87.43 338.60,74.03 338.80,62.87 339.00,74.03 339.20,87.43 339.40,91.30 339.60,90.50 339.80,87.25 340.00,91.30 340.20,91.27 340.40,87.82 340.60,82.67 340.80,70.60 341.00,79.63 341.20,71.63 341.40,79.63 341.60,76.46 341.80,83.61 342.00,79.38 342.20,83.12 342.40,75.77 342.60,83.12 342.80,78.70 343.00,81.34 343.20,61.04 343.40,32.37 343.60,17.90 343.80,32.37 344.00,60.74 344.20,58.14 344.40,58.14 344.60,60.74 344.80,65.34 345.00,70.98 345.20,55.29 345.50,39.50 345.80,55.29 346.00,72.56 346.20,84.26 346.40,77.38 346.60,85.67 346.80,80.86 347.00,68.28 347.20,80.86 347.40,91.17 347.60,87.65 347.80,89.77 348.00,80.70 348.20,65.87 348.50,64.00 348.80,82.37 349.00,86.67 349.20,82.47 349.40,86.67 349.60,90.63 349.80,84.06 350.00,74.26 350.20,84.06 350.40,91.09 350.60,87.55 350.80,87.79 351.00,83.97 351.20,82.98 351.40,75.57 351.60,82.98 351.80,90.07 352.00,90.87 352.20,90.49 352.40,89.76 352.60,79.94 352.90,56.50 353.20,79.94 353.40,88.25 353.60,91.22 353.80,89.69 354.00,86.05 354.20,82.33 354.40,86.05 354.60,90.24 354.80,91.27 355.00,90.07 355.20,88.37 355.40,83.52 355.60,76.72 355.80,69.78 356.00,76.72 356.20,86.77 356.40,89.97 356.60,89.01 356.80,90.33 357.00,90.64 357.20,86.43 357.50,76.50 357.80,82.79 358.00,88.31 358.20,90.89 358.40,87.66 358.60,83.77 358.80,87.66 359.00,87.67 359.20,89.36 359.40,89.46 359.60,88.16 359.80,90.68 360.00,90.62 360.20,91.07 360.40,88.38 360.60,89.36 360.80,90.24 361.00,88.77 361.20,87.71 361.40,91.30 361.60,91.14 361.80,90.48 362.00,89.21 362.20,80.41 362.50,61.80 362.80,81.66 363.00,89.49 363.20,91.24 363.40,90.67 363.60,89.66 363.80,88.12 364.00,90.30 364.20,89.51 364.40,80.33 364.60,65.90 364.80,80.33 365.00,83.50 365.20,86.82 365.40,87.93 365.60,88.79 365.80,89.59 366.00,88.59 366.20,81.49 366.40,76.24 366.60,81.49 366.80,79.70 367.00,70.18 367.20,79.70 367.40,72.73 367.60,64.47 367.80,72.73 368.00,71.00 368.20,78.87 368.40,88.53 368.60,87.89 368.80,87.65 369.00,78.11 369.20,69.52 369.40,71.67 369.60,79.33 369.80,88.59 370.00,87.11 370.20,91.12 370.40,91.30 370.60,87.30 370.80,90.52 371.00,90.51 371.20,90.63 371.40,91.04 371.60,91.30 371.80,90.09 372.00,91.15 372.20,90.35 372.40,86.96 372.60,82.74 372.80,75.58 373.00,82.74 373.20,87.78 373.40,75.53 373.60,65.50 373.80,75.53 374.00,87.69 374.20,86.84 374.40,81.01 374.60,86.84 374.80,91.20 375.00,89.99 375.20,89.35 375.40,91.20 375.60,90.34 375.80,90.07 376.00,87.65 376.20,82.70 376.40,77.61 376.60,83.89 376.80,80.72 377.00,84.99 377.20,88.36 377.40,91.09 377.60,89.46 377.80,90.20 378.00,86.52 378.20,83.50 378.40,86.52 378.60,90.20 378.80,87.75 379.00,87.91 379.20,91.30 379.40,91.29 379.60,91.09 379.80,91.30 380.00,88.11 380.20,91.24 380.40,89.45 380.60,87.42 380.80,89.29 381.00,82.55 381.20,71.41 381.40,82.55 381.60,87.17 381.80,91.15 382.00,90.10 382.20,90.67 382.40,85.15 382.60,76.41 382.90,63.00 383.20,82.05 383.40,90.05 383.60,87.37 383.80,87.41 384.00,80.73 384.20,65.23 384.40,67.64 384.60,75.54 384.80,86.64 385.00,83.99 385.20,81.45 385.40,64.71 385.60,81.45 385.80,88.51 386.00,78.09 386.20,69.11 386.40,78.09 386.60,87.69 386.80,90.88 387.00,88.07 387.20,90.54 387.40,89.46 387.60,87.58 387.80,89.66 388.00,85.63 388.20,65.89 388.40,49.60 388.60,65.89 388.80,85.63 389.00,89.99 389.20,91.29 389.40,91.09 389.60,90.42 389.80,90.42 390.00,89.26 390.20,91.12 390.40,91.03 390.60,89.09 390.80,91.03 391.00,91.23 391.20,89.76 391.40,90.86 391.60,89.93 391.80,87.21 392.00,87.19 392.20,88.68 392.40,87.17 392.60,82.96 392.80,78.40 393.00,82.96 393.20,78.66 393.40,68.35 393.60,66.20 393.80,75.95 394.00,82.01 394.20,88.60 394.40,79.57 394.60,70.22 394.80,79.57 395.00,89.28 395.20,91.04 395.40,79.95 395.60,63.22 395.80,79.95 396.00,89.21 396.20,90.98 396.40,88.41 396.60,87.85 396.80,76.68 397.00,67.65 397.20,76.68 397.40,76.89 397.60,81.31 397.80,80.06 398.00,66.81 398.20,80.06 398.40,87.33 398.60,75.53 398.80,65.50 399.00,73.54 399.20,82.45 399.40,90.20 399.60,87.02 399.80,87.21 400.00,91.04 400.20,90.21 400.40,82.77 400.60,69.67 400.80,82.77 401.00,89.41 401.20,86.69 401.40,83.79 401.60,86.69 401.80,90.23 402.00,87.38 402.20,79.38 402.40,71.99 402.60,79.38 402.80,80.55 403.00,85.04 403.20,88.49 403.40,78.76 403.60,69.63 403.90,67.00 404.20,83.35 404.40,84.46 404.60,76.84 404.80,84.46 405.00,90.57 405.20,91.08 405.40,90.01 405.60,87.78 405.80,89.84 406.00,89.28 406.20,88.97 406.40,88.70 406.60,79.31 406.80,71.33 407.00,79.31 407.20,88.70 407.40,88.18 407.60,90.73 407.80,91.01 408.00,91.27 408.20,90.40 408.40,82.59 408.60,70.36 408.80,82.59 409.00,89.84 409.20,90.04 409.40,90.77 409.60,90.16 409.80,90.25 410.00,88.90 410.20,90.04 410.40,89.26 410.60,91.17 410.80,89.25 411.00,91.30 411.20,89.44 411.40,91.30 411.60,90.32 411.80,91.13 412.00,91.25 412.20,89.78 412.40,91.26 412.60,90.05 412.80,91.29 413.00,88.98 413.20,82.11 413.40,76.75 413.60,82.11 413.80,88.98 414.00,89.17 414.20,91.30 414.40,91.22 414.60,88.97 414.80,84.56 415.00,81.69 415.20,84.56 415.40,88.97 415.60,84.31 415.90,76.50 416.20,86.43 416.40,83.07 416.60,69.13 416.80,83.07 417.00,91.26 417.20,91.21 417.40,91.05 417.60,91.29 417.80,89.65 418.00,89.00 418.20,89.82 418.40,86.51 418.60,83.92 418.80,86.51 419.00,89.99 419.20,91.16 419.40,90.36 419.60,90.41 419.80,82.29 420.00,68.16 420.20,82.29 420.40,89.76 420.60,82.05 420.90,63.00 421.20,82.05 421.40,73.63 421.60,83.29 421.80,82.95 422.00,73.77 422.20,70.71 422.40,79.88 422.60,84.10 422.80,79.71 423.00,84.10 423.20,89.57 423.40,87.13 423.60,83.20 423.80,82.69 424.00,75.32 424.20,82.69 424.40,89.95 424.60,89.50 424.80,88.76 425.00,91.03 425.20,87.98 425.40,76.44 425.60,67.00 425.80,76.44 426.00,87.98 426.20,91.03 426.40,91.12 426.60,88.99 426.80,86.41 427.00,84.02 427.20,86.41 427.40,89.82 427.60,91.23 427.80,90.88 428.00,91.30 428.20,91.04 428.40,91.20 428.60,88.76 428.80,85.67 429.00,83.09 429.20,85.67 429.40,89.48 429.60,84.00 429.80,74.04 430.00,84.00 430.20,89.41 430.40,89.98 430.60,91.00 430.80,87.67 431.00,75.04 431.20,64.70 431.40,75.04 431.60,87.67 431.80,90.35 432.00,91.29 432.20,89.31 432.40,90.13 432.60,91.14 432.80,89.64 433.00,88.80 433.20,89.82 433.40,90.73 433.60,89.37 433.80,90.94 434.00,87.86 434.20,84.00 434.40,87.86 434.60,90.19 434.80,90.14 435.00,90.45 435.20,87.35 435.40,84.70 435.60,87.35 435.80,84.32 436.00,80.00 436.20,82.41 436.40,84.17 436.60,71.99 436.80,84.17 437.00,89.68 437.20,90.63" fill="none" stroke="#000" stroke-width="0.45" stroke-linejoin="round"/>
<text x="330.00" y="21.23" font-size="6.2" text-anchor="middle" font-weight="bold" fill="#000" stroke="#000" stroke-width="0.22" textLength="7.05" lengthAdjust="spacingAndGlyphs">0.36</text>
<text x="336.50" y="62.73" font-size="6.2" text-anchor="middle" font-weight="bold" fill="#000" stroke="#000" stroke-width="0.22" textLength="7.05" lengthAdjust="spacingAndGlyphs">0.60</text>
<text x="343.70" y="17.33" font-size="6.2" text-anchor="middle" font-weight="bold" fill="#000" stroke="#000" stroke-width="0.22" textLength="7.05" lengthAdjust="spacingAndGlyphs">1.68</text>
<text x="348.20" y="37.93" font-size="6.2" text-anchor="middle" font-weight="bold" fill="#000" stroke="#000" stroke-width="0.22" textLength="7.05" lengthAdjust="spacingAndGlyphs">1.86</text>
<text x="348.80" y="63.93" font-size="6.2" text-anchor="middle" font-weight="bold" fill="#000" stroke="#000" stroke-width="0.22" textLength="7.05" lengthAdjust="spacingAndGlyphs">2.39</text>
<text x="352.70" y="56.23" font-size="6.2" text-anchor="middle" font-weight="bold" fill="#000" stroke="#000" stroke-width="0.22" textLength="7.05" lengthAdjust="spacingAndGlyphs">2.43</text>
<text x="357.50" y="76.23" font-size="6.2" text-anchor="middle" font-weight="bold" fill="#000" stroke="#000" stroke-width="0.22" textLength="7.05" lengthAdjust="spacingAndGlyphs">2.75</text>
<text x="362.20" y="61.43" font-size="6.2" text-anchor="middle" font-weight="bold" fill="#000" stroke="#000" stroke-width="0.22" textLength="7.05" lengthAdjust="spacingAndGlyphs">3.29</text>
<text x="368.50" y="71.03" font-size="6.2" text-anchor="middle" font-weight="bold" fill="#000" stroke="#000" stroke-width="0.22" textLength="7.05" lengthAdjust="spacingAndGlyphs">3.83</text>
<text x="374.00" y="65.03" font-size="6.2" text-anchor="middle" font-weight="bold" fill="#000" stroke="#000" stroke-width="0.22" textLength="7.05" lengthAdjust="spacingAndGlyphs">4.30</text>
<text x="382.70" y="62.93" font-size="6.2" text-anchor="middle" font-weight="bold" fill="#000" stroke="#000" stroke-width="0.22" textLength="7.05" lengthAdjust="spacingAndGlyphs">5.07</text>
<text x="388.40" y="49.33" font-size="6.2" text-anchor="middle" font-weight="bold" fill="#000" stroke="#000" stroke-width="0.22" textLength="7.05" lengthAdjust="spacingAndGlyphs">5.59</text>
<text x="398.80" y="65.13" font-size="6.2" text-anchor="middle" font-weight="bold" fill="#000" stroke="#000" stroke-width="0.22" textLength="7.05" lengthAdjust="spacingAndGlyphs">6.51</text>
<text x="406.80" y="66.93" font-size="6.2" text-anchor="middle" font-weight="bold" fill="#000" stroke="#000" stroke-width="0.22" textLength="7.05" lengthAdjust="spacingAndGlyphs">6.85</text>
<text x="415.90" y="76.23" font-size="6.2" text-anchor="middle" font-weight="bold" fill="#000" stroke="#000" stroke-width="0.22" textLength="7.05" lengthAdjust="spacingAndGlyphs">8.01</text>
<text x="421.00" y="62.93" font-size="6.2" text-anchor="middle" font-weight="bold" fill="#000" stroke="#000" stroke-width="0.22" textLength="7.05" lengthAdjust="spacingAndGlyphs">8.47</text>
<text x="431.80" y="64.43" font-size="6.2" text-anchor="middle" font-weight="bold" fill="#000" stroke="#000" stroke-width="0.22" textLength="7.05" lengthAdjust="spacingAndGlyphs">9.45</text>
<text x="437.30" y="80.23" font-size="6.2" text-anchor="middle" font-weight="bold" fill="#000" stroke="#000" stroke-width="0.22" textLength="7.05" lengthAdjust="spacingAndGlyphs">9.96</text>
<polyline points="472.00,90.93 472.20,89.54 472.40,90.90 472.60,90.59 472.80,90.65 473.00,89.80 473.20,90.12 473.40,87.23 473.70,79.60 474.00,87.23 474.20,90.49 474.40,90.97 474.60,90.90 474.80,88.40 475.00,91.00 475.20,89.57 475.40,90.12 475.60,89.02 475.80,88.94 476.00,90.97 476.20,88.53 476.40,90.96 476.60,90.97 476.80,90.88 477.00,89.66 477.20,90.13 477.40,89.70 477.60,90.90 477.80,90.43 478.00,90.75 478.20,88.30 478.40,90.15 478.60,89.66 478.80,90.50 479.00,90.97 479.20,90.98 479.40,90.89 479.60,89.50 479.80,90.91 480.00,90.41 480.20,90.72 480.40,90.97 480.60,90.67 480.80,90.39 481.00,88.57 481.20,89.30 481.40,90.53 481.60,88.17 481.80,78.32 482.00,70.30 482.20,78.32 482.40,86.24 482.60,90.77 482.80,90.92 483.00,90.62 483.20,90.16 483.40,90.99 483.60,91.00 483.80,90.20 484.00,91.00 484.20,89.08 484.40,89.78 484.60,90.45 484.80,88.08 485.00,88.54 485.20,72.82 485.50,35.20 485.80,72.82 486.00,80.00 486.20,83.36 486.40,88.44 486.60,89.62 486.80,90.80 487.00,88.40 487.20,87.45 487.40,75.11 487.60,65.00 487.80,75.11 488.00,87.45 488.20,86.56 488.40,84.68 488.60,86.56 488.80,89.45 489.00,88.10 489.20,90.45 489.40,88.83 489.60,86.25 489.80,83.60 490.00,79.00 490.20,83.60 490.40,88.53 490.60,89.12 490.80,90.99 491.00,90.02 491.20,88.92 491.40,90.62 491.60,89.30 491.80,91.00 492.00,90.31 492.20,89.47 492.40,90.54 492.60,90.98 492.80,88.24 493.00,89.14 493.20,90.82 493.40,89.53 493.60,90.94 493.80,89.99 494.00,89.61 494.20,90.05 494.40,90.52 494.60,89.07 494.80,90.58 495.00,90.99 495.20,90.95 495.40,90.95 495.60,89.30 495.80,90.99 496.00,88.28 496.20,90.12 496.40,90.99 496.60,88.40 496.80,88.12 497.00,90.88 497.20,90.17 497.40,90.88 497.60,90.96 497.80,90.99 498.00,88.75 498.20,90.89 498.40,90.91 498.60,90.94 498.80,90.81 499.00,88.40 499.20,90.91 499.40,90.93 499.60,90.99 499.80,89.63 500.00,90.58 500.20,87.34 500.40,75.16 500.70,42.40 501.00,75.16 501.20,88.86 501.40,90.77 501.60,88.58 501.80,88.07 502.00,90.88 502.20,88.98 502.40,90.66 502.60,86.86 502.80,72.44 503.00,60.60 503.20,72.44 503.40,86.86 503.60,90.60 503.80,90.35 504.00,89.33 504.20,89.49 504.40,85.68 504.60,82.91 504.80,85.68 505.00,88.39 505.20,90.32 505.40,90.91 505.60,90.76 505.80,90.21 506.00,83.57 506.20,75.30 506.40,83.57 506.60,90.21 506.80,89.72 507.00,88.59 507.20,89.42 507.40,90.85 507.60,89.21 507.80,82.99 508.00,78.00 508.20,82.99 508.40,89.21 508.60,90.85 508.80,91.00 509.00,88.89 509.20,91.00 509.40,90.44 509.60,87.86 509.80,76.93 510.00,68.00 510.20,76.93 510.40,87.86 510.60,90.62 510.80,90.95 511.00,88.71 511.20,83.17 511.40,77.19 511.60,83.17 511.80,89.58 512.00,90.25 512.20,90.86 512.40,89.88 512.60,90.05 512.80,89.14 513.00,89.12 513.20,90.98 513.40,89.10 513.60,83.93 513.80,79.81 514.00,83.93 514.20,89.22 514.40,90.30 514.60,90.23 514.80,90.33 515.00,89.67 515.20,81.20 515.50,61.00 515.80,81.20 516.00,89.67 516.20,90.93 516.40,89.46 516.60,90.99 516.80,88.81 517.00,90.31 517.20,90.14 517.40,90.63 517.60,90.20 517.80,90.84 518.00,87.75 518.20,67.01 518.50,17.30 518.80,67.01 519.00,87.75 519.20,89.86 519.40,91.00 519.60,89.81 519.80,90.76 520.00,90.93 520.20,90.68 520.40,88.69 520.60,87.43 520.80,81.94 521.00,87.43 521.20,90.31 521.40,90.72 521.60,87.59 521.80,75.72 522.00,66.00 522.20,75.72 522.40,87.59 522.60,90.72 522.80,90.86 523.00,90.99 523.20,88.19 523.40,89.52 523.60,89.54 523.80,86.46 524.00,84.36 524.20,86.46 524.40,89.54 524.60,90.35 524.80,90.21 525.00,90.63 525.20,90.88 525.40,90.05 525.60,89.80 525.80,90.88 526.00,90.97 526.20,89.32 526.40,87.97 526.60,89.43 526.80,88.74 527.00,74.31 527.30,39.80 527.60,74.31 527.80,87.99 528.00,90.89 528.20,87.86 528.40,90.96 528.60,90.76 528.80,89.93 529.00,83.08 529.30,66.80 529.60,83.08 529.80,89.27 530.00,90.76 530.20,91.00 530.40,89.99 530.60,90.89 530.80,90.42 531.00,89.17 531.20,87.88 531.40,90.96 531.60,88.26 531.80,90.87 532.00,90.23 532.20,88.98 532.40,89.59 532.60,90.61 532.80,88.41 533.00,90.93 533.20,88.83 533.40,87.76 533.60,87.92 533.80,82.65 534.00,87.92 534.20,90.98 534.40,90.67 534.60,90.55 534.80,90.94 535.00,90.38 535.20,88.73 535.40,89.63 535.60,90.76 535.80,90.97 536.00,90.97 536.20,88.83 536.40,90.83 536.60,90.05 536.80,90.91 537.00,89.43 537.20,90.98 537.40,90.34 537.60,90.43 537.80,90.21 538.00,90.89 538.20,89.50 538.40,87.83 538.60,90.89 538.80,90.99 539.00,90.79 539.20,90.67 539.40,88.45 539.60,91.00 539.80,91.00 540.00,90.12 540.20,90.34 540.40,89.14 540.60,83.36 540.80,78.76 541.00,83.36 541.20,89.14 541.40,85.74 541.70,75.00 542.00,85.74 542.20,88.25 542.40,83.44 542.60,77.18 542.80,83.44 543.00,89.76 543.20,89.59 543.40,82.95 543.60,76.60 543.80,82.95 544.00,89.59 544.20,90.80 544.40,90.63 544.60,88.76 544.80,88.76 545.00,90.82 545.20,89.85 545.40,89.76 545.60,81.70 545.80,72.79 546.00,81.70 546.20,86.87 546.40,88.83 546.60,84.68 546.80,86.29 547.00,81.16 547.20,86.29 547.40,86.55 547.60,90.65 547.80,89.48 548.00,90.79 548.20,89.24 548.40,81.85 548.60,90.49 548.80,90.00 549.00,84.04 549.20,81.72 549.40,88.78 549.60,88.42 549.80,88.87 550.00,86.59 550.20,83.22 550.40,83.11 550.60,87.86 550.80,76.93 551.00,68.00 551.20,76.93 551.40,81.63 551.60,90.74 551.80,86.12 552.00,85.15 552.20,81.44 552.40,71.75 552.60,81.44 552.80,82.02 553.00,85.78 553.20,90.12 553.40,84.32 553.60,88.15 553.80,82.34 554.00,78.47 554.20,81.75 554.40,88.15 554.60,88.61 554.80,80.38 555.10,58.50 555.40,80.38 555.60,85.90 555.80,83.78 556.00,81.83 556.20,84.56 556.40,90.20 556.60,87.72 556.80,76.32 557.00,67.00 557.20,76.32 557.40,75.88 557.60,82.14 557.80,82.39 558.00,77.00 558.20,73.77 558.40,78.17 558.60,71.82 558.80,78.17 559.00,86.45 559.20,86.83 559.40,89.80 559.60,90.50 559.80,86.63 560.00,87.42 560.20,89.36 560.40,90.67 560.60,90.98 560.80,89.69 561.00,86.84 561.20,87.56 561.40,88.76 561.60,86.68 561.80,82.61 562.00,86.68 562.20,90.41 562.40,90.26 562.60,90.68 562.80,90.92 563.00,90.40 563.20,89.81 563.40,87.59 563.60,86.16 563.80,87.59 564.00,89.81 564.20,88.26 564.40,88.64 564.60,86.86 564.80,72.44 565.00,60.60 565.20,72.44 565.40,86.86 565.60,90.66 565.80,91.00 566.00,89.83 566.20,90.79 566.40,90.89 566.60,90.38 566.80,89.34 567.00,90.54 567.20,90.26 567.40,89.51 567.60,90.99 567.80,90.38 568.00,91.00 568.20,90.92 568.40,90.97 568.60,90.94 568.80,88.75 569.00,91.00 569.20,90.46 569.40,90.99 569.60,91.00 569.80,88.76 570.00,90.42 570.20,88.94 570.40,81.78 570.60,76.00 570.80,81.78 571.00,88.94 571.20,90.83 571.40,89.89 571.60,88.45 571.80,90.93 572.00,90.67 572.20,89.90 572.40,90.25 572.60,89.71 572.80,91.00 573.00,90.89 573.20,89.93 573.40,89.69 573.60,89.98 573.80,89.45 574.00,89.46 574.20,91.00 574.40,90.82 574.60,90.99 574.80,90.98 575.00,89.54 575.20,86.55 575.50,84.00 575.80,88.66 576.00,88.70 576.20,90.74 576.40,89.96 576.60,89.24 576.80,89.52 577.00,90.80 577.20,90.60 577.40,89.66 577.60,90.41 577.80,90.64 578.00,88.92 578.20,90.88 578.40,89.95 578.60,90.30 578.80,87.85 579.00,86.00 579.20,87.85 579.40,89.58 579.60,90.50 579.80,90.31 580.00,89.94 580.20,87.37 580.40,85.52 580.60,87.37 580.80,89.94 581.00,88.95 581.20,90.16 581.40,90.99 581.60,90.84 581.80,90.97 582.00,90.83 582.20,90.97 582.40,89.91 582.60,90.97 582.80,90.61" fill="none" stroke="#000" stroke-width="0.45" stroke-linejoin="round"/>
<text x="475.90" y="80.63" font-size="6.2" text-anchor="middle" font-weight="bold" fill="#000" stroke="#000" stroke-width="0.22" textLength="7.05" lengthAdjust="spacingAndGlyphs">0.35</text>
<text x="479.60" y="69.53" font-size="6.2" text-anchor="middle" font-weight="bold" fill="#000" stroke="#000" stroke-width="0.22" textLength="7.05" lengthAdjust="spacingAndGlyphs">0.96</text>
<text x="485.60" y="34.83" font-size="6.2" text-anchor="middle" font-weight="bold" fill="#000" stroke="#000" stroke-width="0.22" textLength="7.05" lengthAdjust="spacingAndGlyphs">1.22</text>
<text x="490.40" y="65.33" font-size="6.2" text-anchor="middle" font-weight="bold" fill="#000" stroke="#000" stroke-width="0.22" textLength="7.05" lengthAdjust="spacingAndGlyphs">1.38</text>
<text x="490.40" y="78.23" font-size="6.2" text-anchor="middle" font-weight="bold" fill="#000" stroke="#000" stroke-width="0.22" textLength="7.05" lengthAdjust="spacingAndGlyphs">1.99</text>
<text x="500.70" y="41.43" font-size="6.2" text-anchor="middle" font-weight="bold" fill="#000" stroke="#000" stroke-width="0.22" textLength="7.05" lengthAdjust="spacingAndGlyphs">2.58</text>
<text x="503.50" y="60.23" font-size="6.2" text-anchor="middle" font-weight="bold" fill="#000" stroke="#000" stroke-width="0.22" textLength="7.05" lengthAdjust="spacingAndGlyphs">2.91</text>
<text x="509.40" y="78.03" font-size="6.2" text-anchor="middle" font-weight="bold" fill="#000" stroke="#000" stroke-width="0.22" textLength="7.05" lengthAdjust="spacingAndGlyphs">3.33</text>
<text x="509.40" y="67.93" font-size="6.2" text-anchor="middle" font-weight="bold" fill="#000" stroke="#000" stroke-width="0.22" textLength="7.05" lengthAdjust="spacingAndGlyphs">3.88</text>
<text x="512.40" y="59.23" font-size="6.2" text-anchor="middle" font-weight="bold" fill="#000" stroke="#000" stroke-width="0.22" textLength="7.05" lengthAdjust="spacingAndGlyphs">3.56</text>
<text x="518.30" y="16.63" font-size="6.2" text-anchor="middle" font-weight="bold" fill="#000" stroke="#000" stroke-width="0.22" textLength="7.05" lengthAdjust="spacingAndGlyphs">4.16</text>
<text x="527.20" y="39.73" font-size="6.2" text-anchor="middle" font-weight="bold" fill="#000" stroke="#000" stroke-width="0.22" textLength="7.05" lengthAdjust="spacingAndGlyphs">4.91</text>
<text x="531.30" y="66.53" font-size="6.2" text-anchor="middle" font-weight="bold" fill="#000" stroke="#000" stroke-width="0.22" textLength="7.05" lengthAdjust="spacingAndGlyphs">5.34</text>
<text x="537.30" y="74.73" font-size="6.2" text-anchor="middle" font-weight="bold" fill="#000" stroke="#000" stroke-width="0.22" textLength="7.05" lengthAdjust="spacingAndGlyphs">6.29</text>
<text x="549.20" y="67.43" font-size="6.2" text-anchor="middle" font-weight="bold" fill="#000" stroke="#000" stroke-width="0.22" textLength="7.05" lengthAdjust="spacingAndGlyphs">7.23</text>
<text x="556.50" y="57.93" font-size="6.2" text-anchor="middle" font-weight="bold" fill="#000" stroke="#000" stroke-width="0.22" textLength="7.05" lengthAdjust="spacingAndGlyphs">7.49</text>
<text x="560.60" y="67.33" font-size="6.2" text-anchor="middle" font-weight="bold" fill="#000" stroke="#000" stroke-width="0.22" textLength="7.05" lengthAdjust="spacingAndGlyphs">7.66</text>
<text x="561.30" y="77.43" font-size="6.2" text-anchor="middle" font-weight="bold" fill="#000" stroke="#000" stroke-width="0.22" textLength="7.05" lengthAdjust="spacingAndGlyphs">7.55</text>
<text x="565.10" y="59.53" font-size="6.2" text-anchor="middle" font-weight="bold" fill="#000" stroke="#000" stroke-width="0.22" textLength="7.05" lengthAdjust="spacingAndGlyphs">8.36</text>
<text x="570.60" y="75.83" font-size="6.2" text-anchor="middle" font-weight="bold" fill="#000" stroke="#000" stroke-width="0.22" textLength="7.05" lengthAdjust="spacingAndGlyphs">8.77</text>
<text x="577.30" y="84.53" font-size="6.2" text-anchor="middle" font-weight="bold" fill="#000" stroke="#000" stroke-width="0.22" textLength="7.05" lengthAdjust="spacingAndGlyphs">9.42</text>
<text x="583.00" y="86.83" font-size="6.2" text-anchor="middle" font-weight="bold" fill="#000" stroke="#000" stroke-width="0.22" textLength="7.05" lengthAdjust="spacingAndGlyphs">9.58</text>
<polyline points="71.60,36.00 71.60,31.40 73.60,31.40" fill="none" stroke="#333" stroke-width="0.5"/>
<polyline points="403.90,67.50 403.90,65.00 404.40,65.00" fill="none" stroke="#333" stroke-width="0.5"/>
<polyline points="541.70,75.50 541.70,72.90 540.20,72.90" fill="none" stroke="#333" stroke-width="0.5"/>
<polyline points="515.50,61.50 515.50,57.60 515.00,57.60" fill="none" stroke="#333" stroke-width="0.5"/>
<polyline points="482.20,70.50 482.20,67.60 481.90,67.60" fill="none" stroke="#333" stroke-width="0.5"/>
<polyline points="88.30,48.00 88.30,45.60 88.90,45.60" fill="none" stroke="#333" stroke-width="0.5"/>
<polyline points="557.00,67.50 557.00,65.40 558.60,65.40" fill="none" stroke="#333" stroke-width="0.5"/>
<polyline points="558.00,77.50 558.00,75.50 559.10,75.50" fill="none" stroke="#333" stroke-width="0.5"/>
</svg>
</body></html>
